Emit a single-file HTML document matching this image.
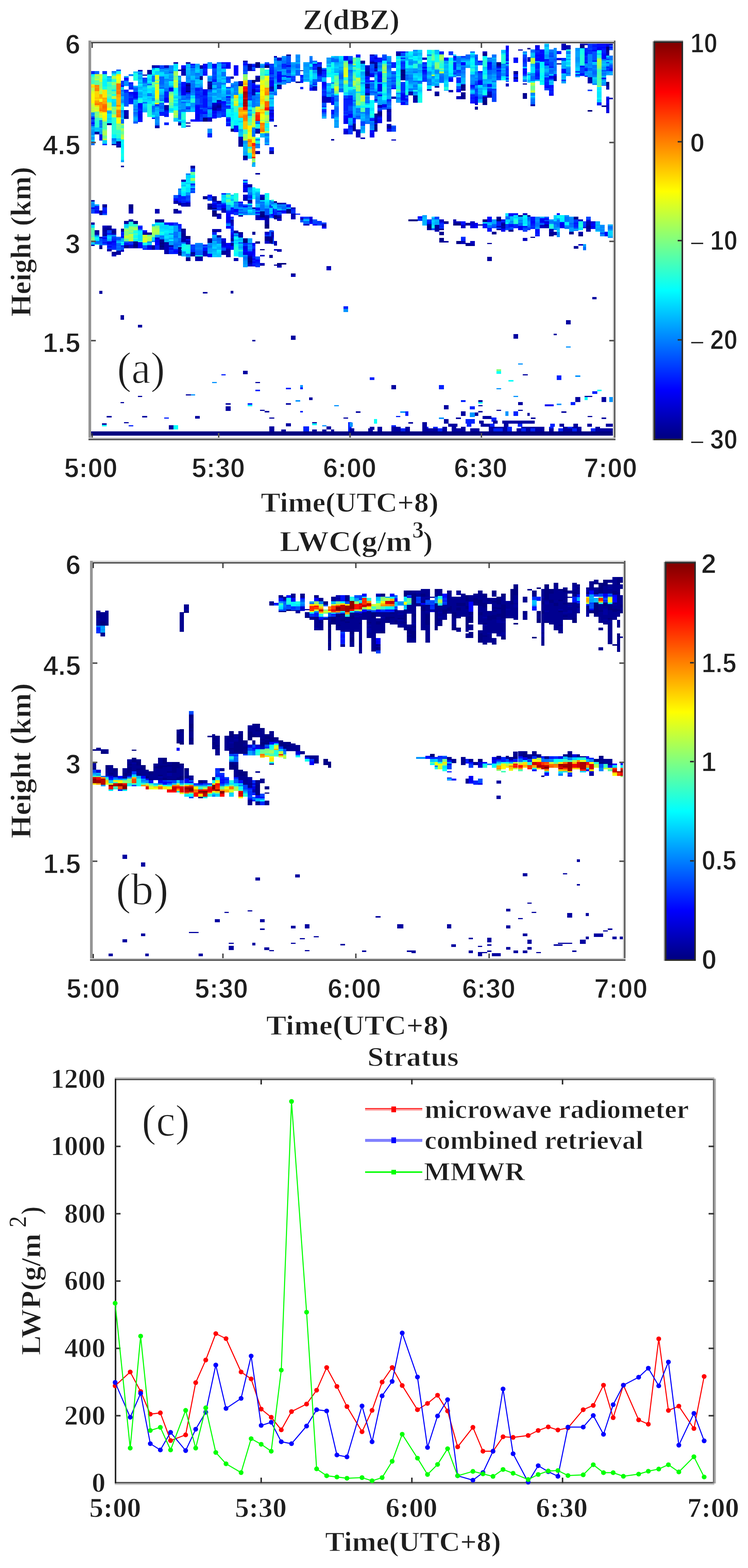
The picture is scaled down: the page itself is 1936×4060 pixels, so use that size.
<!DOCTYPE html><html><head><meta charset="utf-8"><style>html,body{margin:0;padding:0;background:#fff;}svg{display:block}</style></head><body>
<svg width="1936" height="4060" viewBox="0 0 1936 4060">
<rect x="0" y="0" width="1936" height="4060" fill="#ffffff"/>
<path fill="#0022ff" shape-rendering="crispEdges" d="M236 184h9v8h-9zM236 325h9v1h-9zM244.7 533h12.3v4h-12.3zM244.7 541h12.3v4h-12.3zM264.6 373h12.2v3h-12.2zM265.2 537h11.7v8h-11.7zM276.9 633h11.7v4h-11.7zM288.6 620h12.1v4h-12.1zM288.6 635h12.1v8h-12.1zM313.1 600h7.8v4h-7.8zM313.1 608h7.8v4h-7.8zM313.1 635h7.8v4h-7.8zM320.7 232h12v8h-12zM332.7 225h12.1v7h-12.1zM332.7 246h12.1v4h-12.1zM332.7 266h12.1v4h-12.1zM333 1101h12v3h-12zM356.8 283h11.9v4h-11.9zM368.8 643h11.7v4h-11.7zM400.9 270h11.7v4h-11.7zM401 635h11.7v12h-11.7zM412 177h12.7v1h-12.7zM412 294h12.7v4h-12.7zM424.7 237h12.3v16h-12.3zM424.7 290h12.3v4h-12.3zM424.7 317h12.3v7h-12.3zM425 1081h12v3h-12zM436.8 651h12.1v7h-12.1zM460.6 509h8.3v12h-8.3zM460.6 584h9.4v8h-9.4zM468.9 508h11.8v8h-11.8zM468.9 520h11.8v4h-11.8zM493 475h11.7v4h-11.7zM493 649h11.7v4h-11.7zM504.8 227h12.3v4h-12.3zM504.8 243h12.3v4h-12.3zM517.1 247h7.9v4h-7.9zM517.1 271h7.9v8h-7.9zM517.1 311h7.9v4h-7.9zM524.6 633h12.1v4h-12.1zM525 177h12.1v8h-12.1zM525 247h12.1v8h-12.1zM525 287h12.1v4h-12.1zM525 303h12.1v2h-12.1zM537.1 279h11.7v4h-11.7zM537.1 344.5h11.7v11.5h-11.7zM548.8 205h12.1v4h-12.1zM549.1 522h12.1v4h-12.1zM549.1 601h12.1v7h-12.1zM573 969h11v3h-11zM573.2 173h11.8v4h-11.8zM573.2 270h11.8v8h-11.8zM573.2 282h11.8v8h-11.8zM573.2 298h11.8v4h-11.8zM584.8 545h12.2v4h-12.2zM585 273h11.7v4h-11.7zM597 541h7.8v4h-7.8zM597 553h7.8v2h-7.8zM597 561h7.8v4h-7.8zM597 589h7.8v4h-7.8zM597 645h7.8v2h-7.8zM616.9 529h12.3v4h-12.3zM628.9 161h11.8v4h-11.8zM629.2 629h11.7v4h-11.7zM640.7 239h11.3v4h-11.3zM640.9 509h12.1v4h-12.1zM641 1044h12v4h-12zM653 641h8v4h-8zM653 665h8v4h-8zM653 673h8v4h-8zM653 681h8v4h-8zM661 537h11.7v4h-11.7zM661 680h11.7v4h-11.7zM661 1009h12v4h-12zM697 181h12.1v8h-12.1zM697 200h12.1v4h-12.1zM697 381h12.1v10h-12.1zM702 540h6.8v4h-6.8zM708.8 549h7.9v8h-7.9zM729.2 165h11.8v10h-11.8zM740 1004h13v4h-13zM752.8 541h12.1v4h-12.1zM764.9 553h12.3v3h-12.3zM777 1003h7v5h-7zM777 1064h7v4h-7zM777.1 198h7.8v4h-7.8zM777.1 206h7.8v4h-7.8zM777.1 225h7.8v6h-7.8zM785 1104h15v13h-15zM808.7 169h12.4v4h-12.4zM808.7 177h12.4v4h-12.4zM821.1 165h11.7v4h-11.7zM832.8 184h12.3v8h-12.3zM832.8 228h12.3v4h-12.3zM832.8 236h12.3v4h-12.3zM888.9 259h11.8v28h-11.8zM888.9 291h11.8v4h-11.8zM889 793h12v7h-12zM900.7 247h12.3v8h-12.3zM900.7 259h12.3v12h-12.3zM900.7 329h12.3v4h-12.3zM901 1093h9v24h-9zM913 317h7.8v3h-7.8zM945.1 205h11.7v4h-11.7zM945.1 229h11.7v8h-11.7zM956.8 145h11.9v4h-11.9zM957 977h12v7h-12zM976.9 284h12.1v4h-12.1zM977 1109h12v8h-12zM1001 257h12.1v4h-12.1zM1013 1101h12v12h-12zM1013.1 161h11.7v15h-11.7zM1025 1077h11v3h-11zM1036.9 161h12.3v4h-12.3zM1037 1109h12v8h-12zM1049 1065h8v12h-8zM1049.2 247h7.8v4h-7.8zM1049.2 259h7.8v4h-7.8zM1092.8 161h12.1v4h-12.1zM1092.8 189h12.1v4h-12.1zM1097 1105h12v4h-12zM1105.1 572h12v4h-12zM1121 1105h12v4h-12zM1133 1109h12v8h-12zM1136 997h13v11h-13zM1136.7 133h12.3v8h-12.3zM1137 576h12.1v4h-12.1zM1137 584h12.1v4h-12.1zM1172.9 149h8.2v4h-8.2zM1172.9 161h8.2v20h-8.2zM1181.1 200h11.7v15h-11.7zM1192.8 617h12.1v7h-12.1zM1193 1036h12v5h-12zM1205 1085h24v12h-24zM1208 1097h12v8h-12zM1216 1052h13v8h-13zM1216.8 224h12.3v4h-12.3zM1216.8 244h12.3v8h-12.3zM1216.8 256h12.3v4h-12.3zM1260.8 177h12.1v4h-12.1zM1260.8 217h12.1v4h-12.1zM1260.8 233h12.1v4h-12.1zM1268 1097h12v8h-12zM1272 1081h13v11h-13zM1277 1109h12v8h-12zM1285.2 573h12v12h-12zM1289 1109h12v8h-12zM1297.2 572h11v4h-11zM1308.7 134h8.4v8h-8.4zM1308.7 146h8.4v4h-8.4zM1308.7 162h8.4v4h-8.4zM1308.7 178h8.4v4h-8.4zM1308.7 202h8.4v4h-8.4zM1313 1105h12v12h-12zM1328.5 584h12.1v7h-12.1zM1328.8 196h12.1v4h-12.1zM1329 1065h12v12h-12zM1340 1097h12v8h-12zM1349 1109h12v8h-12zM1352.7 153h11.3v8h-11.3zM1373 581h11.9v4h-11.9zM1373 589h11.9v4h-11.9zM1373 1109h12v8h-12zM1384.9 605h12v4h-12zM1385 134h12.1v4h-12.1zM1385 166h12.1v12h-12.1zM1385 186h12.1v4h-12.1zM1385 198h12.1v8h-12.1zM1408.9 200h12.1v8h-12.1zM1408.9 212h12.1v8h-12.1zM1421 172h11.7v4h-11.7zM1421 228h11.7v4h-11.7zM1421 236h11.7v4h-11.7zM1421 1105h12v4h-12zM1424 1097h12v8h-12zM1440.7 132h12.1v4h-12.1zM1441 972h12v12h-12zM1445 1109h12v8h-12zM1452.8 150h12.3v4h-12.3zM1469 1105h12v4h-12zM1477 1041h12v8h-12zM1481 1109h12v8h-12zM1485.3 580h12v8h-12zM1488.9 192h11.8v4h-11.8zM1512.8 124h8.4v12h-8.4zM1512.8 148h8.4v8h-8.4zM1512.8 176h8.4v4h-8.4zM1521.2 129h11.8v4h-11.8zM1529 1109h12v8h-12zM1533 113h11.7v4h-11.7zM1533 121h11.7v8h-11.7zM1533 1013h13v7h-13zM1544.7 265h12.3v8h-12.3zM1557 129h12.1v8h-12.1zM1569.1 172h7.8v4h-7.8zM1569.1 250h7.8v4h-7.8zM1576.9 176h12.1v4h-12.1z"/>
<path fill="#00f5ff" shape-rendering="crispEdges" d="M236 192h9v4h-9zM264.6 204h12.2v20h-12.2zM288.8 348h12v10h-12zM312.5 279h8.2v4h-8.2zM312.5 361h8.2v8h-8.2zM312.5 373h8.2v12h-8.2zM344.9 620h12.1v4h-12.1zM356.8 217h11.9v4h-11.9zM356.8 253h11.9v4h-11.9zM357 600h11.8v8h-11.8zM380.8 197h12v4h-12zM380.8 209h12v4h-12zM380.8 237h12v4h-12zM392.8 180h8.1v4h-8.1zM401 576h11.7v4h-11.7zM412.7 576h12.3v4h-12.3zM425 598h11.8v4h-11.8zM436.8 620h12.1v4h-12.1zM437 210h12.1v4h-12.1zM437 288h12.1v4h-12.1zM449.1 177h11.8v4h-11.8zM460.9 310h8.2v4h-8.2zM468.9 495h11.8v4h-11.8zM468.9 631h11.8v4h-11.8zM468.9 647h11.8v4h-11.8zM480.7 469h12.3v4h-12.3zM480.7 482h12.3v4h-12.3zM493 457h11.7v4h-11.7zM561.2 647h11.9v4h-11.9zM573.2 227h11.8v4h-11.8zM584.8 512h12.2v4h-12.2zM585 294h11.7v8h-11.7zM596.7 271h8.4v8h-8.4zM596.7 291h8.4v4h-8.4zM596.7 299h8.4v12h-8.4zM597 508h7.8v4h-7.8zM604.8 656h12.1v4h-12.1zM605.1 311h11.7v14h-11.7zM616.8 247h12.1v4h-12.1zM616.8 255h12.1v4h-12.1zM616.8 263h12.1v4h-12.1zM640.7 276h11.3v4h-11.3zM640.7 380h11.3v4h-11.3zM640.7 400h11.3v4h-11.3zM640.9 527h12.1v4h-12.1zM640.9 543h12.1v4h-12.1zM653 485h8v8h-8zM661 536h11.7v1h-11.7zM684.8 319h12.2v4h-12.2zM684.8 327h12.2v4h-12.2zM684.8 500h12.2v4h-12.2zM684.8 516h12.2v4h-12.2zM800.9 165h7.8v4h-7.8zM800.9 201h7.8v4h-7.8zM845.1 189h11.7v4h-11.7zM856.8 181h8.2v4h-8.2zM856.8 189h8.2v4h-8.2zM856.8 197h8.2v8h-8.2zM865 243h11.7v4h-11.7zM900.7 229h12.3v4h-12.3zM920.8 193h12.2v8h-12.2zM933 225h12.1v8h-12.1zM933 275h12.1v4h-12.1zM956.8 263h11.9v4h-11.9zM956.8 303h11.9v2h-11.9zM989 157h12v8h-12zM989 217h12v4h-12zM1024.8 185h12.1v8h-12.1zM1049.2 161h7.8v4h-7.8zM1049.2 209h7.8v12h-7.8zM1057 133h11.8v8h-11.8zM1057 169h11.8v4h-11.8zM1068.8 149h12.3v4h-12.3zM1081.1 205h11.7v4h-11.7zM1081.1 241h11.7v4h-11.7zM1081.1 265h11.7v1h-11.7zM1104.9 129h11.8v12h-11.8zM1104.9 157h11.8v4h-11.8zM1161.1 149h11.8v8h-11.8zM1161.1 193h11.8v4h-11.8zM1216.8 137h12.3v4h-12.3zM1216.8 161h12.3v8h-12.3zM1249 145h11.8v4h-11.8zM1249 185h11.8v4h-11.8zM1249 233h11.8v4h-11.8zM1328.5 565h12.1v4h-12.1zM1352.9 561h12.1v4h-12.1zM1364.9 195h7.8v8h-7.8zM1397.1 160h11.8v16h-11.8zM1397.1 196h11.8v4h-11.8zM1448.9 557h12.5v4h-12.5zM1448.9 565h12.5v8h-12.5zM1461.4 575h12v8h-12zM1465.1 156h11.8v4h-11.8zM1544.7 130h12.3v4h-12.3zM1544.7 225h12.3v4h-12.3zM1544.7 233h12.3v4h-12.3z"/>
<path fill="#06fff9" shape-rendering="crispEdges" d="M236 196h9v2h-9zM244.7 616h12.3v4h-12.3zM264 1100h12v4h-12zM276.8 256h12v8h-12zM288.8 244h12v4h-12zM300.8 184h11.7v4h-11.7zM312.5 369h8.2v4h-8.2zM312.5 385h8.2v12h-8.2zM312.5 405h8.2v9h-8.2zM313.1 625h7.8v4h-7.8zM313.1 633h7.8v2h-7.8zM344.9 612h12.1v4h-12.1zM356.8 265h11.9v2h-11.9zM368.8 628h11.7v4h-11.7zM380.8 193h12v4h-12zM392.8 184h8.1v4h-8.1zM392.8 298h8.1v4h-8.1zM400.9 176h11.7v4h-11.7zM412.7 604h12.3v4h-12.3zM449 1101h12v11h-12zM449.1 227h11.8v16h-11.8zM449.1 275h11.8v11h-11.8zM468.9 487h11.8v4h-11.8zM468.9 635h11.8v4h-11.8zM469.1 290h11.7v4h-11.7zM469.1 322h11.7v4h-11.7zM480.7 478h12.3v4h-12.3zM480.7 645h12.3v4h-12.3zM480.7 653h12.3v4h-12.3zM493 453h11.7v4h-11.7zM493 469h11.7v4h-11.7zM584.8 524h12.2v4h-12.2zM585 290h11.7v4h-11.7zM596.7 311h8.4v4h-8.4zM604.8 612h12.1v8h-12.1zM604.8 632h12.1v4h-12.1zM604.8 652h12.1v4h-12.1zM604.8 660h12.1v4h-12.1zM605.1 291h11.7v20h-11.7zM616.8 259h12.1v4h-12.1zM616.8 275h12.1v3h-12.1zM616.8 305h12.1v8h-12.1zM616.8 321h12.1v4h-12.1zM640.7 280h11.3v4h-11.3zM640.7 304h11.3v1h-11.3zM640.7 396h11.3v4h-11.3zM641 1048h12v4h-12zM653 505h8v8h-8zM660.8 321h11.7v4h-11.7zM661 488h11.7v8h-11.7zM684.8 323h12.2v4h-12.2zM684.8 508h12.2v4h-12.2zM800.9 169h7.8v4h-7.8zM800.9 185h7.8v8h-7.8zM800.9 197h7.8v4h-7.8zM808 1096h12v5h-12zM845.1 173h11.7v4h-11.7zM845.1 197h11.7v3h-11.7zM856.8 161h8.2v4h-8.2zM856.8 173h8.2v4h-8.2zM856.8 193h8.2v4h-8.2zM856.8 209h8.2v4h-8.2zM865 189h11.7v4h-11.7zM920.8 169h12.2v4h-12.2zM920.8 189h12.2v4h-12.2zM945.1 271h11.7v8h-11.7zM956.8 259h11.9v4h-11.9zM956.8 267h11.9v12h-11.9zM956.8 287h11.9v8h-11.9zM956.8 299h11.9v4h-11.9zM968 1085h8v12h-8zM989 221h12v4h-12zM989 251h12v8h-12zM1024.8 169h12.1v8h-12.1zM1024.8 200h12.1v4h-12.1zM1049.2 157h7.8v4h-7.8zM1049.2 165h7.8v12h-7.8zM1049.2 233h7.8v4h-7.8zM1057 149h11.8v4h-11.8zM1068.8 145h12.3v4h-12.3zM1068.8 153h12.3v4h-12.3zM1081.1 221h11.7v4h-11.7zM1081.1 245h11.7v8h-11.7zM1117.1 584h8v4h-8zM1124.9 141h11.8v4h-11.8zM1161.1 169h11.8v20h-11.8zM1161.1 197h11.8v1h-11.8zM1216.8 153h12.3v8h-12.3zM1238 1041h11v4h-11zM1249 149h11.8v4h-11.8zM1249 237h11.8v4h-11.8zM1285 961h12v7h-12zM1297 201h11.7v7h-11.7zM1308.2 576h11.8v4h-11.8zM1316 984h13v4h-13zM1352.9 557h12.1v4h-12.1zM1352.9 581h12.1v4h-12.1zM1372.7 210h12.3v4h-12.3zM1397.1 188h11.8v8h-11.8zM1397.1 200h11.8v4h-11.8zM1397.1 212h11.8v8h-11.8zM1440.9 561h8v4h-8zM1448.9 561h12.5v4h-12.5zM1500.7 125h12.1v4h-12.1zM1513 1028h8v8h-8zM1544.7 253h12.3v4h-12.3zM1546 1009h11v4h-11z"/>
<path fill="#47ffb8" shape-rendering="crispEdges" d="M236 198h9v4h-9zM236 206h9v4h-9zM236 214h9v4h-9zM236 610h8.7v4h-8.7zM256.5 305h8.1v6h-8.1zM264.6 315h12.2v4h-12.2zM264.6 331h12.2v4h-12.2zM276.8 224h12v12h-12zM276.8 240h12v4h-12zM288.8 228h12v4h-12zM312.5 328h8.2v4h-8.2zM344.9 584h12.1v4h-12.1zM344.9 604h12.1v4h-12.1zM392.8 224h8.1v2h-8.1zM437 273h12.1v7h-12.1zM584.8 508h12.2v4h-12.2zM605.1 274h11.7v4h-11.7zM628.9 335h11.8v4h-11.8zM640.7 305h11.3v4h-11.3zM640.7 313h11.3v4h-11.3zM672.5 184h12.3v4h-12.3zM684.8 290h12.2v4h-12.2zM865 207h11.7v4h-11.7zM888.9 157h11.8v4h-11.8zM913 161h7.8v4h-7.8zM913 189h7.8v4h-7.8zM913 205h7.8v4h-7.8zM920.8 149h12.2v4h-12.2zM933 263h12.1v8h-12.1zM989 193h12v4h-12zM989 205h12v4h-12zM1136.7 157h12.3v4h-12.3zM1544.7 178h12.3v4h-12.3zM1544.7 186h12.3v8h-12.3zM1544.7 202h12.3v4h-12.3zM1544.7 210h12.3v4h-12.3z"/>
<path fill="#57ffa8" shape-rendering="crispEdges" d="M236 202h9v4h-9zM236 590h8.7v20h-8.7zM245 208h11.5v4h-11.5zM245 216h11.5v4h-11.5zM264.6 319h12.2v12h-12.2zM276.8 212h12v4h-12zM276.8 236h12v4h-12zM276.8 248h12v4h-12zM288.8 220h12v8h-12zM288.8 236h12v4h-12zM288.8 292h12v4h-12zM312.5 324h8.2v4h-8.2zM320.9 590h11.7v4h-11.7zM332.6 602h12.3v4h-12.3zM392.8 212h8.1v4h-8.1zM400.9 214h11.7v4h-11.7zM400.9 262h11.7v4h-11.7zM437 237h12.1v4h-12.1zM584.8 516h12.2v8h-12.2zM652 278h8.8v4h-8.8zM652 286h8.8v4h-8.8zM672.5 180h12.3v4h-12.3zM684.8 294h12.2v4h-12.2zM865 195h11.7v4h-11.7zM913 149h7.8v4h-7.8zM913 173h7.8v4h-7.8zM913 193h7.8v4h-7.8zM913 229h7.8v2h-7.8zM920.8 177h12.2v4h-12.2zM920.8 217h12.2v4h-12.2zM920.8 241h12.2v20h-12.2zM933 279h12.1v11h-12.1zM989 201h12v4h-12zM1116.7 141h8.2v4h-8.2zM1124.9 177h11.8v3h-11.8zM1544.7 194h12.3v8h-12.3zM1544.7 206h12.3v4h-12.3zM1544.7 214h12.3v8h-12.3z"/>
<path fill="#37ffc8" shape-rendering="crispEdges" d="M236 210h9v4h-9zM245 305h11.5v8h-11.5zM245 329h11.5v1h-11.5zM276.8 216h12v4h-12zM276.8 252h12v4h-12zM288.8 204h12v4h-12zM300.8 336h11.7v4h-11.7zM300.8 344h11.7v4h-11.7zM300.8 356h11.7v2h-11.7zM344.9 616h12.1v4h-12.1zM344.9 624h12.1v1h-12.1zM357 624h11.8v3h-11.8zM392.8 220h8.1v4h-8.1zM605.1 278h11.7v12h-11.7zM628.9 339h11.8v8h-11.8zM640.7 309h11.3v4h-11.3zM660.8 329h11.7v4h-11.7zM672.5 188h12.3v8h-12.3zM684.8 331h12.2v4h-12.2zM888.9 200h11.8v4h-11.8zM913 177h7.8v4h-7.8zM920.8 153h12.2v4h-12.2zM989 189h12v4h-12zM989 197h12v4h-12zM1024.8 212h12.1v8h-12.1zM1116.7 129h8.2v4h-8.2zM1116.7 137h8.2v4h-8.2zM1136.7 161h12.3v4h-12.3zM1544.7 182h12.3v4h-12.3z"/>
<path fill="#c8ff37" shape-rendering="crispEdges" d="M236 218h9v1h-9zM236 271h9v7h-9zM236 282h9v4h-9zM236 290h9v1h-9zM245 192h11.5v4h-11.5zM245 280h11.5v4h-11.5zM256.5 196h8.1v8h-8.1zM256.5 208h8.1v4h-8.1zM256.5 232h8.1v4h-8.1zM256.5 301h8.1v4h-8.1zM276.8 267h12v4h-12zM288.8 252h12v4h-12zM288.8 300h12v4h-12zM312.5 356h8.2v5h-8.2zM320.9 610h11.7v4h-11.7zM332.6 606h12.3v4h-12.3zM400.9 222h11.7v4h-11.7zM400.9 230h11.7v4h-11.7zM400.9 254h11.7v4h-11.7zM449.1 224h11.8v3h-11.8zM616.8 223h12.1v4h-12.1zM628.9 363h11.8v1h-11.8zM652 310h8.8v8h-8.8zM652 354h8.8v4h-8.8zM652 418h8.8v4h-8.8zM672.5 274h12.3v4h-12.3zM684.8 208h12.2v4h-12.2zM684.8 220h12.2v4h-12.2zM684.8 251h12.2v4h-12.2zM865 223h11.7v4h-11.7zM865 231h11.7v4h-11.7zM888.9 199h11.8v1h-11.8zM933 247h12.1v4h-12.1zM1136.7 189h12.3v1h-12.3zM1372.7 150h12.3v8h-12.3zM1372.7 214h12.3v4h-12.3zM1372.7 234h12.3v6h-12.3zM1544.7 154h12.3v4h-12.3z"/>
<path fill="#ffe500" shape-rendering="crispEdges" d="M236 219h9v4h-9zM264.6 232h12.2v20h-12.2zM300.8 192h11.7v4h-11.7zM605.1 246h11.7v4h-11.7zM605.1 270h11.7v4h-11.7zM640.7 337h11.3v4h-11.3zM660.8 284h11.7v4h-11.7zM672.5 232h12.3v4h-12.3zM672.5 248h12.3v8h-12.3zM672.5 264h12.3v6h-12.3zM672.5 286h12.3v4h-12.3z"/>
<path fill="#ffd500" shape-rendering="crispEdges" d="M236 223h9v4h-9zM245 236h11.5v16h-11.5zM245 256h11.5v4h-11.5zM245 272h11.5v4h-11.5zM264.6 252h12.2v1h-12.2zM300.8 276h11.7v8h-11.7zM605.1 250h11.7v4h-11.7zM628.9 208h11.8v4h-11.8zM628.9 290h11.8v4h-11.8zM672.5 256h12.3v8h-12.3z"/>
<path fill="#b8ff47" shape-rendering="crispEdges" d="M236 227h9v8h-9zM236 278h9v4h-9zM236 286h9v4h-9zM245 204h11.5v4h-11.5zM256.5 192h8.1v4h-8.1zM256.5 204h8.1v4h-8.1zM256.5 236h8.1v8h-8.1zM256.5 297h8.1v4h-8.1zM264.6 359h12.2v4h-12.2zM276.8 271h12v8h-12zM288.8 200h12v4h-12zM288.8 296h12v4h-12zM312.5 352h8.2v4h-8.2zM320.9 614h11.7v4h-11.7zM332.6 610h12.3v4h-12.3zM332.6 618h12.3v4h-12.3zM368.8 612h11.7v4h-11.7zM380.5 612h12.7v4h-12.7zM380.5 624h12.7v1h-12.7zM393.2 594h7.8v8h-7.8zM401 596h11.7v4h-11.7zM437 249h12.1v4h-12.1zM449.1 216h11.8v8h-11.8zM449.1 294h11.8v4h-11.8zM605.1 266h11.7v4h-11.7zM628.9 359h11.8v4h-11.8zM640.7 388h11.3v4h-11.3zM652 306h8.8v4h-8.8zM652 326h8.8v4h-8.8zM672.5 278h12.3v4h-12.3zM672.5 310h12.3v4h-12.3zM684.8 212h12.2v8h-12.2zM684.8 224h12.2v3h-12.2zM684.8 247h12.2v4h-12.2zM684.8 298h12.2v8h-12.2zM684.8 339h12.2v4h-12.2zM913 209h7.8v4h-7.8zM913 217h7.8v4h-7.8zM920.8 201h12.2v8h-12.2zM933 251h12.1v12h-12.1zM989 185h12v4h-12zM1116.7 193h8.2v4h-8.2zM1136.7 185h12.3v4h-12.3zM1372.7 158h12.3v4h-12.3zM1544.7 158h12.3v4h-12.3z"/>
<path fill="#d9ff26" shape-rendering="crispEdges" d="M236 235h9v4h-9zM236 267h9v4h-9zM245 276h11.5v4h-11.5zM245 288h11.5v1h-11.5zM256.5 292h8.1v4h-8.1zM264.6 307h12.2v4h-12.2zM300.8 212h11.7v4h-11.7zM332.6 622h12.3v3h-12.3zM368.8 608h11.7v4h-11.7zM368.8 616h11.7v12h-11.7zM400.9 194h11.7v12h-11.7zM400.9 210h11.7v4h-11.7zM400.9 218h11.7v4h-11.7zM400.9 226h11.7v4h-11.7zM449.1 208h11.8v4h-11.8zM605.1 262h11.7v4h-11.7zM616.8 227h12.1v12h-12.1zM628.9 220h11.8v3h-11.8zM640.7 357h11.3v3h-11.3zM652 318h8.8v8h-8.8zM660.8 280h11.7v4h-11.7zM660.8 288h11.7v2h-11.7zM672.5 216h12.3v4h-12.3zM672.5 270h12.3v4h-12.3zM865 227h11.7v4h-11.7zM888.9 175h11.8v20h-11.8z"/>
<path fill="#e9ff16" shape-rendering="crispEdges" d="M236 239h9v4h-9zM245 284h11.5v4h-11.5zM256.5 260h8.1v4h-8.1zM256.5 296h8.1v1h-8.1zM276.8 283h12v3h-12zM300.8 204h11.7v8h-11.7zM300.8 304h11.7v4h-11.7zM400.9 242h11.7v12h-11.7zM400.9 266h11.7v4h-11.7zM640.7 341h11.3v12h-11.3zM660.8 276h11.7v4h-11.7zM672.5 208h12.3v8h-12.3zM672.5 302h12.3v8h-12.3zM684.8 196h12.2v8h-12.2z"/>
<path fill="#f9ff06" shape-rendering="crispEdges" d="M236 243h9v16h-9zM256.5 256h8.1v4h-8.1zM264.6 291h12.2v8h-12.2zM276.8 279h12v4h-12zM300.8 196h11.7v8h-11.7zM300.8 308h11.7v12h-11.7zM640.7 353h11.3v4h-11.3zM652 358h8.8v12h-8.8zM652 422h8.8v3h-8.8zM672.5 298h12.3v4h-12.3zM672.5 342h12.3v3h-12.3zM684.8 204h12.2v4h-12.2zM888.9 195h11.8v4h-11.8z"/>
<path fill="#fff500" shape-rendering="crispEdges" d="M236 259h9v8h-9zM264.6 299h12.2v8h-12.2zM400.9 234h11.7v8h-11.7zM640.7 325h11.3v12h-11.3zM672.5 220h12.3v12h-12.3zM672.5 236h12.3v12h-12.3zM672.5 294h12.3v4h-12.3zM672.5 314h12.3v4h-12.3z"/>
<path fill="#0094ff" shape-rendering="crispEdges" d="M236 291h9v8h-9zM236 326h9v4h-9zM236 338h9v4h-9zM236 354h9v8h-9zM256.5 347h8.1v1h-8.1zM288.6 608h12.1v4h-12.1zM312.5 237h8.2v4h-8.2zM312.5 257h8.2v4h-8.2zM312.5 265h8.2v2h-8.2zM312.5 289h8.2v4h-8.2zM313.1 616h7.8v4h-7.8zM320.7 213h12v4h-12zM344.8 270h12v4h-12zM344.8 278h12v4h-12zM344.8 286h12v4h-12zM368.7 220h12.1v4h-12.1zM380.5 625h12.7v4h-12.7zM392.8 254h8.1v4h-8.1zM400.9 310h11.7v8h-11.7zM401 612h11.7v3h-11.7zM412 178h12.7v8h-12.7zM412 250h12.7v4h-12.7zM424.7 184h12.3v8h-12.3zM424.7 208h12.3v4h-12.3zM424.7 216h12.3v12h-12.3zM436.8 604h12.1v4h-12.1zM436.8 624h12.1v4h-12.1zM436.8 632h12.1v3h-12.1zM437 177h12.1v5h-12.1zM437 198h12.1v4h-12.1zM448.9 619h11.7v4h-11.7zM460.6 492h8.3v8h-8.3zM460.9 212h8.2v4h-8.2zM460.9 260h8.2v12h-8.2zM460.9 276h8.2v4h-8.2zM468.9 651h11.8v4h-11.8zM469.1 267h11.7v16h-11.7zM480.7 498h12.3v8h-12.3zM480.8 197h11.9v4h-11.9zM480.8 205h11.9v4h-11.9zM480.8 263h11.9v4h-11.9zM492.7 184h12.1v12h-12.1zM492.7 266h12.1v12h-12.1zM492.7 436h12.1v4h-12.1zM494 1021h11v3h-11zM504.8 197h12.3v4h-12.3zM517.1 178h7.9v19h-7.9zM536.7 629h12.4v4h-12.4zM536.7 641h12.4v4h-12.4zM537.1 161h11.7v4h-11.7zM537.1 208h11.7v3h-11.7zM537.1 239h11.7v4h-11.7zM537.1 247h11.7v4h-11.7zM537.1 295h11.7v4h-11.7zM537.1 333h11.7v11.5h-11.7zM548.8 240h12.1v8h-12.1zM549 989h12v3h-12zM560.9 233h12.3v8h-12.3zM573.2 251h11.8v8h-11.8zM596.7 215h8.4v4h-8.4zM604.8 526h12.1v4h-12.1zM604.8 534h12.1v7h-12.1zM605.1 235h11.7v4h-11.7zM628.9 364h11.8v8h-11.8zM629.2 537h11.7v8h-11.7zM629.2 660h11.7v4h-11.7zM629.2 676h11.7v8h-11.7zM640.7 284h11.3v4h-11.3zM640.7 296h11.3v4h-11.3zM640.9 489h12.1v4h-12.1zM640.9 539h12.1v4h-12.1zM640.9 633h12.1v4h-12.1zM640.9 641h12.1v4h-12.1zM660.8 263h11.7v4h-11.7zM660.8 275h11.7v1h-11.7zM661 508h11.7v4h-11.7zM684.8 357h12.2v4h-12.2zM697 237h12.1v4h-12.1zM697 526h9v4h-9zM708.8 525h7.9v4h-7.9zM709.1 173h7.8v4h-7.8zM709.1 205h7.8v12h-7.8zM716.7 537h12.3v4h-12.3zM716.9 161h12.3v4h-12.3zM716.9 181h12.3v4h-12.3zM729.2 145h11.8v4h-11.8zM729.2 183h11.8v4h-11.8zM729.2 191h11.8v4h-11.8zM729.2 215h11.8v4h-11.8zM741 205h12v4h-12zM753 165h12v4h-12zM753 173h12v4h-12zM765 141h12.1v4h-12.1zM765 149h12.1v8h-12.1zM765 1036h12v4h-12zM777 997h7v6h-7zM784.9 165h16v8h-16zM784.9 205h16v4h-16zM808.7 185h12.4v4h-12.4zM834 1101h11v3h-11zM845.1 149h11.7v4h-11.7zM845.1 157h11.7v8h-11.7zM856.8 241h8.2v4h-8.2zM865 149h11.7v4h-11.7zM865 311h11.7v4h-11.7zM865 327h11.7v4h-11.7zM865 1049h12v3h-12zM876.7 181h12.2v4h-12.2zM876.7 205h12.2v4h-12.2zM876.7 221h12.2v4h-12.2zM889 800h12v8h-12zM900.7 197h12.3v8h-12.3zM900.7 209h12.3v4h-12.3zM900.7 217h12.3v8h-12.3zM905 1094h8v11h-8zM913 299h7.8v4h-7.8zM920.8 292h12.2v4h-12.2zM933 213h12.1v4h-12.1zM933 330h12.1v4h-12.1zM945.1 247h11.7v4h-11.7zM945.1 307h11.7v4h-11.7zM956.8 212h11.9v4h-11.9zM956.8 232h11.9v4h-11.9zM956.8 333h11.9v4h-11.9zM976.9 165h12.1v4h-12.1zM976.9 269h12.1v3h-12.1zM989 267h12v3h-12zM1001 149h12.1v8h-12.1zM1001 165h12.1v4h-12.1zM1001 185h12.1v4h-12.1zM1001 197h12.1v4h-12.1zM1001 205h12.1v4h-12.1zM1001 225h12.1v4h-12.1zM1001 241h12.1v4h-12.1zM1024.8 256h12.1v4h-12.1zM1024.8 264h12.1v2h-12.1zM1036 1065h13v4h-13zM1049.2 185h7.8v4h-7.8zM1057 157h11.8v4h-11.8zM1057 165h11.8v4h-11.8zM1057 185h11.8v4h-11.8zM1057 213h11.8v4h-11.8zM1057 233h11.8v4h-11.8zM1068.8 141h12.3v4h-12.3zM1068.8 177h12.3v8h-12.3zM1068.8 217h12.3v4h-12.3zM1068.8 225h12.3v4h-12.3zM1068.8 241h12.3v4h-12.3zM1081.1 169h11.7v4h-11.7zM1081.1 181h11.7v4h-11.7zM1104.9 185h11.8v8h-11.8zM1124.9 180h11.8v4h-11.8zM1124.9 188h11.8v4h-11.8zM1124.9 220h11.8v3h-11.8zM1136 1081h13v4h-13zM1181.1 145h11.7v4h-11.7zM1181.1 165h11.7v8h-11.7zM1192.8 153h11.9v4h-11.9zM1192.8 193h11.9v8h-11.9zM1204.7 153h12.1v4h-12.1zM1216 1068h13v12h-13zM1216.8 200h12.3v8h-12.3zM1229.1 193h8v4h-8zM1229.1 205h8v4h-8zM1229.1 221h8v4h-8zM1260.8 153h12.1v4h-12.1zM1260.8 225h12.1v4h-12.1zM1272.9 153h12.3v4h-12.3zM1272.9 197h12.3v4h-12.3zM1273.1 568h12.1v4h-12.1zM1285 1005h12v3h-12zM1297 169h11.7v4h-11.7zM1297 181h11.7v4h-11.7zM1308 1065h8v12h-8zM1308.7 198h8.4v4h-8.4zM1316 576h12.5v4h-12.5zM1329 1025h12v3h-12zM1340.6 573h12.3v4h-12.3zM1341 941h12v3h-12zM1352.7 205h11.3v4h-11.3zM1365 573h8v8h-8zM1372.7 252h12.3v4h-12.3zM1384.9 569h12v4h-12zM1396.9 581h12.1v1h-12.1zM1408.9 141h12.1v8h-12.1zM1408.9 170h12.1v8h-12.1zM1408.9 186h12.1v4h-12.1zM1420.9 568h12.1v4h-12.1zM1432.7 128h8v12h-8zM1432.7 184h8v8h-8zM1433 589h7.9v4h-7.9zM1440.9 600h8v4h-8zM1440.9 608h8v4h-8zM1441 1045h12v4h-12zM1461.4 557h12v4h-12zM1461.4 583h12v4h-12zM1465 897h12v3h-12zM1465.1 192h11.8v5h-11.8zM1473.4 561h11.9v4h-11.9zM1488.9 124h11.8v8h-11.8zM1488.9 148h11.8v12h-11.8zM1489 972h13v4h-13zM1509.2 636h7.6v4h-7.6zM1512.8 168h8.4v4h-8.4zM1512.8 188h8.4v4h-8.4zM1521.2 160h11.8v4h-11.8zM1521.2 172h11.8v4h-11.8zM1521.2 188h11.8v12h-11.8zM1541.2 593h12v4h-12zM1553.2 582h11.9v4h-11.9zM1553.2 590h11.9v4h-11.9zM1553.2 598h11.9v4h-11.9zM1557 173h12.1v4h-12.1zM1557 205h12.1v4h-12.1zM1557 213h12.1v8h-12.1zM1569.1 184h7.8v8h-7.8zM1573.1 593h15.9v4h-15.9zM1573.1 613h15.9v3h-15.9zM1576.9 184h12.1v4h-12.1zM1577 1028h12v13h-12z"/>
<path fill="#00a4ff" shape-rendering="crispEdges" d="M236 299h9v2h-9zM236 334h9v4h-9zM236 522h8.7v4h-8.7zM256.5 339h8.1v8h-8.1zM264.6 371h12.2v2h-12.2zM276.8 197h12v4h-12zM276.8 290h12v4h-12zM276.9 608h11.7v4h-11.7zM276.9 620h11.7v4h-11.7zM288.8 366h12v7h-12zM312.5 293h8.2v12h-8.2zM312.5 418h8.2v2h-8.2zM320.7 197h12v4h-12zM320.7 221h12v2h-12zM344.8 222h12v4h-12zM344.8 302h12v4h-12zM344.8 310h12v4h-12zM356.8 185h11.9v4h-11.9zM356.8 201h11.9v4h-11.9zM356.8 241h11.9v4h-11.9zM356.8 249h11.9v4h-11.9zM368.7 216h12.1v4h-12.1zM368.7 284h12.1v7h-12.1zM380.5 633h12.7v2h-12.7zM392.8 176h8.1v4h-8.1zM392.8 258h8.1v4h-8.1zM392.8 290h8.1v4h-8.1zM400.9 282h11.7v4h-11.7zM401 608h11.7v4h-11.7zM424.7 180h12.3v4h-12.3zM424.7 212h12.3v4h-12.3zM436.8 628h12.1v4h-12.1zM437 194h12.1v4h-12.1zM437 202h12.1v4h-12.1zM437 222h12.1v4h-12.1zM448.9 584h11.7v16h-11.7zM460.6 600h9.4v12h-9.4zM460.6 636h9.4v4h-9.4zM460.9 272h8.2v4h-8.2zM460.9 280h8.2v4h-8.2zM468.9 655h11.8v4h-11.8zM480.8 193h11.9v4h-11.9zM480.8 209h11.9v4h-11.9zM504.8 165h12.3v8h-12.3zM504.8 217h12.3v4h-12.3zM504.8 225h12.3v2h-12.3zM517.1 219h7.9v4h-7.9zM536.7 645h12.4v8h-12.4zM537.1 165h11.7v8h-11.7zM537.1 283h11.7v4h-11.7zM537.1 291h11.7v4h-11.7zM537.1 299h11.7v4h-11.7zM549.1 612h12.1v4h-12.1zM549.1 628h12.1v4h-12.1zM549.1 644h12.1v4h-12.1zM560.9 229h12.3v4h-12.3zM560.9 241h12.3v12h-12.3zM573.2 202h11.8v4h-11.8zM573.2 214h11.8v1h-11.8zM573.2 259h11.8v3h-11.8zM584.8 530h12.2v12h-12.2zM584.8 581h12.2v4h-12.2zM585 229h11.7v4h-11.7zM596.7 243h8.4v4h-8.4zM604.8 604h12.1v4h-12.1zM616.8 335h12.1v4h-12.1zM616.9 537h12.3v4h-12.3zM616.9 639h12.3v4h-12.3zM628.9 392h11.8v11h-11.8zM629.2 684h11.7v8h-11.7zM640.9 493h12.1v4h-12.1zM640.9 535h12.1v4h-12.1zM640.9 551h12.1v6h-12.1zM640.9 617h12.1v8h-12.1zM652 429h8.8v3h-8.8zM653 420h8v8h-8zM653 541h8v4h-8zM653 549h8v4h-8zM661 500h11.7v8h-11.7zM672.5 165h12.3v4h-12.3zM684.8 532h12.2v8h-12.2zM709.1 157h7.8v8h-7.8zM709.1 233h7.8v4h-7.8zM729.2 179h11.8v4h-11.8zM729.2 187h11.8v4h-11.8zM741 201h12v4h-12zM753 161h12v4h-12zM753 177h12v4h-12zM753 193h12v4h-12zM765 177h12.1v4h-12.1zM784.9 161h16v4h-16zM784.9 173h16v16h-16zM784.9 193h16v8h-16zM808.7 181h12.4v4h-12.4zM845.1 153h11.7v4h-11.7zM845.1 169h11.7v4h-11.7zM845.1 215h11.7v8h-11.7zM845.1 235h11.7v4h-11.7zM845.1 243h11.7v8h-11.7zM865 161h11.7v4h-11.7zM865 185h11.7v4h-11.7zM865 263h11.7v12h-11.7zM865 315h11.7v12h-11.7zM876.7 173h12.2v4h-12.2zM876.7 209h12.2v8h-12.2zM876.7 225h12.2v4h-12.2zM900.7 169h12.3v4h-12.3zM900.7 213h12.3v4h-12.3zM900.7 241h12.3v4h-12.3zM900.7 305h12.3v4h-12.3zM900.7 313h12.3v8h-12.3zM913 251h7.8v8h-7.8zM913 263h7.8v4h-7.8zM913 295h7.8v4h-7.8zM913 303h7.8v2h-7.8zM933 185h12.1v8h-12.1zM933 310h12.1v4h-12.1zM933 326h12.1v4h-12.1zM933 334h12.1v4h-12.1zM968.7 193h8.2v4h-8.2zM968.7 201h8.2v8h-8.2zM968.7 233h8.2v4h-8.2zM976.9 177h12.1v4h-12.1zM976.9 249h12.1v4h-12.1zM976.9 257h12.1v12h-12.1zM989 263h12v4h-12zM1001 145h12.1v4h-12.1zM1001 189h12.1v8h-12.1zM1001 245h12.1v4h-12.1zM1001 253h12.1v4h-12.1zM1024.8 260h12.1v4h-12.1zM1049.2 149h7.8v4h-7.8zM1049.2 177h7.8v4h-7.8zM1049.2 189h7.8v4h-7.8zM1057 153h11.8v4h-11.8zM1057 177h11.8v8h-11.8zM1057 189h11.8v4h-11.8zM1068.8 137h12.3v4h-12.3zM1068.8 157h12.3v8h-12.3zM1068.8 213h12.3v4h-12.3zM1068.8 245h12.3v2h-12.3zM1081.1 165h11.7v4h-11.7zM1081.1 173h11.7v4h-11.7zM1081.1 185h11.7v4h-11.7zM1093.1 557h12v5h-12zM1104.9 201h11.8v4h-11.8zM1116.7 173h8.2v4h-8.2zM1116.7 201h8.2v4h-8.2zM1116.7 213h8.2v4h-8.2zM1124.9 208h11.8v4h-11.8zM1124.9 216h11.8v4h-11.8zM1125.1 576h11.9v4h-11.9zM1149 157h12.1v8h-12.1zM1149 185h12.1v4h-12.1zM1149 193h12.1v12h-12.1zM1172.9 193h8.2v4h-8.2zM1204.7 169h12.1v7h-12.1zM1216.8 145h12.3v4h-12.3zM1216.8 240h12.3v4h-12.3zM1229.1 197h8v4h-8zM1237.1 228h11.9v4h-11.9zM1237.1 236h11.9v4h-11.9zM1237.1 256h11.9v4h-11.9zM1249 205h11.8v4h-11.8zM1260.8 205h12.1v4h-12.1zM1272.9 157h12.3v4h-12.3zM1272.9 193h12.3v4h-12.3zM1272.9 201h12.3v8h-12.3zM1272.9 221h12.3v4h-12.3zM1272.9 229h12.3v1h-12.3zM1273.1 572h12.1v8h-12.1zM1297 185h11.7v4h-11.7zM1308.7 158h8.4v4h-8.4zM1308.7 206h8.4v4h-8.4zM1384.9 589h12v4h-12zM1385 158h12.1v4h-12.1zM1408.9 117h12.1v4h-12.1zM1408.9 149h12.1v4h-12.1zM1420.9 592h12.1v1h-12.1zM1440.9 565h8v4h-8zM1440.9 589h8v4h-8zM1452.8 170h12.3v4h-12.3zM1452.8 210h12.3v6h-12.3zM1465.1 152h11.8v4h-11.8zM1465.1 172h11.8v4h-11.8zM1473.4 589h11.9v11h-11.9zM1485.3 592h12v4h-12zM1488.9 132h11.8v16h-11.8zM1488.9 160h11.8v4h-11.8zM1488.9 196h11.8v4h-11.8zM1509.2 632h7.6v4h-7.6zM1512.8 192h8.4v4h-8.4zM1521.2 184h11.8v4h-11.8zM1541.2 573h12v4h-12zM1541.2 581h12v4h-12zM1541.2 589h12v4h-12zM1557 177h12.1v4h-12.1zM1569.1 168h7.8v4h-7.8zM1576.9 192h12.1v3h-12.1z"/>
<path fill="#0043ff" shape-rendering="crispEdges" d="M236 301h9v4h-9zM236 313h9v4h-9zM236 321h9v4h-9zM236 541h8.7v12h-8.7zM276.9 596h11.7v8h-11.7zM288.6 612h12.1v4h-12.1zM300.7 617h12.4v4h-12.4zM312.5 217h8.2v4h-8.2zM368.7 205h12.1v7h-12.1zM412 169h12.7v8h-12.7zM424.7 302h12.3v1h-12.3zM448.9 657h11.7v1h-11.7zM460.6 592h9.4v8h-9.4zM468.9 524h11.8v1h-11.8zM480.7 506h12.3v8h-12.3zM480.7 518h12.3v4h-12.3zM493 436h11.7v4h-11.7zM493 495h11.7v5h-11.7zM493 637h11.7v8h-11.7zM517.1 235h7.9v4h-7.9zM517.1 267h7.9v4h-7.9zM517.1 303h7.9v8h-7.9zM525 279h12.1v8h-12.1zM536.7 512h12.4v8h-12.4zM537.1 231h11.7v4h-11.7zM548.8 185h12.1v8h-12.1zM548.8 197h12.1v8h-12.1zM549.1 542h12.1v3h-12.1zM560.9 291h12.3v4h-12.3zM573.2 169h11.8v4h-11.8zM573.2 177h11.8v1h-11.8zM585 198h11.7v4h-11.7zM585 206h11.7v9h-11.7zM585 225h11.7v4h-11.7zM585 281h11.7v1h-11.7zM585 315h11.7v4h-11.7zM597 565h7.8v4h-7.8zM616.9 533h12.3v4h-12.3zM628.9 169h11.8v4h-11.8zM628.9 181h11.8v4h-11.8zM640.7 207h11.3v8h-11.3zM640.7 251h11.3v4h-11.3zM660.8 219h11.7v4h-11.7zM661 668h11.7v4h-11.7zM697 169h12.1v4h-12.1zM697 192h12.1v4h-12.1zM697 530h9v4h-9zM697 554h9v4h-9zM697 600h9v4h-9zM702 597h6.8v4h-6.8zM702 621h6.8v8h-6.8zM708.8 541h7.9v4h-7.9zM716.7 553h12.3v4h-12.3zM729.2 175h11.8v4h-11.8zM729.2 207h11.8v4h-11.8zM741 161h12v8h-12zM753 201h12v4h-12zM777.1 202h7.8v4h-7.8zM777.1 214h7.8v1h-7.8zM777.2 569h7.9v4h-7.9zM808.7 213h12.4v4h-12.4zM809.1 572h11.8v8h-11.8zM820.9 580h11.9v4h-11.9zM821.1 197h11.7v4h-11.7zM821.1 205h11.7v4h-11.7zM832.8 232h12.3v4h-12.3zM832.8 290h12.3v4h-12.3zM832.8 576h11.9v4h-11.9zM888.9 247h11.8v8h-11.8zM888.9 295h11.8v4h-11.8zM900.7 153h12.3v4h-12.3zM900.7 337h12.3v4h-12.3zM933 314h12.1v12h-12.1zM956.8 177h11.9v8h-11.9zM989 145h12v8h-12zM1001 261h12.1v4h-12.1zM1013.1 188h11.7v4h-11.7zM1013.1 208h11.7v4h-11.7zM1013.1 333h11.7v8h-11.7zM1036.9 141h12.3v4h-12.3zM1036.9 173h12.3v4h-12.3zM1036.9 212h12.3v4h-12.3zM1036.9 236h12.3v4h-12.3zM1036.9 260h12.3v4h-12.3zM1092.8 165h12.1v4h-12.1zM1092.8 177h12.1v4h-12.1zM1092.8 193h12.1v8h-12.1zM1125.1 561h11.9v7h-11.9zM1161.1 141h11.8v2h-11.8zM1181.1 185h11.7v4h-11.7zM1192.8 217h11.9v2h-11.9zM1229.1 149h8v4h-8zM1229.1 213h8v4h-8zM1229.1 230h8v8h-8zM1229.1 242h8v4h-8zM1237.1 188h11.9v4h-11.9zM1237.1 204h11.9v4h-11.9zM1272.9 242h12.3v22h-12.3zM1273.1 588h12.1v3h-12.1zM1285.2 185h11.8v12h-11.8zM1285.2 201h11.8v4h-11.8zM1285.2 589h12v4h-12zM1316 592h12.5v3h-12.5zM1352.7 141h11.3v8h-11.3zM1352.7 165h11.3v8h-11.3zM1352.7 193h11.3v4h-11.3zM1352.9 589h12.1v4h-12.1zM1365 589h8v4h-8zM1385 178h12.1v4h-12.1zM1408.9 228h12.1v6h-12.1zM1409 569h11.9v4h-11.9zM1421 144h11.7v4h-11.7zM1421 160h11.7v12h-11.7zM1440.9 556h8v1h-8zM1452.8 154h12.3v4h-12.3zM1485.3 588h12v4h-12zM1500.7 174h12.1v16h-12.1zM1509.2 573h7.6v12h-7.6zM1516.8 561h11.8v8h-11.8zM1521.2 125h11.8v4h-11.8zM1521.2 232h11.8v4h-11.8zM1553.2 602h11.9v4h-11.9zM1569.1 152h7.8v4h-7.8zM1569.1 176h7.8v4h-7.8zM1576.9 125h12.1v4h-12.1zM1576.9 172h12.1v4h-12.1z"/>
<path fill="#0000f1" shape-rendering="crispEdges" d="M236 305h9v4h-9zM236 537h8.7v4h-8.7zM244.7 545h12.3v4h-12.3zM256.5 348h8.1v16h-8.1zM276.9 625h11.7v8h-11.7zM288.6 624h12.1v4h-12.1zM332.6 633h12.3v2h-12.3zM332.7 238h12.1v4h-12.1zM344.8 238h12v8h-12zM344.8 250h12v4h-12zM356.8 295h11.9v12h-11.9zM357 639h11.8v4h-11.8zM380.5 643h12.7v4h-12.7zM401 623h11.7v4h-11.7zM412 298h12.7v2h-12.7zM424.7 253h12.3v12h-12.3zM437 227h12.1v8h-12.1zM469.1 173h11.7v5h-11.7zM469.1 228h11.7v19h-11.7zM504.8 295h12.3v16h-12.3zM525 165h12.1v4h-12.1zM525 173h12.1v4h-12.1zM525 231h12.1v16h-12.1zM536.7 661h12.4v5h-12.4zM548.8 165h12.1v8h-12.1zM548.8 290h12.1v4h-12.1zM549.1 526h12.1v4h-12.1zM560.9 263h12.3v4h-12.3zM573.1 533h11.7v4h-11.7zM573.1 637h11.7v4h-11.7zM584.8 561h12.2v16h-12.2zM584.8 633h12.2v4h-12.2zM585 169h11.7v8h-11.7zM597 605h7.8v4h-7.8zM605.1 169h11.7v4h-11.7zM605.1 193h11.7v3h-11.7zM629.2 645h11.7v4h-11.7zM640.9 655h12.1v4h-12.1zM652 169h8.8v4h-8.8zM652 227h8.8v4h-8.8zM653 629h8v4h-8zM653 649h8v8h-8zM660.8 223h11.7v4h-11.7zM660.8 235h11.7v4h-11.7zM697 208h12.1v8h-12.1zM697 220h12.1v4h-12.1zM697 300h12.1v4h-12.1zM702 544h6.8v4h-6.8zM716.7 545h12.3v4h-12.3zM716.9 205h12.3v4h-12.3zM729 545h11.7v4h-11.7zM741 169h12v4h-12zM800.7 573h8.4v4h-8.4zM808.7 165h12.4v4h-12.4zM821.1 161h11.7v4h-11.7zM832.8 180h12.3v4h-12.3zM832.8 216h12.3v4h-12.3zM832.8 248h12.3v2h-12.3zM856.8 263h8.2v4h-8.2zM888.9 149h11.8v4h-11.8zM888.9 307h11.8v14h-11.8zM956.8 197h11.9v3h-11.9zM956.8 345h11.9v11h-11.9zM968.7 177h8.2v4h-8.2zM976.9 217h12.1v20h-12.1zM976.9 312h12.1v4h-12.1zM989 270h12v8h-12zM1001 333h12.1v4h-12.1zM1036.9 133h12.3v4h-12.3zM1036.9 244h12.3v16h-12.3zM1049.2 271h7.8v1h-7.8zM1092.8 181h12.1v4h-12.1zM1161.1 210h11.8v2h-11.8zM1172.9 145h8.2v4h-8.2zM1181.1 235h11.7v4h-11.7zM1228.8 577h8v8h-8zM1229.1 250h8v4h-8zM1229.1 258h8v4h-8zM1237.1 208h11.9v12h-11.9zM1261.2 569h11.9v4h-11.9zM1285.2 173h11.8v4h-11.8zM1297.2 596h11v4h-11zM1308.7 122h8.4v4h-8.4zM1308.7 154h8.4v4h-8.4zM1328.8 149h12.1v4h-12.1zM1340.6 585h12.3v11h-12.3zM1385 121h12.1v4h-12.1zM1396.9 569h12.1v8h-12.1zM1409 577h11.9v4h-11.9zM1410 1047h23v5h-23zM1421 196h11.7v8h-11.7zM1421 244h11.7v4h-11.7zM1432.7 192h8v4h-8zM1448.9 579h12.5v12h-12.5zM1528.6 577h12.6v4h-12.6zM1544.7 113h12.3v4h-12.3zM1544.7 125h12.3v5h-12.3zM1557 113h12.1v4h-12.1zM1557 201h12.1v4h-12.1zM1557 221h12.1v1h-12.1zM1565.1 604h8v8h-8zM1569.1 286h7.8v4h-7.8z"/>
<path fill="#0053ff" shape-rendering="crispEdges" d="M236 309h9v4h-9zM257 617h8.2v8h-8.2zM265.2 553h11.7v4h-11.7zM265.2 631h11.7v4h-11.7zM300.8 180h11.7v4h-11.7zM313.1 639h7.8v8h-7.8zM320.7 240h12v36h-12zM320.9 625h11.7v4h-11.7zM344.8 230h12v4h-12zM344.8 318h12v2h-12zM357 592h11.8v4h-11.8zM368.8 635h11.7v8h-11.7zM448.9 505h11.7v8h-11.7zM480.7 514h12.3v4h-12.3zM480.8 243h11.9v4h-11.9zM480.8 251h11.9v4h-11.9zM480.8 275h11.9v4h-11.9zM492.7 169h12.1v4h-12.1zM504.8 255h12.3v16h-12.3zM517.1 279h7.9v4h-7.9zM524.6 637h12.1v4h-12.1zM525 295h12.1v8h-12.1zM537.1 275h11.7v4h-11.7zM548.8 177h12.1v8h-12.1zM548.8 193h12.1v4h-12.1zM560.9 295h12.3v10h-12.3zM573.1 525h11.7v4h-11.7zM573.1 641h11.7v8h-11.7zM573.2 165h11.8v4h-11.8zM585 257h11.7v4h-11.7zM585 303h11.7v4h-11.7zM597 625h7.8v4h-7.8zM616.9 526h12.3v3h-12.3zM616.9 549h12.3v4h-12.3zM628.9 173h11.8v8h-11.8zM628.9 189h11.8v3h-11.8zM629.2 529h11.7v4h-11.7zM640.9 513h12.1v4h-12.1zM640.9 629h12.1v4h-12.1zM652 173h8.8v8h-8.8zM661 664h11.7v4h-11.7zM684.8 161h12.2v4h-12.2zM684.8 540h12.2v17h-12.2zM697 196h12.1v4h-12.1zM697 276h12.1v8h-12.1zM697 596h9v4h-9zM697 604h9v8h-9zM702 629h6.8v3h-6.8zM716.7 549h12.3v4h-12.3zM741 145h12v16h-12zM741 173h12v4h-12zM753 209h12v3h-12zM777.2 573h7.9v3h-7.9zM785.1 565h15.6v3h-15.6zM800.9 219h7.8v8h-7.8zM809.1 568h11.8v4h-11.8zM821.1 201h11.7v4h-11.7zM821.1 209h11.7v3h-11.7zM832.8 266h12.3v8h-12.3zM856.8 296h8.2v11h-8.2zM900.7 145h12.3v8h-12.3zM900.7 275h12.3v12h-12.3zM920.8 300h12.2v4h-12.2zM945.1 213h11.7v4h-11.7zM956.8 165h11.9v12h-11.9zM956.8 185h11.9v4h-11.9zM956.8 236h11.9v4h-11.9zM968.7 141h8.2v4h-8.2zM968.7 237h8.2v4h-8.2zM976.9 280h12.1v4h-12.1zM989 141h12v4h-12zM989 278h12v6h-12zM1001 161h12.1v4h-12.1zM1013.1 200h11.7v4h-11.7zM1013.1 325h11.7v4h-11.7zM1036.9 137h12.3v4h-12.3zM1036.9 157h12.3v4h-12.3zM1049.2 251h7.8v4h-7.8zM1049.2 263h7.8v8h-7.8zM1092.8 169h12.1v4h-12.1zM1117.1 591h8v4h-8zM1161.1 198h11.8v4h-11.8zM1172.9 185h8.2v4h-8.2zM1181.1 223h11.7v8h-11.7zM1216.8 228h12.3v4h-12.3zM1229.1 145h8v4h-8zM1229.1 153h8v4h-8zM1229.1 209h8v4h-8zM1229.1 229h8v1h-8zM1229.1 238h8v4h-8zM1237.1 161h11.9v8h-11.9zM1237.1 192h11.9v12h-11.9zM1272.9 234h12.3v8h-12.3zM1273.1 584h12.1v4h-12.1zM1285.2 177h11.8v4h-11.8zM1285.2 205h11.8v3h-11.8zM1308.2 592h11.8v4h-11.8zM1308.7 170h8.4v4h-8.4zM1316 588h12.5v4h-12.5zM1352.7 209h11.3v3h-11.3zM1352.9 593h12.1v4h-12.1zM1396.9 577h12.1v4h-12.1zM1409 561h11.9v4h-11.9zM1421 136h11.7v8h-11.7zM1421 204h11.7v4h-11.7zM1432.7 152h8v4h-8zM1533 133h11.7v24h-11.7zM1557 181h12.1v4h-12.1zM1569.1 160h7.8v4h-7.8zM1576.9 117h12.1v4h-12.1zM1576.9 129h12.1v1h-12.1zM1576.9 168h12.1v4h-12.1z"/>
<path fill="#0002ff" shape-rendering="crispEdges" d="M236 317h9v4h-9zM244.7 549h12.3v4h-12.3zM265.2 615h11.7v4h-11.7zM276.9 637h11.7v4h-11.7zM312.5 221h8.2v4h-8.2zM313.1 612h7.8v4h-7.8zM320.7 201h12v4h-12zM344.8 246h12v4h-12zM356.8 267h11.9v12h-11.9zM356.8 287h11.9v8h-11.9zM356.8 307h11.9v4h-11.9zM356.8 315h11.9v1h-11.9zM357 588h11.8v4h-11.8zM357 627h11.8v12h-11.8zM392.8 305h8.1v3h-8.1zM401 619h11.7v4h-11.7zM401 627h11.7v8h-11.7zM425 580h11.8v2h-11.8zM436.8 576h12.1v8h-12.1zM436.8 643h12.1v4h-12.1zM437 235h12.1v2h-12.1zM448.9 517h11.7v3h-11.7zM448.9 649h11.7v4h-11.7zM460.6 521h8.3v4h-8.3zM469.1 169h11.7v4h-11.7zM469.1 224h11.7v4h-11.7zM480.7 522h12.3v3h-12.3zM492.7 165h12.1v4h-12.1zM492.7 313h12.1v2h-12.1zM504.8 275h12.3v20h-12.3zM504.8 311h12.3v4h-12.3zM525 169h12.1v4h-12.1zM525 193h12.1v3h-12.1zM525 291h12.1v4h-12.1zM536.7 504h12.4v4h-12.4zM536.7 657h12.4v4h-12.4zM548.8 173h12.1v4h-12.1zM548.8 286h12.1v4h-12.1zM548.8 298h12.1v4h-12.1zM573.1 529h11.7v4h-11.7zM573.1 537h11.7v2h-11.7zM573.2 262h11.8v4h-11.8zM584.8 553h12.2v8h-12.2zM584.8 585h12.2v7h-12.2zM584.8 629h12.2v4h-12.2zM584.8 637h12.2v4h-12.2zM585 161h11.7v8h-11.7zM585 177h11.7v1h-11.7zM585 307h11.7v8h-11.7zM597 637h7.8v4h-7.8zM604.8 541h12.1v8h-12.1zM605.1 173h11.7v20h-11.7zM605.1 341h11.7v1h-11.7zM616.9 522h12.3v4h-12.3zM628.9 165h11.8v4h-11.8zM629.2 473h11.7v4h-11.7zM629.2 487h11.7v4h-11.7zM629.2 533h11.7v4h-11.7zM629.2 649h11.7v4h-11.7zM640.9 651h12.1v4h-12.1zM652 181h8.8v3h-8.8zM652 219h8.8v8h-8.8zM653 633h8v4h-8zM653 657h8v4h-8zM653 669h8v4h-8zM653 677h8v4h-8zM661 672h11.7v4h-11.7zM672.7 567h12.1v3h-12.1zM684.8 165h12.2v4h-12.2zM697 216h12.1v4h-12.1zM702 548h6.8v17h-6.8zM702 613h6.8v4h-6.8zM716.9 193h12.3v12h-12.3zM716.9 209h12.3v4h-12.3zM729 549h11.7v4h-11.7zM741 197h12v4h-12zM777.1 194h7.8v4h-7.8zM777.2 561h7.9v4h-7.9zM800.7 577h8.4v3h-8.4zM800.9 227h7.8v4h-7.8zM809.1 580h11.8v4h-11.8zM821.1 193h11.7v4h-11.7zM832.8 212h12.3v4h-12.3zM832.8 220h12.3v4h-12.3zM856.8 267h8.2v4h-8.2zM856.8 284h8.2v4h-8.2zM888.9 145h11.8v4h-11.8zM888.9 153h11.8v4h-11.8zM888.9 299h11.8v8h-11.8zM888.9 333h11.8v4h-11.8zM900.7 295h12.3v10h-12.3zM945.1 201h11.7v4h-11.7zM956.8 208h11.9v4h-11.9zM956.8 337h11.9v4h-11.9zM968.7 145h8.2v4h-8.2zM976.9 193h12.1v8h-12.1zM976.9 205h12.1v8h-12.1zM976.9 245h12.1v4h-12.1zM976.9 308h12.1v4h-12.1zM1013.1 228h11.7v3h-11.7zM1036.9 264h12.3v8h-12.3zM1049.2 255h7.8v4h-7.8zM1081 560h12.1v4h-12.1zM1092.8 173h12.1v4h-12.1zM1161.1 206h11.8v4h-11.8zM1181.1 231h11.7v4h-11.7zM1192.8 161h11.9v8h-11.9zM1216.8 220h12.3v4h-12.3zM1216.8 264h12.3v4h-12.3zM1228.8 585h8v6h-8zM1229.1 254h8v4h-8zM1237.1 157h11.9v4h-11.9zM1260.8 161h12.1v4h-12.1zM1261.2 565h11.9v4h-11.9zM1261.2 573h11.9v2h-11.9zM1297.2 592h11v4h-11zM1308.7 118h8.4v4h-8.4zM1308.7 126h8.4v4h-8.4zM1328.8 153h12.1v4h-12.1zM1328.8 208h12.1v4h-12.1zM1352.7 177h11.3v4h-11.3zM1352.7 185h11.3v4h-11.3zM1373 573h11.9v4h-11.9zM1385 125h12.1v4h-12.1zM1385 142h12.1v4h-12.1zM1385 150h12.1v8h-12.1zM1396.9 565h12.1v4h-12.1zM1397.1 132h11.8v4h-11.8zM1397.1 140h11.8v16h-11.8zM1408.9 224h12.1v4h-12.1zM1409 565h11.9v4h-11.9zM1432.7 196h8v1h-8zM1440.7 136h12.1v4h-12.1zM1440.7 150h12.1v4h-12.1zM1440.9 552h8v4h-8zM1448.9 575h12.5v4h-12.5zM1452.8 182h12.3v8h-12.3zM1500.7 170h12.1v4h-12.1zM1500.7 190h12.1v4h-12.1zM1512.8 160h8.4v4h-8.4zM1528.6 581h12.6v4h-12.6zM1528.6 589h12.6v4h-12.6zM1533 129h11.7v4h-11.7zM1544.7 121h12.3v4h-12.3zM1557 121h12.1v4h-12.1zM1557 141h12.1v12h-12.1zM1565.1 600h8v4h-8zM1569.1 262h7.8v4h-7.8z"/>
<path fill="#00b4ff" shape-rendering="crispEdges" d="M236 330h9v4h-9zM244.7 529h12.3v4h-12.3zM256.5 335h8.1v4h-8.1zM276.8 286h12v4h-12zM288.8 188h12v4h-12zM312.5 249h8.2v8h-8.2zM312.5 414h8.2v4h-8.2zM344.8 258h12v12h-12zM344.8 306h12v4h-12zM356.8 197h11.9v4h-11.9zM356.8 213h11.9v4h-11.9zM356.8 225h11.9v4h-11.9zM356.8 237h11.9v4h-11.9zM356.8 245h11.9v4h-11.9zM368.7 280h12.1v4h-12.1zM392.8 246h8.1v4h-8.1zM392.8 294h8.1v4h-8.1zM393.2 584h7.8v2h-7.8zM400.9 278h11.7v4h-11.7zM400.9 286h11.7v4h-11.7zM400.9 294h11.7v8h-11.7zM412 242h12.7v4h-12.7zM425 618h11.8v8h-11.8zM436.8 616h12.1v4h-12.1zM437 190h12.1v4h-12.1zM460.6 612h9.4v4h-9.4zM460.9 200h8.2v8h-8.2zM460.9 248h8.2v8h-8.2zM468.9 507h11.8v1h-11.8zM468.9 659h11.8v5h-11.8zM480.8 165h11.9v4h-11.9zM480.8 173h11.9v4h-11.9zM480.8 181h11.9v12h-11.9zM480.8 259h11.9v4h-11.9zM492.7 204h12.1v4h-12.1zM492.7 278h12.1v4h-12.1zM492.7 286h12.1v4h-12.1zM504.8 173h12.3v4h-12.3zM504.8 221h12.3v4h-12.3zM517.1 215h7.9v4h-7.9zM536.7 653h12.4v4h-12.4zM537.1 173h11.7v4h-11.7zM537.1 196h11.7v4h-11.7zM537.1 287h11.7v4h-11.7zM548.8 252h12.1v8h-12.1zM549.1 608h12.1v4h-12.1zM549.1 624h12.1v4h-12.1zM549.1 632h12.1v4h-12.1zM549.1 648h12.1v4h-12.1zM560.9 165h12.3v8h-12.3zM560.9 177h12.3v8h-12.3zM560.9 193h12.3v8h-12.3zM560.9 205h12.3v8h-12.3zM560.9 257h12.3v2h-12.3zM561.2 639h11.9v8h-11.9zM573.2 243h11.8v8h-11.8zM585 245h11.7v4h-11.7zM585 269h11.7v4h-11.7zM596.7 239h8.4v4h-8.4zM596.7 247h8.4v8h-8.4zM597 516h7.8v4h-7.8zM616.8 339h12.1v4h-12.1zM616.9 619h12.3v4h-12.3zM616.9 635h12.3v4h-12.3zM628.9 372h11.8v20h-11.8zM640.7 272h11.3v4h-11.3zM640.7 292h11.3v4h-11.3zM640.9 625h12.1v4h-12.1zM652 425h8.8v4h-8.8zM653 545h8v4h-8zM653 553h8v4h-8zM661 532h11.7v4h-11.7zM672.5 345h12.3v11h-12.3zM672.7 546h12.1v1h-12.1zM684.8 353h12.2v4h-12.2zM684.8 369h12.2v4h-12.2zM702 537h6.8v3h-6.8zM709.1 165h7.8v4h-7.8zM709.1 229h7.8v4h-7.8zM716.9 217h12.3v2h-12.3zM729.2 199h11.8v8h-11.8zM740.7 537h12.1v4h-12.1zM753 181h12v4h-12zM765 161h12.1v4h-12.1zM784.9 189h16v4h-16zM784.9 201h16v4h-16zM800.9 209h7.8v8h-7.8zM832.8 200h12.3v4h-12.3zM832.8 208h12.3v4h-12.3zM865 145h11.7v4h-11.7zM865 165h11.7v4h-11.7zM865 177h11.7v8h-11.7zM865 303h11.7v4h-11.7zM876.7 161h12.2v4h-12.2zM876.7 177h12.2v4h-12.2zM900.7 173h12.3v8h-12.3zM900.7 237h12.3v4h-12.3zM900.7 245h12.3v2h-12.3zM900.7 309h12.3v4h-12.3zM913 231h7.8v20h-7.8zM913 275h7.8v20h-7.8zM933 169h12.1v4h-12.1zM933 193h12.1v4h-12.1zM933 201h12.1v4h-12.1zM933 294h12.1v8h-12.1zM933 306h12.1v4h-12.1zM933 338h12.1v4h-12.1zM968.7 229h8.2v4h-8.2zM976.9 181h12.1v4h-12.1zM976.9 213h12.1v4h-12.1zM976.9 253h12.1v4h-12.1zM989 259h12v4h-12zM1001 249h12.1v4h-12.1zM1036.9 145h12.3v4h-12.3zM1036.9 153h12.3v4h-12.3zM1049.2 153h7.8v4h-7.8zM1049.2 181h7.8v4h-7.8zM1049.2 245h7.8v2h-7.8zM1057 217h11.8v4h-11.8zM1068.8 133h12.3v4h-12.3zM1081.1 137h11.7v4h-11.7zM1081.1 177h11.7v4h-11.7zM1093.1 562h12v4h-12zM1093.1 570h12v14h-12zM1104.9 193h11.8v4h-11.8zM1116.7 169h8.2v4h-8.2zM1116.7 177h8.2v4h-8.2zM1116.7 217h8.2v4h-8.2zM1124.9 129h11.8v4h-11.8zM1124.9 204h11.8v4h-11.8zM1125.1 568h11.9v8h-11.9zM1149 169h12.1v8h-12.1zM1149 181h12.1v4h-12.1zM1149 189h12.1v4h-12.1zM1149 205h12.1v4h-12.1zM1149 233h12.1v2h-12.1zM1172.9 157h8.2v4h-8.2zM1181.1 173h11.7v8h-11.7zM1181.1 197h11.7v1h-11.7zM1192.8 201h11.9v12h-11.9zM1216.8 141h12.3v4h-12.3zM1216.8 232h12.3v4h-12.3zM1229.1 173h8v8h-8zM1237.1 232h11.9v4h-11.9zM1237.1 240h11.9v4h-11.9zM1237.1 260h11.9v6h-11.9zM1249 209h11.8v8h-11.8zM1260.8 209h12.1v4h-12.1zM1261.2 575h11.9v4h-11.9zM1272.9 149h12.3v4h-12.3zM1272.9 217h12.3v4h-12.3zM1297 133h11.7v4h-11.7zM1297 177h11.7v4h-11.7zM1316 568h12.5v4h-12.5zM1340.6 561h12.3v8h-12.3zM1352.7 137h11.3v4h-11.3zM1352.7 197h11.3v4h-11.3zM1364.9 207h7.8v4h-7.8zM1372.7 136h12.3v4h-12.3zM1372.7 144h12.3v6h-12.3zM1372.7 165h12.3v4h-12.3zM1385 206h12.1v4h-12.1zM1396.9 561h12.1v4h-12.1zM1408.9 133h12.1v8h-12.1zM1408.9 178h12.1v8h-12.1zM1408.9 198h12.1v2h-12.1zM1421 212h11.7v4h-11.7zM1440.9 593h8v4h-8zM1452.8 162h12.3v8h-12.3zM1452.8 174h12.3v4h-12.3zM1452.8 194h12.3v8h-12.3zM1465.1 144h11.8v4h-11.8zM1488.9 164h11.8v8h-11.8zM1533 208h11.7v8h-11.7zM1541.2 577h12v4h-12zM1541.2 585h12v4h-12zM1557 157h12.1v8h-12.1zM1557 169h12.1v4h-12.1zM1557 209h12.1v4h-12.1zM1569.1 164h7.8v4h-7.8zM1569.1 192h7.8v3h-7.8zM1573.1 581h15.9v4h-15.9zM1576.9 188h12.1v4h-12.1z"/>
<path fill="#0084ff" shape-rendering="crispEdges" d="M236 342h9v8h-9zM236 366h9v4h-9zM236 526h8.7v11h-8.7zM256.5 315h8.1v4h-8.1zM256.5 323h8.1v4h-8.1zM257 633h8.2v2h-8.2zM276.9 624h11.7v1h-11.7zM288.8 362h12v4h-12zM300.7 621h12.4v4h-12.4zM312.5 241h8.2v4h-8.2zM312.5 261h8.2v4h-8.2zM312.5 285h8.2v4h-8.2zM320.7 209h12v4h-12zM320.7 217h12v4h-12zM332.7 192h12.1v4h-12.1zM344.8 274h12v4h-12zM344.8 298h12v4h-12zM380.8 241h12v4h-12zM393.2 623h7.8v4h-7.8zM400.9 302h11.7v8h-11.7zM400.9 318h11.7v4h-11.7zM412 222h12.7v4h-12.7zM412 246h12.7v4h-12.7zM412 254h12.7v4h-12.7zM412 282h12.7v4h-12.7zM412.7 614h12.3v4h-12.3zM424.7 204h12.3v4h-12.3zM437 169h12.1v8h-12.1zM437 182h12.1v4h-12.1zM437 206h12.1v4h-12.1zM448.9 615h11.7v4h-11.7zM448.9 623h11.7v4h-11.7zM460.6 500h8.3v5h-8.3zM460.9 196h8.2v4h-8.2zM460.9 208h8.2v4h-8.2zM460.9 240h8.2v8h-8.2zM460.9 256h8.2v4h-8.2zM480.7 449h12.3v4h-12.3zM480.8 201h11.9v4h-11.9zM480.8 213h11.9v2h-11.9zM480.8 283h11.9v7h-11.9zM492.7 176h12.1v8h-12.1zM492.7 212h12.1v4h-12.1zM492.7 240h12.1v7h-12.1zM504.7 629h19.9v4h-19.9zM504.7 641h19.9v4h-19.9zM504.8 193h12.3v4h-12.3zM517.1 223h7.9v4h-7.9zM536.7 633h12.4v4h-12.4zM537.1 177h11.7v1h-11.7zM537.1 200h11.7v8h-11.7zM537.1 243h11.7v4h-11.7zM548.8 212h12.1v4h-12.1zM549.1 616h12.1v4h-12.1zM584.8 542h12.2v3h-12.2zM585 261h11.7v4h-11.7zM604.8 530h12.1v4h-12.1zM605.1 211h11.7v8h-11.7zM605.1 223h11.7v12h-11.7zM605.1 239h11.7v7h-11.7zM616.9 545h12.3v4h-12.3zM629.2 545h11.7v4h-11.7zM629.2 553h11.7v4h-11.7zM629.2 672h11.7v4h-11.7zM640.9 485h12.1v4h-12.1zM640.9 497h12.1v4h-12.1zM640.9 637h12.1v4h-12.1zM652 330h8.8v8h-8.8zM660.8 243h11.7v8h-11.7zM660.8 255h11.7v8h-11.7zM660.8 267h11.7v8h-11.7zM660.8 313h11.7v4h-11.7zM660.8 376h11.7v8h-11.7zM661 512h11.7v8h-11.7zM661 524h11.7v4h-11.7zM661 545h11.7v4h-11.7zM661 553h11.7v4h-11.7zM672.7 526h12.1v4h-12.1zM684.8 361h12.2v8h-12.2zM697 253h12.1v4h-12.1zM697 518h9v8h-9zM697 562h9v3h-9zM702 521h6.8v4h-6.8zM709.1 149h7.8v4h-7.8zM709.1 177h7.8v4h-7.8zM716.7 529h12.3v4h-12.3zM716.9 157h12.3v4h-12.3zM716.9 165h12.3v4h-12.3zM716.9 173h12.3v8h-12.3zM729 529h11.7v4h-11.7zM729 541h11.7v4h-11.7zM729.2 149h11.8v8h-11.8zM729.2 211h11.8v4h-11.8zM741 209h12v4h-12zM753 169h12v4h-12zM765 145h12.1v4h-12.1zM765 157h12.1v4h-12.1zM800.9 145h7.8v4h-7.8zM800.9 177h7.8v4h-7.8zM832.8 298h12.3v4h-12.3zM856.8 213h8.2v4h-8.2zM865 299h11.7v4h-11.7zM876.7 185h12.2v4h-12.2zM876.7 217h12.2v4h-12.2zM900.7 165h12.3v4h-12.3zM900.7 189h12.3v8h-12.3zM900.7 205h12.3v4h-12.3zM900.7 321h12.3v4h-12.3zM913 267h7.8v8h-7.8zM920.8 284h12.2v4h-12.2zM920.8 296h12.2v4h-12.2zM933 290h12.1v4h-12.1zM945.1 299h11.7v8h-11.7zM945.1 311h11.7v4h-11.7zM956.8 244h11.9v3h-11.9zM956.8 313h11.9v4h-11.9zM956.8 325h11.9v8h-11.9zM968.7 245h8.2v4h-8.2zM976.9 173h12.1v4h-12.1zM976.9 241h12.1v4h-12.1zM1001 157h12.1v4h-12.1zM1001 181h12.1v4h-12.1zM1001 213h12.1v8h-12.1zM1001 233h12.1v8h-12.1zM1001 273h12.1v4h-12.1zM1013.1 192h11.7v4h-11.7zM1024.8 240h12.1v4h-12.1zM1057 161h11.8v4h-11.8zM1057 193h11.8v8h-11.8zM1057 205h11.8v8h-11.8zM1068.8 129h12.3v4h-12.3zM1068.8 229h12.3v4h-12.3zM1068.8 237h12.3v4h-12.3zM1104.9 141h11.8v4h-11.8zM1104.9 213h11.8v4h-11.8zM1116.7 197h8.2v4h-8.2zM1117.1 565h8v3h-8zM1124.9 184h11.8v4h-11.8zM1136.7 190h12.3v4h-12.3zM1172.9 197h8.2v3h-8.2zM1192.8 169h11.9v4h-11.9zM1192.8 181h11.9v4h-11.9zM1192.8 189h11.9v4h-11.9zM1216.8 193h12.3v7h-12.3zM1216.8 208h12.3v8h-12.3zM1229.1 185h8v8h-8zM1229.1 201h8v4h-8zM1229.1 225h8v4h-8zM1237.1 244h11.9v4h-11.9zM1249 217h11.8v8h-11.8zM1260.8 193h12.1v12h-12.1zM1272.9 161h12.3v8h-12.3zM1272.9 189h12.3v4h-12.3zM1297 165h11.7v4h-11.7zM1297 173h11.7v4h-11.7zM1297 189h11.7v8h-11.7zM1316 572h12.5v4h-12.5zM1340.6 569h12.3v4h-12.3zM1352.7 133h11.3v4h-11.3zM1364.9 191h7.8v4h-7.8zM1365 581h8v4h-8zM1372.7 189h12.3v8h-12.3zM1372.7 240h12.3v8h-12.3zM1384.9 561h12v8h-12zM1384.9 573h12v4h-12zM1384.9 585h12v4h-12zM1420.9 576h12.1v4h-12.1zM1421 176h11.7v4h-11.7zM1432.7 124h8v4h-8zM1432.7 140h8v8h-8zM1432.7 160h8v12h-8zM1433 581h7.9v8h-7.9zM1433 593h7.9v3h-7.9zM1440.9 604h8v4h-8zM1440.9 612h8v2h-8zM1461.4 573h12v2h-12zM1461.4 591h12v2h-12zM1465.1 132h11.8v4h-11.8zM1465.1 176h11.8v12h-11.8zM1473.4 565h11.9v12h-11.9zM1512.8 164h8.4v4h-8.4zM1512.8 184h8.4v4h-8.4zM1521.2 140h11.8v20h-11.8zM1521.2 164h11.8v8h-11.8zM1533 176h11.7v4h-11.7zM1533 196h11.7v4h-11.7zM1533 216h11.7v4h-11.7zM1553.2 586h11.9v4h-11.9zM1553.2 594h11.9v4h-11.9zM1553.2 606h11.9v6h-11.9zM1557 185h12.1v4h-12.1zM1557 193h12.1v4h-12.1zM1569.1 148h7.8v4h-7.8zM1576.9 164h12.1v4h-12.1z"/>
<path fill="#00c4ff" shape-rendering="crispEdges" d="M236 350h9v4h-9zM236 625h8.7v8h-8.7zM245 330h11.5v8h-11.5zM256.5 331h8.1v4h-8.1zM276.8 205h12v4h-12zM276.9 616h11.7v4h-11.7zM300.7 625h12.4v4h-12.4zM312.5 305h8.2v4h-8.2zM313.1 620h7.8v4h-7.8zM344.8 185h12v4h-12zM356.8 193h11.9v4h-11.9zM356.8 205h11.9v4h-11.9zM356.8 229h11.9v4h-11.9zM368.7 224h12.1v4h-12.1zM368.7 232h12.1v4h-12.1zM368.7 244h12.1v4h-12.1zM368.7 276h12.1v4h-12.1zM380.8 253h12v4h-12zM392.8 242h8.1v4h-8.1zM392.8 250h8.1v4h-8.1zM392.8 302h8.1v3h-8.1zM393.2 580h7.8v4h-7.8zM400.9 290h11.7v4h-11.7zM412 238h12.7v4h-12.7zM424.7 196h12.3v8h-12.3zM449.1 309h11.8v6h-11.8zM468.9 479h11.8v4h-11.8zM469.1 259h11.7v4h-11.7zM480.8 169h11.9v4h-11.9zM480.8 177h11.9v4h-11.9zM492.7 196h12.1v8h-12.1zM492.7 282h12.1v4h-12.1zM493 483h11.7v4h-11.7zM504.8 177h12.3v4h-12.3zM504.8 185h12.3v4h-12.3zM504.8 205h12.3v8h-12.3zM517.1 207h7.9v8h-7.9zM548.8 220h12.1v8h-12.1zM548.8 232h12.1v4h-12.1zM548.8 248h12.1v4h-12.1zM548.8 260h12.1v6h-12.1zM549.1 636h12.1v4h-12.1zM549.1 652h12.1v8h-12.1zM549.1 664h12.1v2h-12.1zM560.9 173h12.3v4h-12.3zM560.9 185h12.3v8h-12.3zM560.9 201h12.3v4h-12.3zM560.9 253h12.3v4h-12.3zM561.2 635h11.9v4h-11.9zM561.2 659h11.9v7h-11.9zM573.2 178h11.8v4h-11.8zM573.2 198h11.8v4h-11.8zM573.2 210h11.8v4h-11.8zM573.2 235h11.8v8h-11.8zM584.8 500h12.2v4h-12.2zM596.7 227h8.4v4h-8.4zM596.7 235h8.4v4h-8.4zM597 504h7.8v4h-7.8zM604.8 620h12.1v4h-12.1zM616.8 343h12.1v11h-12.1zM616.9 553h12.3v4h-12.3zM616.9 615h12.3v4h-12.3zM616.9 631h12.3v4h-12.3zM616.9 643h12.3v4h-12.3zM616.9 651h12.3v12h-12.3zM629.2 469h11.7v4h-11.7zM640.7 268h11.3v4h-11.3zM653 428h8v2h-8zM661 496h11.7v4h-11.7zM661 528h11.7v4h-11.7zM684.8 528h12.2v4h-12.2zM697 245h12.1v8h-12.1zM697 261h12.1v8h-12.1zM697 538h9v4h-9zM697 546h9v4h-9zM702 529h6.8v4h-6.8zM708.8 529h7.9v4h-7.9zM709.1 169h7.8v4h-7.8zM709.1 221h7.8v8h-7.8zM716.7 541h12.3v4h-12.3zM753 185h12v4h-12zM784.9 209h16v3h-16zM785.1 568h15.6v4h-15.6zM800.9 217h7.8v2h-7.8zM808.7 189h12.4v4h-12.4zM808.7 221h12.4v2h-12.4zM832.8 204h12.3v4h-12.3zM832.8 302h12.3v4h-12.3zM845.1 227h11.7v8h-11.7zM865 169h11.7v4h-11.7zM865 307h11.7v4h-11.7zM876.7 157h12.2v4h-12.2zM876.7 165h12.2v8h-12.2zM900.7 233h12.3v4h-12.3zM933 165h12.1v4h-12.1zM933 173h12.1v8h-12.1zM933 197h12.1v4h-12.1zM933 205h12.1v4h-12.1zM933 302h12.1v4h-12.1zM945.1 267h11.7v4h-11.7zM968.7 197h8.2v4h-8.2zM968.7 209h8.2v4h-8.2zM976.9 237h12.1v4h-12.1zM1024.8 244h12.1v8h-12.1zM1049.2 145h7.8v4h-7.8zM1057 221h11.8v8h-11.8zM1068.8 189h12.3v4h-12.3zM1068.8 201h12.3v8h-12.3zM1081.1 141h11.7v4h-11.7zM1081.1 189h11.7v8h-11.7zM1081.1 233h11.7v4h-11.7zM1093.1 566h12v4h-12zM1104.9 197h11.8v4h-11.8zM1116.7 185h8.2v4h-8.2zM1116.7 205h8.2v8h-8.2zM1117.1 568h8v4h-8zM1117.1 576h8v4h-8zM1124.9 133h11.8v8h-11.8zM1124.9 212h11.8v4h-11.8zM1125.1 580h11.9v2h-11.9zM1149 165h12.1v4h-12.1zM1149 177h12.1v4h-12.1zM1181.1 215h11.7v8h-11.7zM1192.8 157h11.9v4h-11.9zM1192.8 213h11.9v4h-11.9zM1204.7 157h12.1v4h-12.1zM1204.7 165h12.1v4h-12.1zM1229.1 181h8v4h-8zM1249 173h11.8v4h-11.8zM1249 225h11.8v8h-11.8zM1260.8 213h12.1v4h-12.1zM1261.2 579h11.9v4h-11.9zM1272.9 213h12.3v4h-12.3zM1272.9 225h12.3v4h-12.3zM1297 129h11.7v4h-11.7zM1308.7 166h8.4v4h-8.4zM1316 560h12.5v8h-12.5zM1372.7 140h12.3v4h-12.3zM1372.7 169h12.3v4h-12.3zM1408.9 113h12.1v4h-12.1zM1408.9 129h12.1v4h-12.1zM1421 208h11.7v4h-11.7zM1421 216h11.7v4h-11.7zM1433 565h7.9v4h-7.9zM1452.8 158h12.3v4h-12.3zM1452.8 190h12.3v4h-12.3zM1452.8 202h12.3v4h-12.3zM1488.9 172h11.8v4h-11.8zM1533 160h11.7v8h-11.7zM1533 204h11.7v4h-11.7zM1541.2 597h12v3h-12zM1557 165h12.1v4h-12.1zM1557 197h12.1v4h-12.1zM1569.1 144h7.8v4h-7.8zM1573.1 609h15.9v4h-15.9zM1576.9 156h12.1v8h-12.1z"/>
<path fill="#00d4ff" shape-rendering="crispEdges" d="M236 362h9v4h-9zM245 338h11.5v3h-11.5zM264.6 363h12.2v8h-12.2zM276.8 201h12v4h-12zM276.8 209h12v3h-12zM276.8 306h12v4h-12zM276.9 612h11.7v4h-11.7zM288.8 264h12v12h-12zM300.8 358h11.7v8h-11.7zM312.5 225h8.2v8h-8.2zM312.5 267h8.2v4h-8.2zM320.9 580h11.7v10h-11.7zM356.8 209h11.9v4h-11.9zM356.8 221h11.9v4h-11.9zM368.7 228h12.1v4h-12.1zM368.7 236h12.1v8h-12.1zM368.7 248h12.1v4h-12.1zM368.7 256h12.1v4h-12.1zM368.7 268h12.1v8h-12.1zM380.5 629h12.7v4h-12.7zM380.8 205h12v4h-12zM380.8 213h12v4h-12zM380.8 249h12v4h-12zM380.8 257h12v4h-12zM392.8 192h8.1v4h-8.1zM392.8 234h8.1v8h-8.1zM392.8 270h8.1v4h-8.1zM393.2 614h7.8v9h-7.8zM400.9 184h11.7v8h-11.7zM412 186h12.7v4h-12.7zM412 194h12.7v4h-12.7zM412 234h12.7v4h-12.7zM412.7 584h12.3v8h-12.3zM412.7 608h12.3v2h-12.3zM424.7 192h12.3v4h-12.3zM425 582h11.8v12h-11.8zM425 606h11.8v4h-11.8zM425 626h11.8v1h-11.8zM436.8 584h12.1v4h-12.1zM436.8 592h12.1v4h-12.1zM436.8 612h12.1v4h-12.1zM437 284h12.1v4h-12.1zM449.1 181h11.8v3h-11.8zM449.1 251h11.8v4h-11.8zM449.1 267h11.8v8h-11.8zM449.1 305h11.8v4h-11.8zM469.1 314h11.7v4h-11.7zM469.1 330h11.7v1h-11.7zM480.7 453h12.3v8h-12.3zM480.7 473h12.3v4h-12.3zM480.8 267h11.9v8h-11.9zM492.7 251h12.1v4h-12.1zM504.8 181h12.3v4h-12.3zM504.8 213h12.3v4h-12.3zM548.8 236h12.1v4h-12.1zM549.1 640h12.1v4h-12.1zM549.1 660h12.1v4h-12.1zM561.2 631h11.9v4h-11.9zM561.2 655h11.9v4h-11.9zM573.1 504h11.7v8h-11.7zM573.1 520h11.7v5h-11.7zM573.2 182h11.8v4h-11.8zM573.2 206h11.8v4h-11.8zM573.2 219h11.8v4h-11.8zM573.2 231h11.8v4h-11.8zM596.7 231h8.4v4h-8.4zM596.7 279h8.4v4h-8.4zM597 532h7.8v4h-7.8zM604.8 628h12.1v4h-12.1zM616.8 267h12.1v4h-12.1zM616.8 313h12.1v4h-12.1zM616.9 623h12.3v4h-12.3zM616.9 663h12.3v3h-12.3zM640.7 260h11.3v8h-11.3zM640.7 288h11.3v4h-11.3zM640.7 404h11.3v7h-11.3zM640.9 547h12.1v4h-12.1zM653 501h8v4h-8zM660.8 239h11.7v4h-11.7zM672.7 518h12.1v4h-12.1zM684.8 192h12.2v4h-12.2zM684.8 524h12.2v4h-12.2zM697 257h12.1v4h-12.1zM697 269h12.1v7h-12.1zM697 542h9v4h-9zM697 550h9v4h-9zM702 533h6.8v4h-6.8zM708.8 533h7.9v8h-7.9zM709.1 217h7.8v4h-7.8zM753 189h12v4h-12zM808.7 161h12.4v4h-12.4zM808.7 193h12.4v12h-12.4zM832.8 278h12.3v4h-12.3zM845.1 165h11.7v4h-11.7zM845.1 223h11.7v4h-11.7zM856.8 145h8.2v4h-8.2zM865 173h11.7v4h-11.7zM865 193h11.7v2h-11.7zM876.7 153h12.2v4h-12.2zM888.9 239h11.8v4h-11.8zM913 169h7.8v4h-7.8zM913 181h7.8v4h-7.8zM920.8 277h12.2v3h-12.2zM933 217h12.1v4h-12.1zM933 237h12.1v4h-12.1zM933 245h12.1v2h-12.1zM933 342h12.1v3h-12.1zM968.7 213h8.2v16h-8.2zM989 213h12v4h-12zM989 245h12v2h-12zM1049.2 137h7.8v8h-7.8zM1057 145h11.8v4h-11.8zM1068.8 193h12.3v4h-12.3zM1081.1 129h11.7v8h-11.7zM1081.1 149h11.7v4h-11.7zM1081.1 197h11.7v4h-11.7zM1081.1 229h11.7v4h-11.7zM1104.9 173h11.8v4h-11.8zM1104.9 181h11.8v4h-11.8zM1116.7 161h8.2v8h-8.2zM1116.7 181h8.2v4h-8.2zM1116.7 189h8.2v4h-8.2zM1117.1 561h8v4h-8zM1117.1 572h8v4h-8zM1117.1 580h8v4h-8zM1124.9 192h11.8v8h-11.8zM1136.7 214h12.3v1h-12.3zM1149 209h12.1v4h-12.1zM1149 217h12.1v8h-12.1zM1172.9 141h8.2v4h-8.2zM1204.7 161h12.1v4h-12.1zM1216.8 236h12.3v4h-12.3zM1229.1 169h8v4h-8zM1237.1 224h11.9v4h-11.9zM1249 177h11.8v4h-11.8zM1249.3 575h11.9v4h-11.9zM1308.2 568h11.8v8h-11.8zM1328.5 561h12.1v4h-12.1zM1352.7 173h11.3v4h-11.3zM1352.7 201h11.3v4h-11.3zM1364.9 211h7.8v3h-7.8zM1372.7 248h12.3v4h-12.3zM1408.9 121h12.1v8h-12.1zM1421 192h11.7v4h-11.7zM1433 557h7.9v8h-7.9zM1433 569h7.9v4h-7.9zM1465.1 140h11.8v4h-11.8zM1465.1 160h11.8v8h-11.8zM1488.9 176h11.8v8h-11.8zM1488.9 188h11.8v4h-11.8zM1533 200h11.7v4h-11.7zM1544.7 138h12.3v4h-12.3zM1544.7 257h12.3v8h-12.3zM1569.1 156h7.8v4h-7.8zM1573.1 597h15.9v12h-15.9z"/>
<path fill="#0073ff" shape-rendering="crispEdges" d="M236 370h9v4h-9zM236 633h8.7v1h-8.7zM244.7 608h12.3v4h-12.3zM256.5 311h8.1v4h-8.1zM256.5 319h8.1v4h-8.1zM256.5 327h8.1v4h-8.1zM257 629h8.2v4h-8.2zM288.8 184h12v4h-12zM288.8 358h12v4h-12zM300.7 629h12.4v4h-12.4zM300.7 637h12.4v4h-12.4zM300.7 645h12.4v4h-12.4zM312.5 245h8.2v4h-8.2zM332.7 196h12.1v1h-12.1zM344.8 282h12v4h-12zM344.8 294h12v4h-12zM356.8 189h11.9v4h-11.9zM368.7 264h12.1v4h-12.1zM380.8 245h12v4h-12zM392.8 196h8.1v16h-8.1zM392.8 282h8.1v8h-8.1zM400.9 274h11.7v4h-11.7zM400.9 322h11.7v3h-11.7zM412 218h12.7v4h-12.7zM412 258h12.7v4h-12.7zM412 270h12.7v4h-12.7zM412 286h12.7v4h-12.7zM412.7 610h12.3v4h-12.3zM424.7 176h12.3v4h-12.3zM424.7 228h12.3v9h-12.3zM448.9 600h11.7v12h-11.7zM448.9 627h11.7v4h-11.7zM448.9 639h11.7v4h-11.7zM460.6 488h8.3v4h-8.3zM460.6 616h9.4v8h-9.4zM460.6 628h9.4v4h-9.4zM460.9 220h8.2v4h-8.2zM460.9 236h8.2v4h-8.2zM460.9 284h8.2v2h-8.2zM460.9 290h8.2v4h-8.2zM460.9 306h8.2v4h-8.2zM469.1 247h11.7v8h-11.7zM469.1 287h11.7v3h-11.7zM480.7 657h12.3v8h-12.3zM480.8 255h11.9v4h-11.9zM492.7 208h12.1v4h-12.1zM492.7 216h12.1v12h-12.1zM492.7 232h12.1v8h-12.1zM493 479h11.7v4h-11.7zM504.7 633h19.9v8h-19.9zM504.7 645h19.9v4h-19.9zM504.8 189h12.3v4h-12.3zM504.8 201h12.3v4h-12.3zM536.7 637h12.4v4h-12.4zM537.1 251h11.7v8h-11.7zM537.1 263h11.7v12h-11.7zM548.8 216h12.1v4h-12.1zM548.8 228h12.1v4h-12.1zM549.1 620h12.1v4h-12.1zM560.9 161h12.3v4h-12.3zM560.9 213h12.3v12h-12.3zM561.2 623h11.9v8h-11.9zM573.2 186h11.8v12h-11.8zM573.2 215h11.8v4h-11.8zM585 233h11.7v4h-11.7zM604.8 522h12.1v4h-12.1zM604.8 608h12.1v4h-12.1zM605.1 219h11.7v4h-11.7zM629.2 664h11.7v8h-11.7zM640.9 501h12.1v4h-12.1zM640.9 645h12.1v4h-12.1zM652 247h8.8v8h-8.8zM652 259h8.8v19h-8.8zM652 338h8.8v12h-8.8zM660.8 251h11.7v4h-11.7zM660.8 360h11.7v4h-11.7zM660.8 372h11.7v4h-11.7zM661 520h11.7v4h-11.7zM672.5 169h12.3v7h-12.3zM672.7 522h12.1v4h-12.1zM672.7 530h12.1v16h-12.1zM684.8 345h12.2v8h-12.2zM697 241h12.1v4h-12.1zM702 525h6.8v4h-6.8zM709.1 153h7.8v4h-7.8zM709.1 181h7.8v16h-7.8zM709.1 201h7.8v4h-7.8zM709.1 237h7.8v4h-7.8zM716.7 533h12.3v4h-12.3zM716.9 169h12.3v4h-12.3zM716.9 213h12.3v4h-12.3zM729 533h11.7v4h-11.7zM729.2 157h11.8v8h-11.8zM741 189h12v8h-12zM765 165h12.1v4h-12.1zM800.9 149h7.8v8h-7.8zM800.9 173h7.8v4h-7.8zM808.7 157h12.4v4h-12.4zM832.8 176h12.3v4h-12.3zM832.8 294h12.3v4h-12.3zM845.1 239h11.7v4h-11.7zM856.8 149h8.2v4h-8.2zM856.8 233h8.2v4h-8.2zM865 251h11.7v4h-11.7zM865 275h11.7v4h-11.7zM865 291h11.7v8h-11.7zM876.7 189h12.2v4h-12.2zM900.7 185h12.3v4h-12.3zM920.8 280h12.2v4h-12.2zM920.8 288h12.2v4h-12.2zM920.8 308h12.2v1h-12.2zM945.1 255h11.7v8h-11.7zM945.1 295h11.7v4h-11.7zM945.1 315h11.7v4h-11.7zM956.8 224h11.9v4h-11.9zM956.8 240h11.9v4h-11.9zM956.8 317h11.9v8h-11.9zM968.7 185h8.2v4h-8.2zM968.7 241h8.2v4h-8.2zM968.7 261h8.2v4h-8.2zM976.9 161h12.1v4h-12.1zM976.9 169h12.1v4h-12.1zM1001 177h12.1v4h-12.1zM1001 209h12.1v4h-12.1zM1001 221h12.1v4h-12.1zM1001 229h12.1v4h-12.1zM1013.1 196h11.7v4h-11.7zM1013.1 212h11.7v4h-11.7zM1024.8 252h12.1v4h-12.1zM1049.2 133h7.8v4h-7.8zM1049.2 197h7.8v4h-7.8zM1049.2 205h7.8v4h-7.8zM1057 201h11.8v4h-11.8zM1057 229h11.8v4h-11.8zM1068.8 185h12.3v4h-12.3zM1068.8 209h12.3v4h-12.3zM1068.8 221h12.3v4h-12.3zM1081.1 213h11.7v4h-11.7zM1104.9 205h11.8v8h-11.8zM1104.9 217h11.8v4h-11.8zM1136.7 194h12.3v4h-12.3zM1172.9 181h8.2v4h-8.2zM1181.1 149h11.7v16h-11.7zM1192.8 149h11.9v4h-11.9zM1192.8 185h11.9v4h-11.9zM1216.8 133h12.3v4h-12.3zM1216.8 216h12.3v4h-12.3zM1237.1 248h11.9v4h-11.9zM1260.8 149h12.1v4h-12.1zM1260.8 157h12.1v4h-12.1zM1261.2 583h11.9v7h-11.9zM1272.9 141h12.3v8h-12.3zM1272.9 169h12.3v8h-12.3zM1272.9 181h12.3v8h-12.3zM1272.9 209h12.3v4h-12.3zM1308.2 560h11.8v4h-11.8zM1365 569h8v4h-8zM1365 585h8v4h-8zM1372.7 128h12.3v4h-12.3zM1372.7 205h12.3v5h-12.3zM1372.7 256h12.3v8h-12.3zM1384.9 577h12v8h-12zM1408.9 190h12.1v4h-12.1zM1420.9 572h12.1v4h-12.1zM1421 128h11.7v8h-11.7zM1421 148h11.7v4h-11.7zM1421 188h11.7v4h-11.7zM1432.7 148h8v4h-8zM1432.7 172h8v12h-8zM1433 573h7.9v4h-7.9zM1440.9 569h8v8h-8zM1440.9 585h8v4h-8zM1461.4 561h12v12h-12zM1461.4 587h12v4h-12zM1465.1 136h11.8v4h-11.8zM1473.4 581h11.9v8h-11.9zM1485.3 596h12v2h-12zM1509.2 644h7.6v4h-7.6zM1512.8 172h8.4v4h-8.4zM1521.2 180h11.8v4h-11.8zM1533 168h11.7v8h-11.7zM1533 180h11.7v4h-11.7zM1533 192h11.7v4h-11.7zM1557 153h12.1v4h-12.1zM1557 189h12.1v4h-12.1zM1573.1 585h15.9v8h-15.9zM1576.9 144h12.1v12h-12.1z"/>
<path fill="#0063ff" shape-rendering="crispEdges" d="M236 374h9v2h-9zM244.7 624h12.3v8h-12.3zM245 184h11.5v8h-11.5zM257 625h8.2v4h-8.2zM300.7 613h12.4v4h-12.4zM300.7 633h12.4v4h-12.4zM300.7 641h12.4v4h-12.4zM312.5 233h8.2v4h-8.2zM312.5 309h8.2v11h-8.2zM344.8 226h12v4h-12zM344.8 234h12v4h-12zM344.8 290h12v4h-12zM344.8 314h12v4h-12zM368.7 212h12.1v4h-12.1zM380.8 217h12v4h-12zM392.8 274h8.1v8h-8.1zM412 198h12.7v20h-12.7zM412 226h12.7v4h-12.7zM412 266h12.7v4h-12.7zM412 274h12.7v8h-12.7zM412.7 618h12.3v2h-12.3zM437 186h12.1v4h-12.1zM437 226h12.1v1h-12.1zM448.9 612h11.7v3h-11.7zM448.9 631h11.7v8h-11.7zM448.9 643h11.7v2h-11.7zM460.6 624h9.4v4h-9.4zM460.6 632h9.4v4h-9.4zM460.9 216h8.2v4h-8.2zM460.9 224h8.2v12h-8.2zM460.9 286h8.2v4h-8.2zM460.9 294h8.2v12h-8.2zM460.9 314h8.2v4h-8.2zM468.9 627h11.8v4h-11.8zM469.1 255h11.7v4h-11.7zM469.1 263h11.7v4h-11.7zM469.1 283h11.7v4h-11.7zM480.8 247h11.9v4h-11.9zM492.7 228h12.1v4h-12.1zM493 491h11.7v4h-11.7zM504.7 649h19.9v12h-19.9zM537.1 235h11.7v4h-11.7zM537.1 259h11.7v4h-11.7zM560.9 225h12.3v4h-12.3zM561.2 615h11.9v8h-11.9zM584.8 577h12.2v4h-12.2zM585 237h11.7v8h-11.7zM585 253h11.7v4h-11.7zM585 265h11.7v4h-11.7zM596.7 219h8.4v8h-8.4zM616.9 541h12.3v4h-12.3zM616.9 627h12.3v4h-12.3zM628.9 185h11.8v4h-11.8zM629.2 549h11.7v4h-11.7zM640.9 517h12.1v1h-12.1zM640.9 531h12.1v4h-12.1zM640.9 649h12.1v2h-12.1zM652 255h8.8v4h-8.8zM652 350h8.8v4h-8.8zM660.8 317h11.7v4h-11.7zM684.8 373h12.2v3h-12.2zM709.1 197h7.8v4h-7.8zM709.1 241h7.8v6h-7.8zM729 537h11.7v4h-11.7zM741 177h12v4h-12zM765 169h12.1v8h-12.1zM765 181h12.1v15h-12.1zM785.1 572h15.6v8h-15.6zM800.9 157h7.8v8h-7.8zM808.7 205h12.4v8h-12.4zM832.8 306h12.3v1h-12.3zM856.8 153h8.2v8h-8.2zM856.8 229h8.2v4h-8.2zM856.8 237h8.2v4h-8.2zM856.8 245h8.2v6h-8.2zM865 153h11.7v8h-11.7zM865 247h11.7v4h-11.7zM865 255h11.7v8h-11.7zM865 279h11.7v12h-11.7zM876.7 193h12.2v12h-12.2zM876.7 229h12.2v10h-12.2zM900.7 181h12.3v4h-12.3zM913 259h7.8v4h-7.8zM920.8 304h12.2v4h-12.2zM945.1 251h11.7v4h-11.7zM945.1 263h11.7v4h-11.7zM945.1 279h11.7v16h-11.7zM945.1 319h11.7v2h-11.7zM956.8 216h11.9v8h-11.9zM956.8 228h11.9v4h-11.9zM968.7 189h8.2v4h-8.2zM968.7 249h8.2v8h-8.2zM968.7 265h8.2v1h-8.2zM1001 169h12.1v8h-12.1zM1001 201h12.1v4h-12.1zM1001 265h12.1v8h-12.1zM1001 277h12.1v5h-12.1zM1013.1 184h11.7v4h-11.7zM1013.1 204h11.7v4h-11.7zM1013.1 216h11.7v4h-11.7zM1049.2 193h7.8v4h-7.8zM1049.2 201h7.8v4h-7.8zM1081.1 209h11.7v4h-11.7zM1136.7 198h12.3v16h-12.3zM1181.1 189h11.7v8h-11.7zM1192.8 173h11.9v8h-11.9zM1204.7 141h12.1v12h-12.1zM1229.1 141h8v4h-8zM1229.1 157h8v12h-8zM1237.1 252h11.9v4h-11.9zM1260.8 181h12.1v12h-12.1zM1272.9 177h12.3v4h-12.3zM1273.1 580h12.1v4h-12.1zM1308.2 564h11.8v4h-11.8zM1340.6 577h12.3v8h-12.3zM1365 561h8v8h-8zM1372.7 132h12.3v4h-12.3zM1372.7 197h12.3v8h-12.3zM1372.7 264h12.3v6h-12.3zM1408.9 194h12.1v4h-12.1zM1421 152h11.7v8h-11.7zM1421 180h11.7v8h-11.7zM1432.7 156h8v4h-8zM1433 577h7.9v4h-7.9zM1440.9 577h8v8h-8zM1465.1 188h11.8v4h-11.8zM1473.4 577h11.9v4h-11.9zM1509.2 640h7.6v4h-7.6zM1521.2 176h11.8v4h-11.8zM1533 184h11.7v8h-11.7z"/>
<path fill="#98ff67" shape-rendering="crispEdges" d="M245 196h11.5v8h-11.5zM288.8 216h12v4h-12zM312.5 336h8.2v4h-8.2zM332.6 590h12.3v4h-12.3zM344.9 588h12.1v4h-12.1zM393.2 586h7.8v4h-7.8zM393.2 606h7.8v4h-7.8zM401 604h11.7v4h-11.7zM437 245h12.1v4h-12.1zM437 257h12.1v8h-12.1zM449.1 184h11.8v4h-11.8zM449.1 290h11.8v4h-11.8zM449.1 302h11.8v3h-11.8zM605.1 258h11.7v4h-11.7zM628.9 204h11.8v4h-11.8zM628.9 347h11.8v12h-11.8zM652 294h8.8v4h-8.8zM684.8 286h12.2v4h-12.2zM684.8 310h12.2v4h-12.2zM684.8 343h12.2v2h-12.2zM888.9 165h11.8v10h-11.8zM920.8 221h12.2v4h-12.2zM920.8 229h12.2v8h-12.2zM989 177h12v4h-12zM1136.7 141h12.3v4h-12.3zM1544.7 170h12.3v4h-12.3z"/>
<path fill="#67ff98" shape-rendering="crispEdges" d="M245 212h11.5v4h-11.5zM245 289h11.5v4h-11.5zM264.6 351h12.2v4h-12.2zM288.8 240h12v4h-12zM288.8 288h12v4h-12zM312.5 340h8.2v8h-8.2zM320.9 618h11.7v7h-11.7zM380.5 608h12.7v4h-12.7zM392.8 216h8.1v4h-8.1zM400.9 206h11.7v4h-11.7zM400.9 258h11.7v4h-11.7zM437 265h12.1v4h-12.1zM449.1 196h11.8v4h-11.8zM493 445h11.7v8h-11.7zM584.8 504h12.2v4h-12.2zM640.7 321h11.3v4h-11.3zM652 282h8.8v4h-8.8zM672.5 176h12.3v4h-12.3zM865 203h11.7v4h-11.7zM865 211h11.7v4h-11.7zM865 219h11.7v4h-11.7zM888.9 216h11.8v3h-11.8zM913 157h7.8v4h-7.8zM913 201h7.8v4h-7.8zM913 221h7.8v4h-7.8zM989 165h12v4h-12zM989 209h12v4h-12zM1024.8 232h12.1v4h-12.1zM1116.7 145h8.2v12h-8.2zM1372.7 222h12.3v8h-12.3z"/>
<path fill="#ff8400" shape-rendering="crispEdges" d="M245 220h11.5v4h-11.5zM245 228h11.5v8h-11.5zM256.5 264h8.1v8h-8.1zM256.5 280h8.1v4h-8.1zM300.8 232h11.7v4h-11.7zM300.8 272h11.7v4h-11.7zM300.8 284h11.7v4h-11.7zM300.8 292h11.7v4h-11.7zM616.8 302h12.1v3h-12.1zM628.9 310h11.8v4h-11.8zM672.5 322h12.3v4h-12.3zM672.5 330h12.3v4h-12.3zM684.8 239h12.2v8h-12.2z"/>
<path fill="#ff9400" shape-rendering="crispEdges" d="M245 224h11.5v4h-11.5zM245 264h11.5v4h-11.5zM256.5 272h8.1v8h-8.1zM616.8 282h12.1v4h-12.1zM640.7 360h11.3v4h-11.3zM640.7 376h11.3v4h-11.3zM672.5 326h12.3v4h-12.3zM684.8 227h12.2v4h-12.2zM684.8 235h12.2v4h-12.2z"/>
<path fill="#ffc400" shape-rendering="crispEdges" d="M245 252h11.5v4h-11.5zM256.5 288h8.1v4h-8.1zM616.8 290h12.1v4h-12.1zM628.9 212h11.8v4h-11.8zM628.9 314h11.8v21h-11.8zM672.5 282h12.3v4h-12.3zM672.5 290h12.3v4h-12.3z"/>
<path fill="#ffa400" shape-rendering="crispEdges" d="M245 260h11.5v4h-11.5zM256.5 244h8.1v8h-8.1zM264.6 253h12.2v4h-12.2zM264.6 261h12.2v8h-12.2zM264.6 289h12.2v2h-12.2zM300.8 244h11.7v8h-11.7zM616.8 286h12.1v4h-12.1zM616.8 298h12.1v4h-12.1zM628.9 216h11.8v4h-11.8zM628.9 286h11.8v4h-11.8zM628.9 294h11.8v4h-11.8zM640.7 368h11.3v8h-11.3zM652 398h8.8v4h-8.8zM684.8 231h12.2v4h-12.2z"/>
<path fill="#ff7300" shape-rendering="crispEdges" d="M245 268h11.5v4h-11.5zM256.5 284h8.1v4h-8.1zM264.6 269h12.2v4h-12.2zM264.6 281h12.2v8h-12.2zM300.8 216h11.7v16h-11.7zM300.8 236h11.7v8h-11.7zM300.8 288h11.7v4h-11.7zM300.8 296h11.7v8h-11.7zM628.9 298h11.8v12h-11.8zM640.7 364h11.3v4h-11.3zM652 386h8.8v12h-8.8zM672.5 318h12.3v4h-12.3zM672.5 334h12.3v8h-12.3z"/>
<path fill="#77ff88" shape-rendering="crispEdges" d="M236 614h8.7v4h-8.7zM236 622h8.7v3h-8.7zM245 293h11.5v4h-11.5zM245 301h11.5v4h-11.5zM256.5 212h8.1v4h-8.1zM264.6 355h12.2v4h-12.2zM276.8 244h12v4h-12zM276.8 264h12v3h-12zM288.8 280h12v4h-12zM300.8 320h11.7v4h-11.7zM300.8 328h11.7v8h-11.7zM332.6 594h12.3v4h-12.3zM393.2 610h7.8v4h-7.8zM401 584h11.7v4h-11.7zM437 241h12.1v4h-12.1zM437 269h12.1v4h-12.1zM640.7 317h11.3v4h-11.3zM672.5 200h12.3v4h-12.3zM684.8 315h12.2v4h-12.2zM865 199h11.7v4h-11.7zM865 239h11.7v4h-11.7zM913 153h7.8v4h-7.8zM913 197h7.8v4h-7.8zM920.8 213h12.2v4h-12.2zM920.8 261h12.2v4h-12.2zM989 181h12v4h-12zM1124.9 161h11.8v4h-11.8zM1136.7 177h12.3v4h-12.3zM1372.7 230h12.3v4h-12.3z"/>
<path fill="#88ff77" shape-rendering="crispEdges" d="M236 618h8.7v4h-8.7zM245 297h11.5v4h-11.5zM256.5 216h8.1v12h-8.1zM264.6 335h12.2v4h-12.2zM288.8 212h12v4h-12zM288.8 276h12v4h-12zM288.8 284h12v4h-12zM300.8 324h11.7v4h-11.7zM320.9 598h11.7v12h-11.7zM332.6 586h12.3v4h-12.3zM332.6 598h12.3v4h-12.3zM401 588h11.7v4h-11.7zM449.1 200h11.8v8h-11.8zM449.1 298h11.8v4h-11.8zM493 465h11.7v4h-11.7zM628.9 192h11.8v8h-11.8zM640.7 384h11.3v4h-11.3zM652 298h8.8v4h-8.8zM652 410h8.8v8h-8.8zM672.5 196h12.3v4h-12.3zM865 215h11.7v4h-11.7zM865 235h11.7v4h-11.7zM888.9 161h11.8v4h-11.8zM920.8 209h12.2v4h-12.2zM920.8 225h12.2v4h-12.2zM920.8 265h12.2v8h-12.2zM989 169h12v4h-12zM1124.9 165h11.8v12h-11.8zM1136.7 153h12.3v4h-12.3zM1285 956h12v5h-12zM1544.7 150h12.3v4h-12.3zM1544.7 174h12.3v4h-12.3z"/>
<path fill="#26ffd9" shape-rendering="crispEdges" d="M245 313h11.5v16h-11.5zM264.6 192h12.2v8h-12.2zM276.8 220h12v4h-12zM288.8 304h12v44h-12zM300.8 340h11.7v4h-11.7zM300.8 348h11.7v8h-11.7zM312.5 275h8.2v4h-8.2zM332.6 574h12.3v12h-12.3zM344.8 197h12v4h-12zM344.8 205h12v4h-12zM344.9 580h12.1v4h-12.1zM344.9 596h12.1v4h-12.1zM356.8 257h11.9v8h-11.9zM380.8 221h12v8h-12zM380.8 269h12v34h-12zM400.9 180h11.7v4h-11.7zM412 262h12.7v4h-12.7zM449.1 243h11.8v4h-11.8zM449.1 255h11.8v4h-11.8zM469.1 294h11.7v16h-11.7zM480.7 477h12.3v1h-12.3zM480.7 633h12.3v4h-12.3zM480.7 665h12.3v1h-12.3zM492.7 255h12.1v11h-12.1zM493 473h11.7v2h-11.7zM584.8 528h12.2v2h-12.2zM585 302h11.7v1h-11.7zM596.7 255h8.4v8h-8.4zM596.7 323h8.4v4h-8.4zM596.7 331h8.4v2h-8.4zM604.8 500h12.1v4h-12.1zM604.8 512h12.1v10h-12.1zM604.8 640h12.1v8h-12.1zM605.1 290h11.7v1h-11.7zM616.9 647h12.3v4h-12.3zM652 290h8.8v4h-8.8zM660.8 368h11.7v4h-11.7zM684.8 512h12.2v4h-12.2zM702 517h6.8v4h-6.8zM800.9 181h7.8v4h-7.8zM845.1 181h11.7v4h-11.7zM856.8 217h8.2v8h-8.2zM888.9 204h11.8v4h-11.8zM888.9 219h11.8v20h-11.8zM913 185h7.8v4h-7.8zM920.8 157h12.2v4h-12.2zM933 271h12.1v4h-12.1zM956.8 295h11.9v4h-11.9zM989 225h12v12h-12zM1024.8 153h12.1v4h-12.1zM1024.8 208h12.1v4h-12.1zM1024.8 220h12.1v4h-12.1zM1024.8 228h12.1v4h-12.1zM1049.2 241h7.8v4h-7.8zM1068.8 165h12.3v12h-12.3zM1081.1 157h11.7v8h-11.7zM1104.9 145h11.8v4h-11.8zM1104.9 153h11.8v4h-11.8zM1104.9 169h11.8v4h-11.8zM1136.7 165h12.3v8h-12.3zM1136.7 181h12.3v4h-12.3zM1149 225h12.1v8h-12.1zM1161.1 157h11.8v8h-11.8zM1216.8 177h12.3v8h-12.3zM1249 153h11.8v20h-11.8zM1249 197h11.8v4h-11.8zM1297 141h11.7v24h-11.7zM1328.5 569h12.1v11h-12.1zM1420.9 584h12.1v8h-12.1zM1465.1 128h11.8v4h-11.8zM1497.3 581h11.9v8h-11.9zM1500.7 141h12.1v28h-12.1zM1544.7 142h12.3v8h-12.3z"/>
<path fill="#0000a0" shape-rendering="crispEdges" d="M236 518h8.7v4h-8.7zM236 576h8.7v6h-8.7zM236 634h8.7v3h-8.7zM244.7 600h12.3v8h-12.3zM245 341h11.5v7h-11.5zM257 753h8v8h-8zM264 1096h12v4h-12zM265.2 529h11.7v4h-11.7zM265.2 588h11.7v12h-11.7zM276 1077h13v4h-13zM276.9 584h11.7v8h-11.7zM276.9 645h11.7v4h-11.7zM288.6 656h12.1v4h-12.1zM288.8 373h12v3h-12zM300.7 649h12.4v11h-12.4zM312 816h9v12h-9zM312 1041h9v3h-9zM312.5 428.5h8.2v4.5h-8.2zM313.1 596h7.8v4h-7.8zM320.7 305h12v3h-12zM320.9 572h11.7v8h-11.7zM321 1093h12v3h-12zM332.6 568h12.3v6h-12.3zM344.9 641h12.1v2h-12.1zM357 841h11v7h-11zM357 1025h11v3h-11zM368 1077h13v4h-13zM368.7 193h12.1v3h-12.1zM380.8 181h12v8h-12zM392.8 169h8.1v4h-8.1zM393.2 643h7.8v4h-7.8zM400.9 329h11.7v3h-11.7zM401 572h11.7v4h-11.7zM412.7 568h12.3v4h-12.3zM424.7 272h12.3v12h-12.3zM425 627h11.8v4h-11.8zM425 655h11.8v3h-11.8zM436.8 635h12.1v4h-12.1zM437 1101h12v11h-12zM448.9 520h11.7v4h-11.7zM448.9 545h11.7v8h-11.7zM449.1 161h11.8v4h-11.8zM460.6 644h9.4v4h-9.4zM460.9 180h8.2v4h-8.2zM460.9 322h8.2v3h-8.2zM468.9 596h11.8v8h-11.8zM468.9 612h11.8v3h-11.8zM468.9 619h11.8v4h-11.8zM469.1 178h11.7v4h-11.7zM480.7 533h12.3v2h-12.3zM480.7 623h12.3v2h-12.3zM480.7 666h12.3v4h-12.3zM480.8 161h11.9v4h-11.9zM480.8 317h11.9v3h-11.9zM480.8 325h11.9v3h-11.9zM481 1021h13v3h-13zM492.7 428.5h12.1v7.5h-12.1zM493 429h11.7v7h-11.7zM493 661h11.7v3h-11.7zM504.7 664h19.9v4h-19.9zM505 1077h12v7h-12zM517.1 169h7.9v8h-7.9zM525 756h12v4h-12zM536.7 527h12.4v8h-12.4zM537.1 211h11.7v4h-11.7zM537.1 219h11.7v8h-11.7zM548.8 278h12.1v8h-12.1zM549.1 508h12.1v4h-12.1zM560.9 271h12.3v4h-12.3zM561.2 609h11.9v6h-11.9zM573.1 649h11.7v4h-11.7zM573.1 657h11.7v3h-11.7zM584 1044h13v4h-13zM584 1052h13v12h-13zM584.8 649h12.2v4h-12.2zM584.8 657h12.2v8h-12.2zM596.7 198h8.4v6h-8.4zM597 569h7.8v4h-7.8zM597 617h7.8v8h-7.8zM597 633h7.8v4h-7.8zM597 753h7v7h-7zM604.8 597h12.1v7h-12.1zM616.8 362h12.1v16h-12.1zM616.9 613h12.3v2h-12.3zM629 960h12v9h-12zM640.7 173h11.3v8h-11.3zM640.9 679h12.1v4h-12.1zM653 537h8v4h-8zM653 604h8v4h-8zM653 880h8v4h-8zM660.8 173h11.7v3h-11.7zM661 448h11.7v4h-11.7zM661 989h12v3h-12zM672.7 512h12.1v6h-12.1zM672.7 685h12.1v3h-12.1zM673 1061h12v3h-12zM684.8 561h12.2v4h-12.2zM684.8 569h12.2v12h-12.2zM685 1064h12v4h-12zM697 224h12.1v4h-12.1zM697 391h12.1v8h-12.1zM697 612h9v4h-9zM697 628h9v3h-9zM697 664h9v4h-9zM697 1081h13v3h-13zM697 1104h13v13h-13zM708.8 685h7.9v3h-7.9zM709.1 324h7.8v4h-7.8zM716.7 525h12.3v4h-12.3zM728 1112h12v5h-12zM740 1044h13v4h-13zM740 1096h13v8h-13zM741 141h12v4h-12zM753 708h12v9h-12zM753 869h12v11h-12zM800 1029h9v7h-9zM808 1093h12v3h-12zM808 1112h12v5h-12zM821.1 181h11.7v4h-11.7zM834 1112h11v5h-11zM845 1104h12v8h-12zM856.8 360h8.2v4h-8.2zM857 1112h8v5h-8zM889 1081h12v3h-12zM905 1109h12v8h-12zM913 320h7.8v4h-7.8zM921 1065h12v4h-12zM933 157h12.1v4h-12.1zM945.1 193h11.7v4h-11.7zM945.1 225h11.7v4h-11.7zM945.1 241h11.7v6h-11.7zM953 1109h12v8h-12zM957 1105h12v8h-12zM968.7 161h8.2v4h-8.2zM968.7 169h8.2v4h-8.2zM968.7 298h8.2v4h-8.2zM968.7 314h8.2v4h-8.2zM976.9 272h12.1v4h-12.1zM977 1105h12v12h-12zM1001 286h12.1v4h-12.1zM1001 329h12.1v4h-12.1zM1013 997h12v11h-12zM1013 1105h12v12h-12zM1024.8 137h12.1v8h-12.1zM1025 1105h12v12h-12zM1049 1105h12v12h-12zM1057 245h11.8v2h-11.8zM1057 1093h12v4h-12zM1068.8 251h12.3v8h-12.3zM1093 1093h12v24h-12zM1097 1109h12v8h-12zM1105.1 580h12v4h-12zM1105.1 592h12v4h-12zM1109 1109h12v8h-12zM1121 1109h12v8h-12zM1125.1 582h11.9v16h-11.9zM1145 1105h12v12h-12zM1149 1049h12v11h-12zM1149 1085h12v12h-12zM1149.1 624h11.7v4h-11.7zM1160 1097h12v8h-12zM1161.1 237h11.8v2h-11.8zM1169 1105h12v12h-12zM1172 1097h12v8h-12zM1173.4 576h8v4h-8zM1180 1081h13v4h-13zM1181 1109h12v8h-12zM1192.8 624h12.1v4h-12.1zM1193 1065h12v12h-12zM1193 1105h12v12h-12zM1216.8 632h12v4h-12zM1217 1109h12v8h-12zM1229 1068h9v9h-9zM1229 1109h12v8h-12zM1229.1 276h8v4h-8zM1238 1036h11v5h-11zM1238 1049h11v3h-11zM1238 1064h11v4h-11zM1240 1089h12v8h-12zM1244 1097h12v8h-12zM1249 255h11.8v4h-11.8zM1249 1077h23v8h-23zM1256 1097h12v8h-12zM1260.8 245h12.1v4h-12.1zM1261 665h12v11h-12zM1261.2 629h11.9v3h-11.9zM1265 1105h12v12h-12zM1276 1089h12v8h-12zM1277 1105h12v4h-12zM1285 1061h12v3h-12zM1285.2 561h12v4h-12zM1289 1105h12v4h-12zM1300 1089h12v8h-12zM1301 1105h12v12h-12zM1304 1097h12v8h-12zM1312 1089h12v8h-12zM1324 1089h12v8h-12zM1328.8 184h12.1v4h-12.1zM1329 865h12v12h-12zM1336 1089h12v8h-12zM1337 1109h12v8h-12zM1341 1041h12v8h-12zM1341 1061h12v3h-12zM1348 1089h12v8h-12zM1349 1105h12v4h-12zM1352.7 216h11.3v3h-11.3zM1353 969h13v3h-13zM1360 1089h12v8h-12zM1361 1105h12v12h-12zM1365 1069h6v8h-6zM1372 1089h12v8h-12zM1373 1105h12v4h-12zM1374 1081h12v4h-12zM1385 1105h12v12h-12zM1397 1105h12v12h-12zM1409 581h11.9v4h-11.9zM1420.9 593h12.1v4h-12.1zM1421 1109h12v8h-12zM1432.7 197h8v13h-8zM1433 600h7.9v8h-7.9zM1433 864h8v4h-8zM1440.7 154h12.1v2h-12.1zM1448 1097h12v8h-12zM1453 1065h13v4h-13zM1457 1105h12v12h-12zM1465 829h12v11h-12zM1469 1109h12v8h-12zM1481 1105h12v4h-12zM1484 1097h12v8h-12zM1485.3 637h12v4h-12zM1489 1028h13v13h-13zM1493 1105h12v12h-12zM1497.3 604h11.9v4h-11.9zM1513 1025h20v3h-20zM1516.8 581h11.8v4h-11.8zM1516.8 593h11.8v7h-11.8zM1520 1097h12v8h-12zM1521 1077h12v3h-12zM1521.2 200h11.8v4h-11.8zM1533 769h11v6h-11zM1541 1105h12v12h-12zM1553 1109h12v8h-12zM1557 1028h12v13h-12zM1557 1081h12v4h-12zM1565 1109h12v8h-12zM1568 1097h12v8h-12zM1569.1 133h7.8v4h-7.8zM1577 1109h12v8h-12zM1580 1097h9v8h-9z"/>
<path fill="#a8ff57" shape-rendering="crispEdges" d="M256.5 228h8.1v4h-8.1zM264.6 311h12.2v4h-12.2zM264.6 339h12.2v12h-12.2zM288.8 196h12v4h-12zM288.8 248h12v4h-12zM312.5 320h8.2v4h-8.2zM312.5 332h8.2v4h-8.2zM312.5 348h8.2v4h-8.2zM320.9 594h11.7v4h-11.7zM332.6 614h12.3v4h-12.3zM344.9 592h12.1v4h-12.1zM380.5 616h12.7v8h-12.7zM393.2 590h7.8v4h-7.8zM393.2 602h7.8v4h-7.8zM401 592h11.7v4h-11.7zM401 600h11.7v4h-11.7zM437 253h12.1v4h-12.1zM449.1 188h11.8v8h-11.8zM449.1 212h11.8v4h-11.8zM449.1 286h11.8v4h-11.8zM493 461h11.7v4h-11.7zM605.1 254h11.7v4h-11.7zM616.8 239h12.1v4h-12.1zM628.9 200h11.8v4h-11.8zM640.7 392h11.3v4h-11.3zM652 302h8.8v4h-8.8zM672.5 204h12.3v4h-12.3zM684.8 255h12.2v7h-12.2zM684.8 306h12.2v4h-12.2zM888.9 208h11.8v8h-11.8zM913 165h7.8v4h-7.8zM913 213h7.8v4h-7.8zM989 173h12v4h-12zM1136.7 145h12.3v8h-12.3zM1372.7 162h12.3v3h-12.3zM1372.7 218h12.3v4h-12.3zM1544.7 162h12.3v8h-12.3zM1544.7 222h12.3v3h-12.3z"/>
<path fill="#ffb400" shape-rendering="crispEdges" d="M256.5 252h8.1v4h-8.1zM264.6 257h12.2v4h-12.2zM300.8 252h11.7v20h-11.7zM616.8 278h12.1v4h-12.1zM616.8 294h12.1v4h-12.1zM652 402h8.8v4h-8.8z"/>
<path fill="#0033ff" shape-rendering="crispEdges" d="M264.6 184h12.2v8h-12.2zM265.2 611h11.7v4h-11.7zM265.2 619h11.7v8h-11.7zM276.9 641h11.7v4h-11.7zM288.6 616h12.1v4h-12.1zM288.6 643h12.1v4h-12.1zM312.5 209h8.2v8h-8.2zM313.1 624h7.8v1h-7.8zM332.6 625h12.3v8h-12.3zM332.7 217h12.1v8h-12.1zM332.7 250h12.1v4h-12.1zM344.8 254h12v4h-12zM357 584h11.8v4h-11.8zM368.7 201h12.1v4h-12.1zM436.8 647h12.1v4h-12.1zM448.9 576h11.7v8h-11.7zM468.9 516h11.8v4h-11.8zM480.8 279h11.9v4h-11.9zM492.7 173h12.1v3h-12.1zM493 440h11.7v5h-11.7zM493 487h11.7v4h-11.7zM493 633h11.7v4h-11.7zM493 645h11.7v4h-11.7zM504.8 235h12.3v8h-12.3zM504.8 247h12.3v8h-12.3zM517.1 227h7.9v8h-7.9zM517.1 239h7.9v8h-7.9zM517.1 251h7.9v16h-7.9zM517.1 295h7.9v8h-7.9zM537.1 303h11.7v2h-11.7zM560.9 287h12.3v4h-12.3zM561.2 528h11.9v4h-11.9zM561.2 536h11.9v9h-11.9zM573.1 500h11.7v4h-11.7zM573.2 278h11.8v4h-11.8zM573.2 290h11.8v8h-11.8zM585 202h11.7v4h-11.7zM585 277h11.7v4h-11.7zM597 585h7.8v4h-7.8zM597 597h7.8v4h-7.8zM604.8 549h12.1v8h-12.1zM629.2 465h11.7v4h-11.7zM629.2 633h11.7v4h-11.7zM640.7 215h11.3v24h-11.3zM640.7 243h11.3v8h-11.3zM640.7 255h11.3v5h-11.3zM640.9 505h12.1v4h-12.1zM652 165h8.8v4h-8.8zM653 637h8v4h-8zM660.8 227h11.7v4h-11.7zM661 684h11.7v8h-11.7zM684.8 608h12.2v4h-12.2zM697 165h12.1v4h-12.1zM697 173h12.1v8h-12.1zM697 204h12.1v4h-12.1zM697 312h12.1v3h-12.1zM697 534h9v4h-9zM697 558h9v4h-9zM702 617h6.8v4h-6.8zM708.8 545h7.9v4h-7.9zM741 181h12v8h-12zM741 213h12v2h-12zM752.8 545h12.1v8h-12.1zM753 197h12v4h-12zM753 205h12v4h-12zM785.1 561h15.6v4h-15.6zM808.7 173h12.4v4h-12.4zM808.7 217h12.4v4h-12.4zM820.9 572h11.9v8h-11.9zM821.1 169h11.7v4h-11.7zM832.8 192h12.3v8h-12.3zM832.8 240h12.3v8h-12.3zM832.8 274h12.3v4h-12.3zM832.8 282h12.3v4h-12.3zM856.8 271h8.2v1h-8.2zM888.9 287h11.8v4h-11.8zM900.7 271h12.3v4h-12.3zM900.7 287h12.3v8h-12.3zM900.7 333h12.3v4h-12.3zM900.7 341h12.3v7h-12.3zM956.8 305h11.9v4h-11.9zM976.9 185h12.1v4h-12.1zM989 153h12v4h-12zM1013.1 220h11.7v8h-11.7zM1013.1 329h11.7v4h-11.7zM1036.9 149h12.3v4h-12.3zM1036.9 165h12.3v8h-12.3zM1036.9 177h12.3v3h-12.3zM1036.9 216h12.3v20h-12.3zM1081 564h12.1v8h-12.1zM1092.8 201h12.1v11h-12.1zM1105.1 568h12v4h-12zM1117.1 595h8v1h-8zM1137 580h12.1v4h-12.1zM1137 588h12.1v4h-12.1zM1161.1 133h11.8v8h-11.8zM1172.9 153h8.2v4h-8.2zM1172.9 189h8.2v4h-8.2zM1181.1 181h11.7v4h-11.7zM1192.8 145h11.9v4h-11.9zM1192.8 613h12.1v4h-12.1zM1229.1 217h8v4h-8zM1229.1 246h8v4h-8zM1260.8 229h12.1v4h-12.1zM1272.9 230h12.3v4h-12.3zM1285.2 197h11.8v4h-11.8zM1308.2 580h11.8v12h-11.8zM1308.7 174h8.4v4h-8.4zM1308.7 182h8.4v12h-8.4zM1308.7 210h8.4v2h-8.4zM1328.5 580h12.1v4h-12.1zM1352.7 149h11.3v4h-11.3zM1352.7 161h11.3v4h-11.3zM1352.9 597h12.1v3h-12.1zM1365 593h8v3h-8zM1373 585h11.9v4h-11.9zM1385 130h12.1v4h-12.1zM1385 162h12.1v4h-12.1zM1385 182h12.1v4h-12.1zM1408.9 157h12.1v8h-12.1zM1408.9 169h12.1v1h-12.1zM1408.9 208h12.1v4h-12.1zM1452.8 206h12.3v4h-12.3zM1485.3 568h12v8h-12zM1488.9 184h11.8v4h-11.8zM1500.7 194h12.1v3h-12.1zM1509.2 585h7.6v4h-7.6zM1512.8 144h8.4v4h-8.4zM1512.8 156h8.4v4h-8.4zM1521.2 113h11.8v12h-11.8zM1521.2 133h11.8v7h-11.8zM1569.1 180h7.8v4h-7.8z"/>
<path fill="#16ffe9" shape-rendering="crispEdges" d="M244.7 632h12.3v2h-12.3zM264.6 200h12.2v4h-12.2zM264.6 224h12.2v8h-12.2zM276.8 318h12v1h-12zM288.8 192h12v4h-12zM288.8 208h12v4h-12zM300.8 188h11.7v4h-11.7zM312.5 271h8.2v4h-8.2zM312.5 283h8.2v2h-8.2zM312.5 397h8.2v8h-8.2zM344.8 189h12v8h-12zM344.8 201h12v4h-12zM344.9 600h12.1v4h-12.1zM344.9 608h12.1v4h-12.1zM368.8 632h11.7v3h-11.7zM392.8 188h8.1v4h-8.1zM392.8 262h8.1v8h-8.1zM412.7 600h12.3v4h-12.3zM449.1 263h11.8v4h-11.8zM468.9 483h11.8v4h-11.8zM468.9 491h11.8v4h-11.8zM468.9 639h11.8v8h-11.8zM469.1 318h11.7v4h-11.7zM480.7 637h12.3v8h-12.3zM480.7 649h12.3v4h-12.3zM504.7 661h19.9v3h-19.9zM585 282h11.7v8h-11.7zM596.7 315h8.4v8h-8.4zM596.7 327h8.4v4h-8.4zM597 520h7.8v12h-7.8zM604.8 504h12.1v8h-12.1zM604.8 636h12.1v4h-12.1zM604.8 648h12.1v4h-12.1zM616.8 243h12.1v4h-12.1zM616.8 317h12.1v4h-12.1zM616.8 325h12.1v8h-12.1zM640.7 300h11.3v4h-11.3zM653 513h8v3h-8zM660.8 325h11.7v4h-11.7zM660.8 356h11.7v4h-11.7zM660.8 364h11.7v4h-11.7zM684.8 180h12.2v12h-12.2zM684.8 335h12.2v4h-12.2zM684.8 504h12.2v4h-12.2zM800.9 193h7.8v4h-7.8zM845.1 177h11.7v4h-11.7zM845.1 185h11.7v4h-11.7zM845.1 193h11.7v4h-11.7zM856.8 165h8.2v8h-8.2zM856.8 205h8.2v4h-8.2zM856.8 225h8.2v4h-8.2zM900.7 225h12.3v4h-12.3zM913 225h7.8v4h-7.8zM920.8 161h12.2v8h-12.2zM920.8 173h12.2v4h-12.2zM920.8 181h12.2v8h-12.2zM933 181h12.1v4h-12.1zM989 237h12v4h-12zM989 247h12v4h-12zM1024.8 193h12.1v4h-12.1zM1024.8 204h12.1v4h-12.1zM1024.8 224h12.1v4h-12.1zM1024.8 236h12.1v4h-12.1zM1049.2 237h7.8v4h-7.8zM1068.8 233h12.3v4h-12.3zM1081.1 217h11.7v4h-11.7zM1081.1 253h11.7v12h-11.7zM1104.9 149h11.8v4h-11.8zM1104.9 161h11.8v8h-11.8zM1116.7 133h8.2v4h-8.2zM1117.1 588h8v3h-8zM1124.9 145h11.8v16h-11.8zM1136.7 173h12.3v4h-12.3zM1161.1 165h11.8v4h-11.8zM1216.8 169h12.3v4h-12.3zM1249 193h11.8v4h-11.8zM1249 201h11.8v4h-11.8zM1249 241h11.8v6h-11.8zM1364.9 187h7.8v4h-7.8zM1397.1 176h11.8v12h-11.8zM1397.1 204h11.8v4h-11.8zM1420.9 580h12.1v4h-12.1zM1440.9 557h8v4h-8zM1465.1 168h11.8v4h-11.8zM1497.3 573h11.9v8h-11.9zM1500.7 129h12.1v12h-12.1zM1500.7 169h12.1v1h-12.1zM1544.7 134h12.3v4h-12.3z"/>
<path fill="#ff6300" shape-rendering="crispEdges" d="M264.6 273h12.2v8h-12.2zM652 378h8.8v8h-8.8zM684.8 262h12.2v16h-12.2z"/>
<path fill="#00e5ff" shape-rendering="crispEdges" d="M236 582h8.7v8h-8.7zM244.7 612h12.3v4h-12.3zM244.7 620h12.3v4h-12.3zM276.8 294h12v12h-12zM276.8 310h12v8h-12zM288.8 232h12v4h-12zM288.8 256h12v8h-12zM313.1 629h7.8v4h-7.8zM356.8 233h11.9v4h-11.9zM357 596h11.8v4h-11.8zM357 608h11.8v16h-11.8zM368.7 252h12.1v4h-12.1zM368.7 260h12.1v4h-12.1zM380.8 201h12v4h-12zM380.8 229h12v8h-12zM380.8 261h12v8h-12zM392.8 226h8.1v8h-8.1zM400.9 192h11.7v2h-11.7zM401 580h11.7v4h-11.7zM412 190h12.7v4h-12.7zM412 230h12.7v4h-12.7zM412.7 580h12.3v4h-12.3zM412.7 592h12.3v8h-12.3zM425 594h11.8v4h-11.8zM425 602h11.8v4h-11.8zM425 610h11.8v8h-11.8zM436.8 588h12.1v4h-12.1zM436.8 596h12.1v8h-12.1zM436.8 608h12.1v4h-12.1zM437 214h12.1v8h-12.1zM437 280h12.1v4h-12.1zM449.1 165h11.8v12h-11.8zM449.1 247h11.8v4h-11.8zM449.1 259h11.8v4h-11.8zM468.9 471h11.8v8h-11.8zM468.9 499h11.8v8h-11.8zM469.1 310h11.7v4h-11.7zM469.1 326h11.7v4h-11.7zM480.7 461h12.3v8h-12.3zM480.7 486h12.3v12h-12.3zM492.7 247h12.1v4h-12.1zM561.2 651h11.9v4h-11.9zM573.1 512h11.7v8h-11.7zM573.2 223h11.8v4h-11.8zM596.7 263h8.4v8h-8.4zM596.7 283h8.4v8h-8.4zM596.7 295h8.4v4h-8.4zM597 512h7.8v4h-7.8zM597 536h7.8v1h-7.8zM604.8 624h12.1v4h-12.1zM616.8 251h12.1v4h-12.1zM616.8 271h12.1v4h-12.1zM616.8 333h12.1v2h-12.1zM653 493h8v8h-8zM684.8 314h12.2v1h-12.2zM684.8 520h12.2v4h-12.2zM800.9 205h7.8v4h-7.8zM856.8 177h8.2v4h-8.2zM856.8 185h8.2v4h-8.2zM876.7 145h12.2v8h-12.2zM888.9 243h11.8v4h-11.8zM920.8 237h12.2v4h-12.2zM920.8 273h12.2v4h-12.2zM933 209h12.1v4h-12.1zM933 221h12.1v4h-12.1zM933 233h12.1v4h-12.1zM933 241h12.1v4h-12.1zM956.8 279h11.9v8h-11.9zM989 241h12v4h-12zM1024.8 145h12.1v8h-12.1zM1024.8 157h12.1v12h-12.1zM1024.8 177h12.1v8h-12.1zM1024.8 197h12.1v3h-12.1zM1049.2 221h7.8v12h-7.8zM1057 141h11.8v4h-11.8zM1057 173h11.8v4h-11.8zM1068.8 197h12.3v4h-12.3zM1081.1 145h11.7v4h-11.7zM1081.1 153h11.7v4h-11.7zM1081.1 201h11.7v4h-11.7zM1081.1 225h11.7v4h-11.7zM1081.1 237h11.7v4h-11.7zM1104.9 177h11.8v4h-11.8zM1104.9 221h11.8v10h-11.8zM1116.7 157h8.2v4h-8.2zM1116.7 221h8.2v2h-8.2zM1124.9 200h11.8v4h-11.8zM1149 213h12.1v4h-12.1zM1161.1 189h11.8v4h-11.8zM1216.8 149h12.3v4h-12.3zM1216.8 173h12.3v4h-12.3zM1216.8 185h12.3v8h-12.3zM1237.1 220h11.9v4h-11.9zM1249 181h11.8v4h-11.8zM1249 189h11.8v4h-11.8zM1297 137h11.7v4h-11.7zM1297 197h11.7v4h-11.7zM1308.2 552h11.8v8h-11.8zM1328.5 557h12.1v4h-12.1zM1352.9 565h12.1v16h-12.1zM1364.9 203h7.8v4h-7.8zM1372.7 173h12.3v16h-12.3zM1397.1 208h11.8v4h-11.8zM1440.9 597h8v3h-8zM1448.9 573h12.5v2h-12.5zM1465.1 148h11.8v4h-11.8zM1497.3 589h11.9v7h-11.9zM1544.7 229h12.3v4h-12.3zM1544.7 237h12.3v16h-12.3z"/>
<path fill="#000090" shape-rendering="crispEdges" d="M244.7 596h12.3v4h-12.3zM257 639h8.2v4h-8.2zM265.2 533h11.7v4h-11.7zM265.2 608h11.7v3h-11.7zM276.8 319h12v5h-12zM276.9 592h11.7v4h-11.7zM288.6 596h12.1v8h-12.1zM288.6 652h12.1v4h-12.1zM300.8 366h11.7v4h-11.7zM300.8 378h11.7v4h-11.7zM313.1 592h7.8v4h-7.8zM320.7 301h12v4h-12zM320.9 635h11.7v8h-11.7zM332.6 529h12.3v4h-12.3zM332.6 537h12.3v4h-12.3zM344.9 572h12.1v4h-12.1zM344.9 625h12.1v8h-12.1zM368.8 604h11.7v4h-11.7zM380.5 602h12.7v6h-12.7zM393.2 635h7.8v8h-7.8zM412.7 572h12.3v4h-12.3zM412.7 620h12.3v8h-12.3zM412.7 632h12.3v4h-12.3zM412.7 640h12.3v7h-12.3zM448.9 541h11.7v4h-11.7zM460.6 525h8.3v4h-8.3zM460.6 656h9.4v6h-9.4zM460.9 318h8.2v4h-8.2zM468.9 604h11.8v8h-11.8zM480.7 615h12.3v4h-12.3zM480.7 670h12.3v6h-12.3zM493 653h11.7v4h-11.7zM517.1 177h7.9v1h-7.9zM517.1 197h7.9v4h-7.9zM524.6 508h12.1v8h-12.1zM536.7 617h12.4v12h-12.4zM549.1 512h12.1v6h-12.1zM549.1 538h12.1v4h-12.1zM549.1 597h12.1v4h-12.1zM560.9 275h12.3v4h-12.3zM561.2 553h11.9v4h-11.9zM573.1 653h11.7v4h-11.7zM597 629h7.8v4h-7.8zM616.8 218h12.1v5h-12.1zM616.8 378h12.1v2h-12.1zM616.9 601h12.3v4h-12.3zM628.9 403h11.8v8h-11.8zM629.2 617h11.7v4h-11.7zM640.7 169h11.3v4h-11.3zM640.9 667h12.1v8h-12.1zM653 600h8v4h-8zM660.8 200h11.7v12h-11.7zM660.8 341h11.7v4h-11.7zM660.8 395h11.7v4h-11.7zM661 569h11.7v1h-11.7zM661 629h11.7v2h-11.7zM672.7 547h12.1v8h-12.1zM684.8 612h12.2v12h-12.2zM697 616h9v4h-9zM697 660h9v4h-9zM708.8 565h7.9v3h-7.9zM716.7 561h12.3v4h-12.3zM716.7 685h12.3v4h-12.3zM740.7 541h12.1v4h-12.1zM752.8 708h12.1v4h-12.1zM765 211h12.1v4h-12.1zM777.1 182h7.8v2h-7.8zM821.1 173h11.7v8h-11.7zM913 324h7.8v16h-7.8zM933 161h12.1v4h-12.1zM945.1 185h11.7v8h-11.7zM956.8 161h11.9v4h-11.9zM968.7 294h8.2v4h-8.2zM968.7 326h8.2v4h-8.2zM976.9 288h12.1v4h-12.1zM976.9 296h12.1v4h-12.1zM1001 310h12.1v4h-12.1zM1001 325h12.1v4h-12.1zM1036.9 188h12.3v4h-12.3zM1036.9 196h12.3v12h-12.3zM1057.1 572h23.9v1h-23.9zM1068.8 247h12.3v4h-12.3zM1124.9 223h11.8v4h-11.8zM1124.9 241h11.8v8h-11.8zM1137 592h12.1v4h-12.1zM1137 600h12.1v8h-12.1zM1137 620h12.1v8h-12.1zM1181.4 628h11.4v4h-11.4zM1192.8 227h11.9v4h-11.9zM1192.8 239h11.9v18h-11.9zM1204.9 577h11.9v7h-11.9zM1204.9 629h11.9v4h-11.9zM1216.8 636h12v1h-12zM1229.1 280h8v4h-8zM1249 137h11.8v8h-11.8zM1249 251h11.8v4h-11.8zM1249 259h11.8v4h-11.8zM1249.3 572h11.9v3h-11.9zM1273.1 600h12.1v7h-12.1zM1285.2 161h11.8v4h-11.8zM1285.2 593h12v3h-12zM1297.2 580h11v4h-11zM1316 595h12.5v5h-12.5zM1328.8 188h12.1v4h-12.1zM1340.6 557h12.3v4h-12.3zM1352.7 241h11.3v15h-11.3zM1364.9 124h7.8v4h-7.8zM1365 557h8v4h-8zM1372.7 274h12.3v1h-12.3zM1373 613h11.9v3h-11.9zM1420.9 601h12.1v11h-12.1zM1440.7 164h12.1v3h-12.1zM1473.4 600h11.9v7h-11.9zM1485.3 561h12v4h-12zM1485.3 641h12v3h-12zM1500.7 121h12.1v4h-12.1zM1516.8 585h11.8v8h-11.8zM1557 273h12.1v4h-12.1zM1569.1 129h7.8v4h-7.8zM1569.1 220h7.8v4h-7.8z"/>
<path fill="#0000c0" shape-rendering="crispEdges" d="M257 613h8.2v4h-8.2zM265.2 584h11.7v4h-11.7zM276.9 649h11.7v2h-11.7zM288.6 592h12.1v4h-12.1zM288.6 604h12.1v4h-12.1zM288.6 660h12.1v4h-12.1zM300.8 370h11.7v8h-11.7zM313.1 647h7.8v4h-7.8zM332.6 635h12.3v8h-12.3zM356.8 181h11.9v4h-11.9zM368.8 600h11.7v4h-11.7zM400.9 169h11.7v7h-11.7zM424.7 169h12.3v7h-12.3zM424.7 284h12.3v2h-12.3zM460.6 545h9.4v8h-9.4zM468.9 469h11.8v2h-11.8zM468.9 525h11.8v10h-11.8zM469.1 182h11.7v4h-11.7zM480.7 625h12.3v4h-12.3zM480.8 215h11.9v4h-11.9zM524.6 650h12.1v14h-12.1zM537.1 215h11.7v4h-11.7zM537.1 305h11.7v8h-11.7zM548.8 270h12.1v4h-12.1zM560.9 267h12.3v4h-12.3zM560.9 279h12.3v4h-12.3zM561.2 557h11.9v10h-11.9zM573.1 625h11.7v4h-11.7zM597 577h7.8v4h-7.8zM616.8 210h12.1v8h-12.1zM616.8 354h12.1v8h-12.1zM616.9 609h12.3v4h-12.3zM628.9 411h11.8v4h-11.8zM629.2 504h11.7v8h-11.7zM640.9 522h12.1v4h-12.1zM640.9 683h12.1v7h-12.1zM652 239h8.8v4h-8.8zM660.8 196h11.7v4h-11.7zM660.8 337h11.7v4h-11.7zM661 557h11.7v4h-11.7zM661 565h11.7v4h-11.7zM672.7 660h12.1v4h-12.1zM672.7 681h12.1v4h-12.1zM684.8 600h12.2v4h-12.2zM684.8 628h12.2v3h-12.2zM697 308h12.1v4h-12.1zM702 605h6.8v4h-6.8zM708.8 645h7.9v4h-7.9zM709.1 145h7.8v4h-7.8zM716.7 689h12.3v4h-12.3zM716.9 149h12.3v8h-12.3zM716.9 227h12.3v4h-12.3zM729 525h11.7v4h-11.7zM752.8 557h12.1v4h-12.1zM752.8 565h12.1v3h-12.1zM752.8 712h12.1v4h-12.1zM785.1 580h15.6v4h-15.6zM808.7 223h12.4v12h-12.4zM821.1 189h11.7v4h-11.7zM832.8 250h12.3v16h-12.3zM832.8 584h11.9v4h-11.9zM844.7 693h12.1v7h-12.1zM845.1 251h11.7v15h-11.7zM920.8 335h12.2v21h-12.2zM933 356h12.1v4h-12.1zM945.1 173h11.7v8h-11.7zM945.1 221h11.7v4h-11.7zM956.8 141h11.9v4h-11.9zM968.7 181h8.2v4h-8.2zM968.7 306h8.2v4h-8.2zM1001 290h12.1v8h-12.1zM1001 321h12.1v4h-12.1zM1013.1 361h11.7v3h-11.7zM1024.8 133h12.1v4h-12.1zM1092.8 149h12.1v4h-12.1zM1125.1 598h11.9v2h-11.9zM1137 568h12.1v4h-12.1zM1181.1 253h11.7v4h-11.7zM1181.4 573h11.4v4h-11.4zM1192.8 582h12.1v9h-12.1zM1192.8 628h12.1v4h-12.1zM1216.8 573h12v4h-12zM1216.8 624h12v8h-12zM1249 133h11.8v4h-11.8zM1260.8 237h12.1v8h-12.1zM1285.2 585h12v4h-12zM1308.7 216h8.4v8h-8.4zM1352.9 552h12.1v5h-12.1zM1352.9 616h12.1v8h-12.1zM1364.9 148h7.8v4h-7.8zM1364.9 156h7.8v4h-7.8zM1385 129h12.1v1h-12.1zM1396.9 582h12.1v8h-12.1zM1452.8 121h12.3v9h-12.3zM1497.3 568h11.9v5h-11.9zM1497.3 632h11.9v4h-11.9zM1509.2 589h7.6v2h-7.6zM1569.1 141h7.8v3h-7.8zM1569.1 278h7.8v4h-7.8z"/>
<path fill="#0012ff" shape-rendering="crispEdges" d="M244.7 537h12.3v4h-12.3zM265.2 545h11.7v8h-11.7zM265.2 627h11.7v4h-11.7zM276.9 604h11.7v4h-11.7zM288.6 628h12.1v7h-12.1zM313.1 604h7.8v4h-7.8zM320.7 205h12v4h-12zM320.9 629h11.7v6h-11.7zM332.7 213h12.1v4h-12.1zM332.7 242h12.1v4h-12.1zM332.7 254h12.1v12h-12.1zM356.8 279h11.9v4h-11.9zM356.8 311h11.9v4h-11.9zM368.8 596h11.7v4h-11.7zM412 290h12.7v4h-12.7zM424.7 265h12.3v1h-12.3zM424.7 286h12.3v4h-12.3zM424.7 294h12.3v8h-12.3zM425 576h11.8v4h-11.8zM436.8 639h12.1v4h-12.1zM448.9 513h11.7v4h-11.7zM448.9 645h11.7v4h-11.7zM448.9 653h11.7v4h-11.7zM460.6 505h8.3v4h-8.3zM460.6 580h9.4v4h-9.4zM469.1 212h11.7v12h-11.7zM480.7 619h12.3v4h-12.3zM480.8 239h11.9v4h-11.9zM492.7 309h12.1v4h-12.1zM504.8 231h12.3v4h-12.3zM504.8 271h12.3v4h-12.3zM517.1 283h7.9v12h-7.9zM524.6 641h12.1v9h-12.1zM525 185h12.1v8h-12.1zM525 255h12.1v24h-12.1zM536.7 508h12.4v4h-12.4zM548.8 209h12.1v3h-12.1zM548.8 294h12.1v4h-12.1zM548.8 302h12.1v5h-12.1zM561.2 532h11.9v4h-11.9zM573.2 161h11.8v4h-11.8zM573.2 266h11.8v4h-11.8zM573.2 302h11.8v1h-11.8zM584.8 549h12.2v4h-12.2zM585 249h11.7v4h-11.7zM585 319h11.7v8h-11.7zM597 537h7.8v4h-7.8zM597 545h7.8v8h-7.8zM597 593h7.8v4h-7.8zM597 601h7.8v4h-7.8zM597 641h7.8v4h-7.8zM605.1 325h11.7v16h-11.7zM629.2 477h11.7v2h-11.7zM652 215h8.8v4h-8.8zM653 661h8v4h-8zM653 685h8v4h-8zM660.8 231h11.7v4h-11.7zM661 541h11.7v4h-11.7zM661 549h11.7v4h-11.7zM661 676h11.7v4h-11.7zM697 189h12.1v3h-12.1zM697 288h12.1v4h-12.1zM697 304h12.1v4h-12.1zM716.9 185h12.3v8h-12.3zM729.2 195h11.8v4h-11.8zM740.7 529h12.1v8h-12.1zM777.1 210h7.8v4h-7.8zM800.9 231h7.8v4h-7.8zM832.8 224h12.3v4h-12.3zM832.8 286h12.3v4h-12.3zM832.8 588h11.9v4h-11.9zM856.8 251h8.2v12h-8.2zM856.8 288h8.2v8h-8.2zM888.9 255h11.8v4h-11.8zM900.7 255h12.3v4h-12.3zM900.7 325h12.3v4h-12.3zM913 305h7.8v12h-7.8zM920.8 141h12.2v8h-12.2zM945.1 197h11.7v4h-11.7zM945.1 209h11.7v4h-11.7zM945.1 237h11.7v4h-11.7zM956.8 149h11.9v8h-11.9zM956.8 189h11.9v4h-11.9zM956.8 309h11.9v4h-11.9zM956.8 341h11.9v4h-11.9zM968.7 153h8.2v8h-8.2zM976.9 149h12.1v12h-12.1zM976.9 189h12.1v4h-12.1zM976.9 201h12.1v4h-12.1zM976.9 304h12.1v4h-12.1zM1036.9 240h12.3v4h-12.3zM1092.8 185h12.1v4h-12.1zM1105.1 576h12v4h-12zM1149 149h12.1v8h-12.1zM1161.1 202h11.8v4h-11.8zM1192.8 573h12.1v9h-12.1zM1216.8 252h12.3v4h-12.3zM1216.8 260h12.3v4h-12.3zM1237.1 184h11.9v4h-11.9zM1249 247h11.8v4h-11.8zM1249.3 579h11.9v12h-11.9zM1260.8 165h12.1v12h-12.1zM1260.8 221h12.1v4h-12.1zM1261.2 561h11.9v4h-11.9zM1261.2 590h11.9v10h-11.9zM1285.2 181h11.8v4h-11.8zM1308.7 130h8.4v4h-8.4zM1308.7 142h8.4v4h-8.4zM1308.7 150h8.4v4h-8.4zM1308.7 194h8.4v4h-8.4zM1316 552h12.5v8h-12.5zM1316 580h12.5v8h-12.5zM1328.5 552h12.1v5h-12.1zM1328.8 157h12.1v6h-12.1zM1328.8 192h12.1v4h-12.1zM1328.8 204h12.1v4h-12.1zM1352.7 181h11.3v4h-11.3zM1352.7 189h11.3v4h-11.3zM1352.9 585h12.1v4h-12.1zM1373 561h11.9v12h-11.9zM1373 577h11.9v4h-11.9zM1384.9 593h12v12h-12zM1384.9 609h12v3h-12zM1385 138h12.1v4h-12.1zM1385 146h12.1v4h-12.1zM1385 190h12.1v8h-12.1zM1397.1 128h11.8v4h-11.8zM1397.1 136h11.8v4h-11.8zM1397.1 156h11.8v4h-11.8zM1408.9 153h12.1v4h-12.1zM1408.9 165h12.1v4h-12.1zM1408.9 220h12.1v4h-12.1zM1421 220h11.7v8h-11.7zM1421 232h11.7v4h-11.7zM1421 240h11.7v4h-11.7zM1452.8 178h12.3v4h-12.3zM1485.3 576h12v4h-12zM1512.8 136h8.4v8h-8.4zM1512.8 180h8.4v4h-8.4zM1512.8 196h8.4v3h-8.4zM1533 117h11.7v4h-11.7zM1533 157h11.7v3h-11.7zM1544.7 117h12.3v4h-12.3zM1557 117h12.1v4h-12.1zM1557 125h12.1v4h-12.1zM1557 137h12.1v4h-12.1zM1576.9 121h12.1v4h-12.1zM1576.9 180h12.1v4h-12.1z"/>
<path fill="#0000b0" shape-rendering="crispEdges" d="M257 549h8.2v8h-8.2zM257 635h8.2v4h-8.2zM265.2 600h11.7v8h-11.7zM320.7 285h12v16h-12zM332.6 541h12.3v12h-12.3zM380.8 189h12v4h-12zM392.8 173h8.1v3h-8.1zM400.9 325h11.7v4h-11.7zM401 541h11.7v12h-11.7zM425 631h11.8v24h-11.8zM448.9 524h11.7v4h-11.7zM460.6 648h9.4v4h-9.4zM468.9 465h11.8v4h-11.8zM468.9 615h11.8v4h-11.8zM468.9 623h11.8v4h-11.8zM469.1 186h11.7v10h-11.7zM480.7 525h12.3v8h-12.3zM480.7 629h12.3v4h-12.3zM480.8 223h11.9v12h-11.9zM493 657h11.7v4h-11.7zM504.7 668h19.9v8h-19.9zM537.1 313h11.7v2h-11.7zM548.8 274h12.1v4h-12.1zM549.1 518h12.1v4h-12.1zM549.1 593h12.1v4h-12.1zM560.9 259h12.3v4h-12.3zM561.2 520h11.9v4h-11.9zM561.2 593h11.9v8h-11.9zM573.1 539h11.7v12h-11.7zM584.8 645h12.2v4h-12.2zM584.8 653h12.2v4h-12.2zM584.8 665h12.2v1h-12.2zM597 573h7.8v4h-7.8zM604.8 668h12.1v8h-12.1zM616.9 557h12.3v4h-12.3zM616.9 605h12.3v4h-12.3zM628.9 157h11.8v4h-11.8zM629.2 512h11.7v8h-11.7zM640.7 165h11.3v4h-11.3zM640.7 181h11.3v3h-11.3zM640.9 477h12.1v8h-12.1zM640.9 526h12.1v1h-12.1zM640.9 663h12.1v4h-12.1zM652 231h8.8v8h-8.8zM652 243h8.8v4h-8.8zM660.8 333h11.7v4h-11.7zM660.8 391h11.7v4h-11.7zM661 561h11.7v4h-11.7zM672.7 508h12.1v4h-12.1zM684.8 557h12.2v4h-12.2zM684.8 565h12.2v4h-12.2zM697 228h12.1v4h-12.1zM702 601h6.8v4h-6.8zM702 609h6.8v4h-6.8zM708.8 624h7.9v12h-7.9zM716.7 557h12.3v4h-12.3zM716.7 569h12.3v3h-12.3zM716.7 645h12.3v7h-12.3zM716.9 223h12.3v4h-12.3zM752.8 537h12.1v4h-12.1zM752.8 553h12.1v4h-12.1zM752.8 561h12.1v4h-12.1zM777.2 565h7.9v4h-7.9zM821.1 185h11.7v4h-11.7zM832.8 580h11.9v4h-11.9zM844.7 689h12.1v4h-12.1zM945.1 181h11.7v4h-11.7zM945.1 217h11.7v4h-11.7zM968.7 165h8.2v4h-8.2zM968.7 302h8.2v4h-8.2zM968.7 310h8.2v4h-8.2zM968.7 338h8.2v3h-8.2zM1001 282h12.1v4h-12.1zM1001 298h12.1v12h-12.1zM1001 314h12.1v1h-12.1zM1013.1 250h11.7v6h-11.7zM1057 237h11.8v8h-11.8zM1068.8 259h12.3v7h-12.3zM1092.8 153h12.1v2h-12.1zM1104.9 231h11.8v4h-11.8zM1124.9 237h11.8v4h-11.8zM1149.1 577h11.7v3h-11.7zM1161.1 233h11.8v4h-11.8zM1173.4 568h8v8h-8zM1181.1 249h11.7v4h-11.7zM1249 271h11.8v1h-11.8zM1260.8 249h12.1v4h-12.1zM1285.2 169h11.8v4h-11.8zM1297.2 576h11v4h-11zM1297.2 584h11v8h-11zM1340.9 128h11.8v3h-11.8zM1364.9 152h7.8v4h-7.8zM1372.7 270h12.3v4h-12.3zM1396.9 590h12.1v1h-12.1zM1409 585h11.9v6h-11.9zM1420.9 597h12.1v4h-12.1zM1433 608h7.9v1h-7.9zM1452.8 113h12.3v8h-12.3zM1465.1 117h11.8v11h-11.8zM1497.3 600h11.9v4h-11.9zM1500.7 113h12.1v4h-12.1zM1512.8 113h8.4v4h-8.4zM1516.8 573h11.8v8h-11.8zM1521.2 204h11.8v12h-11.8zM1569.1 137h7.8v4h-7.8zM1569.1 224h7.8v8h-7.8zM1576.9 113h12.1v4h-12.1zM1576.9 253h12.1v4h-12.1z"/>
<path fill="#000080" shape-rendering="crispEdges" d="M236 1117h1353v11h-1353zM257 545h8.2v4h-8.2zM257 643h8.2v2h-8.2zM332.6 533h12.3v4h-12.3zM344.9 576h12.1v4h-12.1zM344.9 633h12.1v8h-12.1zM401 568h11.7v4h-11.7zM412.7 628h12.3v4h-12.3zM412.7 636h12.3v4h-12.3zM460.6 529h8.3v3h-8.3zM460.6 640h9.4v4h-9.4zM460.6 652h9.4v4h-9.4zM468.9 592h11.8v4h-11.8zM480.7 611h12.3v4h-12.3zM480.8 219h11.9v4h-11.9zM480.8 235h11.9v4h-11.9zM517.1 201h7.9v6h-7.9zM525 305h12.1v10h-12.1zM536.7 535h12.4v8h-12.4zM537.1 227h11.7v4h-11.7zM549.1 545h12.1v16h-12.1zM596.7 333h8.4v8h-8.4zM629.2 621h11.7v8h-11.7zM640.9 518h12.1v4h-12.1zM640.9 675h12.1v4h-12.1zM652 207h8.8v8h-8.8zM660.8 161h11.7v12h-11.7zM660.8 345h11.7v1h-11.7zM661 625h11.7v4h-11.7zM672.7 555h12.1v8h-12.1zM672.7 645h12.1v3h-12.1zM684.8 169h12.2v7h-12.2zM684.8 581h12.2v11h-12.2zM697 620h9v8h-9zM708.8 521h7.9v4h-7.9zM708.8 557h7.9v8h-7.9zM716.7 681h12.3v4h-12.3zM716.9 219h12.3v4h-12.3zM729 681h11.7v4h-11.7zM740.7 545h12.1v8h-12.1zM968.7 173h8.2v4h-8.2zM968.7 322h8.2v4h-8.2zM968.7 330h8.2v8h-8.2zM976.9 292h12.1v4h-12.1zM1036.9 180h12.3v8h-12.3zM1036.9 192h12.3v4h-12.3zM1057.1 568h23.9v4h-23.9zM1105.1 584h12v8h-12zM1137 608h12.1v1h-12.1zM1137 616h12.1v4h-12.1zM1149.1 573h11.7v4h-11.7zM1173.4 580h8v4h-8zM1181.4 577h11.4v7h-11.4zM1181.4 624h11.4v4h-11.4zM1192.8 219h11.9v8h-11.9zM1192.8 231h11.9v4h-11.9zM1204.9 633h11.9v4h-11.9zM1236.8 581h12.5v3h-12.5zM1249 263h11.8v8h-11.8zM1249.3 568h11.9v4h-11.9zM1285.2 165h11.8v4h-11.8zM1285.2 565h12v8h-12zM1328.8 200h12.1v4h-12.1zM1485.3 565h12v3h-12zM1497.3 608h11.9v4h-11.9zM1500.7 117h12.1v4h-12.1zM1521.2 285h11.8v4h-11.8zM1569.1 121h7.8v8h-7.8zM1569.1 212h7.8v8h-7.8z"/>
<path fill="#0000d0" shape-rendering="crispEdges" d="M401 615h11.7v4h-11.7zM548.8 266h12.1v4h-12.1zM549.1 530h12.1v4h-12.1zM560.9 283h12.3v4h-12.3zM561.2 524h11.9v4h-11.9zM573.1 617h11.7v4h-11.7zM573.1 629h11.7v8h-11.7zM597 581h7.8v4h-7.8zM597 609h7.8v4h-7.8zM629.2 479h11.7v4h-11.7zM629.2 495h11.7v3h-11.7zM653 689h8v1h-8zM672.7 504h12.1v4h-12.1zM672.7 563h12.1v4h-12.1zM684.8 624h12.2v4h-12.2zM697 284h12.1v4h-12.1zM697 292h12.1v4h-12.1zM716.7 565h12.3v4h-12.3zM800.7 569h8.4v4h-8.4zM888.9 341h11.8v7h-11.8zM945.1 169h11.7v4h-11.7zM956.8 157h11.9v4h-11.9zM976.9 300h12.1v4h-12.1zM1137 572h12.1v4h-12.1zM1216.8 577h12v4h-12zM1229.1 270h8v2h-8zM1528.6 573h12.6v4h-12.6zM1569.1 254h7.8v4h-7.8zM1569.1 270h7.8v8h-7.8zM1569.1 290h7.8v3h-7.8z"/>
<path fill="#ff2200" shape-rendering="crispEdges" d="M628.9 223h11.8v4h-11.8zM652 370h8.8v8h-8.8zM652 406h8.8v4h-8.8zM660.8 298h11.7v12h-11.7z"/>
<path fill="#ff0200" shape-rendering="crispEdges" d="M628.9 227h11.8v4h-11.8zM628.9 235h11.8v2h-11.8zM628.9 280h11.8v4h-11.8zM660.8 310h11.7v3h-11.7zM684.8 282h12.2v4h-12.2z"/>
<path fill="#ff1200" shape-rendering="crispEdges" d="M628.9 231h11.8v4h-11.8zM628.9 276h11.8v4h-11.8zM684.8 278h12.2v4h-12.2z"/>
<path fill="#a00000" shape-rendering="crispEdges" d="M628.9 237h11.8v8h-11.8zM628.9 257h11.8v4h-11.8zM628.9 265h11.8v4h-11.8zM628.9 273h11.8v3h-11.8z"/>
<path fill="#b00000" shape-rendering="crispEdges" d="M628.9 245h11.8v8h-11.8zM628.9 261h11.8v4h-11.8zM628.9 269h11.8v4h-11.8z"/>
<path fill="#e10000" shape-rendering="crispEdges" d="M628.9 253h11.8v4h-11.8z"/>
<path fill="#ff5300" shape-rendering="crispEdges" d="M628.9 284h11.8v2h-11.8zM660.8 290h11.7v4h-11.7z"/>
<path fill="#ff4300" shape-rendering="crispEdges" d="M660.8 294h11.7v4h-11.7z"/>
<path fill="#0000e1" shape-rendering="crispEdges" d="M313.1 651h7.8v1h-7.8zM380.5 635h12.7v8h-12.7zM549.1 534h12.1v4h-12.1zM573.1 621h11.7v4h-11.7zM584.8 641h12.2v4h-12.2zM597 613h7.8v4h-7.8zM629.2 483h11.7v4h-11.7zM629.2 491h11.7v4h-11.7zM629.2 637h11.7v8h-11.7zM629.2 653h11.7v7h-11.7zM640.9 659h12.1v4h-12.1zM653 645h8v4h-8zM684.8 604h12.2v4h-12.2zM697 232h12.1v5h-12.1zM697 296h12.1v4h-12.1zM800.7 561h8.4v8h-8.4zM888.9 337h11.8v4h-11.8zM900.7 157h12.3v8h-12.3zM956.8 193h11.9v4h-11.9zM968.7 149h8.2v4h-8.2zM968.7 257h8.2v4h-8.2zM968.7 318h8.2v4h-8.2zM976.9 276h12.1v4h-12.1zM976.9 316h12.1v3h-12.1zM1001 337h12.1v4h-12.1zM1216.8 581h12v10h-12zM1229.1 262h8v8h-8zM1297.2 568h11v4h-11zM1385 117h12.1v4h-12.1zM1409 573h11.9v4h-11.9zM1516.8 569h11.8v4h-11.8zM1528.6 585h12.6v4h-12.6zM1569.1 113h7.8v8h-7.8zM1569.1 258h7.8v4h-7.8zM1569.1 266h7.8v4h-7.8zM1569.1 282h7.8v4h-7.8z"/>
<rect x="229" y="105" width="1364" height="4" fill="#cdcdcd"/>
<rect x="229" y="109" width="1364" height="3" fill="#3a3a3a"/>
<rect x="229" y="105" width="7" height="1035" fill="#959595"/>
<rect x="1589" y="105" width="4" height="1035" fill="#5e5e5e"/>
<rect x="1586" y="112" width="3" height="1021" fill="#d0d0d0"/>
<rect x="229" y="1133" width="1364" height="3" fill="#c8c8c8"/>
<rect x="229" y="1136" width="1364" height="4" fill="#5a5a5a"/>
<rect x="564" y="112" width="4" height="12" fill="#555"/>
<rect x="564" y="1121" width="4" height="12" fill="#555"/>
<rect x="904" y="112" width="4" height="12" fill="#555"/>
<rect x="904" y="1121" width="4" height="12" fill="#555"/>
<rect x="1244" y="112" width="4" height="12" fill="#555"/>
<rect x="1244" y="1121" width="4" height="12" fill="#555"/>
<rect x="237" y="112" width="3" height="12" fill="#333"/>
<rect x="237" y="1122" width="3" height="11" fill="#333"/>
<rect x="236" y="367" width="12" height="4" fill="#555"/>
<rect x="1577" y="367" width="12" height="4" fill="#555"/>
<rect x="236" y="623" width="12" height="4" fill="#555"/>
<rect x="1577" y="623" width="12" height="4" fill="#555"/>
<rect x="236" y="880" width="12" height="4" fill="#555"/>
<rect x="1577" y="880" width="12" height="4" fill="#555"/>
<text x="909" y="76" font-family="'Liberation Serif', 'Times New Roman', serif" font-size="73" font-weight="bold" fill="#1e1e1e" text-anchor="middle" textLength="250" lengthAdjust="spacingAndGlyphs" stroke="#fff" stroke-width="1.2" >Z(dBZ)</text>
<text x="208" y="139" font-family="'Liberation Sans', Arial, sans-serif" font-size="70" font-weight="bold" fill="#1e1e1e" text-anchor="end" stroke="#fff" stroke-width="1.6" >6</text>
<text x="208" y="400" font-family="'Liberation Sans', Arial, sans-serif" font-size="70" font-weight="bold" fill="#1e1e1e" text-anchor="end" stroke="#fff" stroke-width="1.6" >4.5</text>
<text x="208" y="656" font-family="'Liberation Sans', Arial, sans-serif" font-size="70" font-weight="bold" fill="#1e1e1e" text-anchor="end" stroke="#fff" stroke-width="1.6" >3</text>
<text x="208" y="912" font-family="'Liberation Sans', Arial, sans-serif" font-size="70" font-weight="bold" fill="#1e1e1e" text-anchor="end" stroke="#fff" stroke-width="1.6" >1.5</text>
<text x="235" y="1236" font-family="'Liberation Sans', Arial, sans-serif" font-size="70" font-weight="bold" fill="#1e1e1e" text-anchor="middle" textLength="138" lengthAdjust="spacingAndGlyphs" stroke="#fff" stroke-width="1.6" >5:00</text>
<text x="565" y="1236" font-family="'Liberation Sans', Arial, sans-serif" font-size="70" font-weight="bold" fill="#1e1e1e" text-anchor="middle" textLength="138" lengthAdjust="spacingAndGlyphs" stroke="#fff" stroke-width="1.6" >5:30</text>
<text x="905" y="1236" font-family="'Liberation Sans', Arial, sans-serif" font-size="70" font-weight="bold" fill="#1e1e1e" text-anchor="middle" textLength="138" lengthAdjust="spacingAndGlyphs" stroke="#fff" stroke-width="1.6" >6:00</text>
<text x="1244" y="1236" font-family="'Liberation Sans', Arial, sans-serif" font-size="70" font-weight="bold" fill="#1e1e1e" text-anchor="middle" textLength="138" lengthAdjust="spacingAndGlyphs" stroke="#fff" stroke-width="1.6" >6:30</text>
<text x="1580" y="1236" font-family="'Liberation Sans', Arial, sans-serif" font-size="70" font-weight="bold" fill="#1e1e1e" text-anchor="middle" textLength="138" lengthAdjust="spacingAndGlyphs" stroke="#fff" stroke-width="1.6" >7:00</text>
<text x="905" y="1325" font-family="'Liberation Serif', 'Times New Roman', serif" font-size="72" font-weight="bold" fill="#1e1e1e" text-anchor="middle" textLength="460" lengthAdjust="spacingAndGlyphs" stroke="#fff" stroke-width="1.2" >Time(UTC+8)</text>
<g transform="translate(79,626) rotate(-90)">
<text x="0" y="0" font-family="'Liberation Serif', 'Times New Roman', serif" font-size="74" font-weight="bold" fill="#1e1e1e" text-anchor="middle" textLength="388" lengthAdjust="spacingAndGlyphs" stroke="#fff" stroke-width="1.2" >Height (km)</text>
</g>
<text x="303" y="992" font-family="'Liberation Serif', 'Times New Roman', serif" font-size="116" font-weight="normal" fill="#1e1e1e" text-anchor="start" textLength="124" lengthAdjust="spacingAndGlyphs" stroke="#fff" stroke-width="1.8" >(a)</text>
<defs><linearGradient id="cba" x1="0" y1="0" x2="0" y2="1"><stop offset="0.0000" stop-color="#800000"/><stop offset="0.0312" stop-color="#9f0000"/><stop offset="0.0625" stop-color="#bf0000"/><stop offset="0.0938" stop-color="#df0000"/><stop offset="0.1250" stop-color="#ff0000"/><stop offset="0.1562" stop-color="#ff2000"/><stop offset="0.1875" stop-color="#ff4000"/><stop offset="0.2188" stop-color="#ff6000"/><stop offset="0.2500" stop-color="#ff8000"/><stop offset="0.2812" stop-color="#ff9f00"/><stop offset="0.3125" stop-color="#ffbf00"/><stop offset="0.3438" stop-color="#ffdf00"/><stop offset="0.3750" stop-color="#ffff00"/><stop offset="0.4062" stop-color="#dfff20"/><stop offset="0.4375" stop-color="#bfff40"/><stop offset="0.4688" stop-color="#9fff60"/><stop offset="0.5000" stop-color="#80ff80"/><stop offset="0.5312" stop-color="#60ff9f"/><stop offset="0.5625" stop-color="#40ffbf"/><stop offset="0.5938" stop-color="#20ffdf"/><stop offset="0.6250" stop-color="#00ffff"/><stop offset="0.6562" stop-color="#00dfff"/><stop offset="0.6875" stop-color="#00bfff"/><stop offset="0.7188" stop-color="#009fff"/><stop offset="0.7500" stop-color="#0080ff"/><stop offset="0.7812" stop-color="#0060ff"/><stop offset="0.8125" stop-color="#0040ff"/><stop offset="0.8438" stop-color="#0020ff"/><stop offset="0.8750" stop-color="#0000ff"/><stop offset="0.9062" stop-color="#0000df"/><stop offset="0.9375" stop-color="#0000bf"/><stop offset="0.9688" stop-color="#00009f"/><stop offset="1.0000" stop-color="#000080"/></linearGradient></defs>
<rect x="1694" y="110" width="72" height="1027" fill="url(#cba)"/>
<rect x="1694" y="109" width="72" height="1029" fill="none" stroke="#2a2a2a" stroke-width="4"/>
<rect x="1689" y="107" width="3" height="1033" fill="#9a9a9a"/>
<rect x="1692" y="104" width="76" height="3" fill="#b0b0b0"/>
<rect x="1754" y="365" width="10" height="4" fill="#333"/>
<rect x="1754" y="621" width="10" height="4" fill="#333"/>
<rect x="1754" y="878" width="10" height="4" fill="#333"/>
<text x="1787" y="136" font-family="'Liberation Sans', Arial, sans-serif" font-size="70" font-weight="bold" fill="#1e1e1e" text-anchor="start" textLength="70" lengthAdjust="spacingAndGlyphs" stroke="#fff" stroke-width="1.6" >10</text>
<text x="1786" y="393" font-family="'Liberation Sans', Arial, sans-serif" font-size="68" font-weight="bold" fill="#1e1e1e" text-anchor="start" stroke="#fff" stroke-width="1.6" >0</text>
<rect x="1789" y="628.5" width="31" height="3.5" fill="#222"/>
<text x="1838" y="647" font-family="'Liberation Sans', Arial, sans-serif" font-size="70" font-weight="bold" fill="#1e1e1e" text-anchor="start" textLength="71" lengthAdjust="spacingAndGlyphs" stroke="#fff" stroke-width="1.6" >10</text>
<rect x="1789" y="885.5" width="31" height="3.5" fill="#222"/>
<text x="1838" y="904" font-family="'Liberation Sans', Arial, sans-serif" font-size="70" font-weight="bold" fill="#1e1e1e" text-anchor="start" textLength="71" lengthAdjust="spacingAndGlyphs" stroke="#fff" stroke-width="1.6" >20</text>
<rect x="1789" y="1143.5" width="31" height="3.5" fill="#222"/>
<text x="1838" y="1162" font-family="'Liberation Sans', Arial, sans-serif" font-size="70" font-weight="bold" fill="#1e1e1e" text-anchor="start" textLength="71" lengthAdjust="spacingAndGlyphs" stroke="#fff" stroke-width="1.6" >30</text>
<path fill="#0000a0" shape-rendering="crispEdges" d="M237 1977h11.7v4h-11.7zM248.9 1581h11.3v4h-11.3zM248.9 1601h11.3v4h-11.3zM272.4 1581h8.6v4h-8.6zM273.1 2001h7.8v8h-7.8zM281 2469h11v7h-11zM317 2213h12v11h-12zM317 2432h12v8h-12zM317.1 2009h11.7v4h-11.7zM328.8 1966h12.3v4h-12.3zM341.1 1974h11.8v4h-11.8zM365 2233h11v11h-11zM365 2417h11v7h-11zM376 2469h9v7h-9zM408.9 2010h12v4h-12zM432.4 2001h12.3v8h-12.3zM476.4 1577h12.1v4h-12.1zM489 2413h25v3h-25zM489.2 2012h11.7v4h-11.7zM514 2469h11v7h-11zM525.1 2020h12v8h-12zM549.2 2016h7.8v4h-7.8zM556 2380h13v8h-13zM581 2361h11v3h-11zM592 2441h13v3h-13zM592 2449h13v11h-13zM593.1 1921h11.7v4h-11.7zM604.8 1905h12.2v4h-12.2zM604.8 1913h12.2v4h-12.2zM604.8 1949h12.2v3h-12.2zM641 1878h11.7v4h-11.7zM641 2012h11.7v16h-11.7zM641 2032h11.7v4h-11.7zM641 2357h12v3h-12zM653 2441h8v7h-8zM661 2272h12v8h-12zM673 2380h12v8h-12zM673 2404h12v4h-12zM684 2453h13v7h-13zM697 2460h12v3h-12zM753 2397h12v7h-12zM753 2441h12v3h-12zM764 2264h12v8h-12zM764.9 1580h12.1v8h-12.1zM776 2429h13v3h-13zM788.7 1577h12v3h-12zM788.7 1960h12.2v1h-12.2zM789 2393h12v11h-12zM789 2460h12v3h-12zM812 2424h13v3h-13zM813 1625h12.1v4h-12.1zM848.7 1605h8.4v4h-8.4zM868.8 1549h12v4h-12zM880.8 1633h12v3h-12zM881 2444h12v4h-12zM917.1 1586h11.7v4h-11.7zM917.1 1594h11.7v4h-11.7zM928.9 1592h8.2v4h-8.2zM928.9 1684h8.2v4h-8.2zM937 2461h11v4h-11zM948.8 1618h12.3v4h-12.3zM948.8 1626h12.3v12h-12.3zM972 2372h13v4h-13zM972.9 1541h12.3v4h-12.3zM972.9 1672h12.3v4h-12.3zM985.2 1597h12.1v4h-12.1zM1028 2393h16v11h-16zM1028.6 1580h16v4h-16zM1028.6 1588h16v4h-16zM1028.6 1604h16v4h-16zM1028.6 1616h16v4h-16zM1053 1586h11.7v3h-11.7zM1053 2461h12v4h-12zM1064.7 1613h12.3v4h-12.3zM1065 2461h11v7h-11zM1077 1533h11.7v4h-11.7zM1088.7 1545h12.1v8h-12.1zM1100.8 1545h12.2v4h-12.2zM1100.8 1582h12.2v4h-12.2zM1113 1578h11.7v4h-11.7zM1133.1 1584h11.7v4h-11.7zM1133.1 1596h11.7v4h-11.7zM1157 2393h11v11h-11zM1157.1 1537h7.9v4h-7.9zM1160 1545h8.8v4h-8.8zM1168 2445h12v7h-12zM1181.1 1533h11.7v8h-11.7zM1213 2428h11v4h-11zM1213 2461h11v7h-11zM1237 2449h11v3h-11zM1237 2465h11v11h-11zM1248 2465h13v3h-13zM1248.9 1597h12.1v4h-12.1zM1248.9 1617h12.1v4h-12.1zM1261 1638h12v4h-12zM1261 2428h11v12h-11zM1261 2445h11v4h-11zM1261 2461h11v4h-11zM1273 2468h23v8h-23zM1285 2060h11v9h-11zM1285.1 1605h11.7v8h-11.7zM1285.1 1641h11.7v7h-11.7zM1285.1 2021h11.9v8h-11.9zM1296.8 1609h12.1v4h-12.1zM1296.8 1637h12.1v8h-12.1zM1308.9 1556h12.3v4h-12.3zM1308.9 1576h12.3v4h-12.3zM1309 1961h8v4h-8zM1310 2353h11v7h-11zM1310 2396h11v8h-11zM1310 2452h11v7h-11zM1329 1553h11.7v8h-11.7zM1329 1565h11.7v8h-11.7zM1329 2461h12v7h-12zM1341 2377h12v3h-12zM1353 2261h12v8h-12zM1353 2417h12v7h-12zM1353 2461h12v7h-12zM1365 2337h11v3h-11zM1365 2433h11v11h-11zM1365 2452h11v7h-11zM1376 2361h12v3h-12zM1377 1957h11.8v1h-11.8zM1388 2465h12v3h-12zM1400.9 1545h7.8v4h-7.8zM1400.9 1621h7.8v16h-7.8zM1400.9 1641h7.8v8h-7.8zM1408.7 1557h12.1v8h-12.1zM1408.7 1581h12.1v4h-12.1zM1433 2445h23v4h-23zM1444 2441h37v3h-37zM1444.8 1577h12.3v4h-12.3zM1457 2261h11v3h-11zM1457.1 1585h12v4h-12zM1468 2364h13v12h-13zM1469.1 1568h11.9v4h-11.9zM1469.1 1580h11.9v8h-11.9zM1481 1521h11.7v4h-11.7zM1481 2461h11v4h-11zM1492.7 1574h7.8v12h-7.8zM1493 2225h8v7h-8zM1493 2289h8v4h-8zM1501 2433h15v11h-15zM1516 2364h8v8h-8zM1516 2425h8v7h-8zM1517.1 1525h7.8v8h-7.8zM1517.1 1584h7.8v13h-7.8zM1524.9 1525h12.1v4h-12.1zM1525.1 2001h11.9v8h-11.9zM1537 2417h24v9h-24zM1549.5 1961h12v4h-12zM1549.5 1977h12v1h-12zM1561 2409h12v3h-12zM1561.1 1576h11.7v16h-11.7zM1561.1 1604h11.7v4h-11.7zM1572.8 1521h12.2v4h-12.2zM1572.8 1608h12.2v4h-12.2zM1573 2404h12v4h-12zM1585 1564h12.2v4h-12.2zM1585 2425h11v7h-11zM1604 2425h11v7h-11zM1605 1498h10v4h-10z"/>
<path fill="#000080" shape-rendering="crispEdges" d="M237 1940h11.7v4h-11.7zM237 1973h11.7v4h-11.7zM237 1989h11.7v4h-11.7zM248.9 1585h11.3v8h-11.3zM260.2 1609h12.2v11h-12.2zM261 1944h12.1v8h-12.1zM272.4 1613h8.6v7h-8.6zM273.1 1981h7.8v12h-7.8zM280.9 2001h11.8v4h-11.8zM292.7 1989h12.1v8h-12.1zM317.1 2001h11.7v8h-11.7zM328.8 1978h12.3v4h-12.3zM328.8 1986h12.3v16h-12.3zM341.1 1941h11.8v3h-11.8zM341.1 1962h11.8v12h-11.8zM352.9 1970h12.1v12h-12.1zM352.9 1990h12.1v4h-12.1zM352.9 2002h12.1v4h-12.1zM365 1981h11.7v12h-11.7zM376.7 2009h8.2v7h-8.2zM384.9 1997h11.7v8h-11.7zM384.9 2017h11.7v3h-11.7zM396.6 1985h12.3v4h-12.3zM408.9 1982h12v8h-12zM408.9 2006h12v4h-12zM420.9 1962h11.5v16h-11.5zM420.9 1982h11.5v4h-11.5zM420.9 2014h11.5v6h-11.5zM432.4 1981h12.3v4h-12.3zM432.4 1997h12.3v4h-12.3zM432.4 2017h12.3v3h-12.3zM444.7 1973h12.1v28h-12.1zM444.7 2017h12.1v3h-12.1zM456.8 1901h7.8v24h-7.8zM456.8 1973h7.8v16h-7.8zM456.8 2013h7.8v7h-7.8zM464.6 1888h11.4v8h-11.4zM464.6 1920h11.4v8h-11.4zM464.6 1977h11.4v4h-11.4zM464.6 2009h11.4v8h-11.4zM476.4 1581h12.1v6h-12.1zM476.9 1989h12.3v8h-12.3zM476.9 2009h12.3v4h-12.3zM489.2 1854h11.7v4h-11.7zM489.2 1874h11.7v12h-11.7zM489.2 1890h11.7v4h-11.7zM489.2 1910h11.7v8h-11.7zM489.2 1922h11.7v4h-11.7zM513 2020h12.1v8h-12.1zM513 2063h12.1v4h-12.1zM549.2 1909h7.8v8h-7.8zM549.2 1921h7.8v8h-7.8zM549.2 1933h7.8v4h-7.8zM549.2 2012h7.8v4h-7.8zM557 1905h11.7v4h-11.7zM557 1929h11.7v4h-11.7zM557 1937h11.7v4h-11.7zM593.1 1893h11.7v16h-11.7zM593.1 1937h11.7v4h-11.7zM593.1 1973h11.7v20h-11.7zM604.8 1921h12.2v28h-12.2zM604.8 1981h12.2v12h-12.2zM617 1901h11.7v51h-11.7zM617 1993h11.7v16h-11.7zM628.7 1917h12.3v8h-12.3zM628.7 1933h12.3v8h-12.3zM628.7 1949h12.3v3h-12.3zM628.7 1997h12.3v12h-12.3zM641 1894h11.7v23h-11.7zM652.7 1902h8.4v7h-8.4zM661.1 1874h11.8v4h-11.8zM661.1 1890h11.8v4h-11.8zM661.1 1906h11.8v3h-11.8zM661.1 2020h11.8v4h-11.8zM661.1 2032h11.8v27h-11.8zM661.1 2075h11.8v4h-11.8zM672.9 1885h12.1v4h-12.1zM672.9 1913h12.1v4h-12.1zM672.9 1921h12.1v7h-12.1zM685 1905h12v8h-12zM685 1917h12v11h-12zM685 2040h12v4h-12zM685 2052h12v3h-12zM696.8 1561h11.8v4h-11.8zM697 1909h11.8v12h-11.8zM697 1977h11.8v3h-11.8zM708.8 1909h12v4h-12zM720.8 1917h12.2v12h-12.2zM733 1582h8.2v3h-8.2zM733 1925h7.8v14h-7.8zM740.8 1921h12v4h-12zM740.8 1929h12v4h-12zM741.2 1578h11.8v4h-11.8zM777 1545h11.7v3h-11.7zM788.7 1597h12v3h-12zM812.9 1968h12v4h-12zM813 1541h12.1v7h-12.1zM825.1 1609h11.9v4h-11.9zM837 1557h11.7v9h-11.7zM837 1601h11.7v4h-11.7zM837.1 1965h11.8v8h-11.8zM837.1 1977h11.8v4h-11.8zM848.7 1613h8.4v12h-8.4zM848.7 1629h8.4v24h-8.4zM848.7 1657h8.4v4h-8.4zM848.7 1665h8.4v8h-8.4zM848.9 1976h8v12h-8zM857.1 1597h11.7v20h-11.7zM868.8 1593h12v4h-12zM868.8 1617h12v4h-12zM880.8 1589h12v4h-12zM880.8 1601h12v8h-12zM892.8 1597h12.2v8h-12.2zM892.8 1609h12.2v4h-12.2zM905 1594h12.1v8h-12.1zM905 1634h12.1v8h-12.1zM905 1650h12.1v12h-12.1zM905 1674h12.1v1h-12.1zM928.9 1612h8.2v4h-8.2zM928.9 1664h8.2v12h-8.2zM948.8 1610h12.3v4h-12.3zM948.8 1650h12.3v2h-12.3zM961.1 1585h11.8v16h-11.8zM961.1 1681h11.8v6h-11.8zM972.9 1609h12.3v8h-12.3zM972.9 1668h12.3v4h-12.3zM972.9 1676h12.3v4h-12.3zM985.2 1537h12.1v4h-12.1zM985.2 1633h12.1v7h-12.1zM997.3 1597h11.7v8h-11.7zM997.3 1609h11.7v4h-11.7zM1009 1585h11.7v4h-11.7zM1009 1597h11.7v4h-11.7zM1020.7 1606h7.9v8h-7.9zM1028.6 1600h16v4h-16zM1044.6 1533h8.4v8h-8.4zM1044.6 1590h8.4v16h-8.4zM1044.6 1610h8.4v4h-8.4zM1044.6 1630h8.4v2h-8.4zM1053 1529h11.7v4h-11.7zM1053 1629h11.7v12h-11.7zM1053 1645h11.7v4h-11.7zM1064.7 1537h12.3v28h-12.3zM1064.7 1589h12.3v8h-12.3zM1064.7 1621h12.3v4h-12.3zM1064.7 1633h12.3v20h-12.3zM1088.7 1537h12.1v8h-12.1zM1088.7 1557h12.1v4h-12.1zM1088.7 1570h12.1v12h-12.1zM1100.8 1566h12.2v4h-12.2zM1100.8 1590h12.2v28h-12.2zM1112.9 1952h12.1v8h-12.1zM1124.7 1525h8.4v8h-8.4zM1124.7 1582h8.4v36h-8.4zM1124.7 1622h8.4v10h-8.4zM1133.1 1568h11.7v4h-11.7zM1133.1 1604h11.7v4h-11.7zM1133.1 1616h11.7v5h-11.7zM1144.8 1578h12.3v12h-12.3zM1157.1 1529h7.9v8h-7.9zM1157.1 1573h7.9v8h-7.9zM1160 1569h8.8v16h-8.8zM1168.8 1585h12.3v12h-12.3zM1168.8 1617h12.3v4h-12.3zM1168.8 1625h12.3v7h-12.3zM1181.1 1561h11.7v8h-11.7zM1181.1 1573h11.7v8h-11.7zM1181.1 1625h11.7v4h-11.7zM1192.8 1561h12.2v8h-12.2zM1205 1541h7.8v16h-7.8zM1205 1569h7.8v8h-7.8zM1205 1597h7.8v28h-7.8zM1212.8 1584h12.1v8h-12.1zM1212.8 1596h12.1v17h-12.1zM1212.8 1640h12.1v8h-12.1zM1224.9 1549h12.3v19h-12.3zM1236.7 1965h12.1v8h-12.1zM1237.2 1553h11.7v16h-11.7zM1237.2 1585h11.7v8h-11.7zM1237.2 1640h11.7v24h-11.7zM1248.9 1541h12.1v4h-12.1zM1248.9 1561h12.1v12h-12.1zM1248.9 1613h12.1v4h-12.1zM1248.9 1645h12.1v4h-12.1zM1261 1552h12v4h-12zM1261 1594h12v12h-12zM1273 1533h12.1v4h-12.1zM1273 1556h12.1v4h-12.1zM1273 1572h12.1v4h-12.1zM1273 1580h12.1v4h-12.1zM1273 1592h12.1v12h-12.1zM1285.1 1545h11.7v20h-11.7zM1285.1 1573h11.7v4h-11.7zM1285.1 1589h11.7v8h-11.7zM1296.8 1537h12.1v8h-12.1zM1296.8 1565h12.1v36h-12.1zM1296.8 1649h12.1v7h-12.1zM1308.9 1600h12.3v1h-12.3zM1309 1957h8v4h-8zM1321.2 1525h7.8v40h-7.8zM1328 1958h12v7h-12zM1329 1517h11.7v24h-11.7zM1329 1613h11.7v4h-11.7zM1352.7 1949h12.5v12h-12.5zM1353.1 1586h11.7v4h-11.7zM1376.9 1533h12.1v4h-12.1zM1376.9 1649h12.1v4h-12.1zM1389 1521h11v4h-11zM1389 1582h11v8h-11zM1389 1602h11v11h-11zM1400.9 1557h7.8v8h-7.8zM1400.9 1581h7.8v8h-7.8zM1408.7 1513h12.1v40h-12.1zM1408.7 1609h12.1v4h-12.1zM1409.4 1962h11.8v3h-11.8zM1420.8 1525h12.3v12h-12.3zM1420.8 1553h12.3v8h-12.3zM1433.1 1561h11.7v8h-11.7zM1444.8 1525h12.3v4h-12.3zM1444.8 1553h12.3v4h-12.3zM1444.8 1581h12.3v4h-12.3zM1444.8 1617h12.3v4h-12.3zM1457.1 1525h12v8h-12zM1457.1 1561h12v4h-12zM1457.1 1593h12v4h-12zM1457.1 1601h12v4h-12zM1469.1 1560h11.9v4h-11.9zM1469.1 1604h11.9v1h-11.9zM1469.2 1953h11.7v8h-11.7zM1481 1533h11.7v4h-11.7zM1481 1600h11.7v13h-11.7zM1492.7 1513h7.8v4h-7.8zM1492.7 1521h7.8v4h-7.8zM1492.7 1570h7.8v4h-7.8zM1492.7 1586h7.8v2h-7.8zM1517.1 1533h7.8v4h-7.8zM1517.1 1572h7.8v4h-7.8zM1524.9 1580h12.1v8h-12.1zM1537 1509h12v4h-12zM1537 1533h12v6h-12zM1537 1560h12v32h-12zM1537 1965h12.5v8h-12.5zM1549 1509h12.1v28h-12.1zM1549 1580h12.1v4h-12.1zM1549.5 1957h12v4h-12zM1549.5 1965h12v4h-12zM1549.5 1973h12v4h-12zM1561.1 1501h11.7v16h-11.7zM1561.1 1564h11.7v4h-11.7zM1572.8 1564h12.2v16h-12.2zM1572.8 1600h12.2v4h-12.2zM1573.3 1977h12.1v4h-12.1zM1585 1530h12.2v10h-12.2zM1585 1576h12.2v8h-12.2zM1585 1604h12.2v1h-12.2zM1585 1668h12.2v4h-12.2zM1597.2 1494h7.8v20h-7.8zM1597.2 1534h7.8v4h-7.8zM1597.2 1578h7.8v4h-7.8zM1597.2 1617h7.8v4h-7.8zM1597.2 1640h7.8v16h-7.8zM1605 1502h10v7h-10zM1605 1565h10v8h-10zM1605 1581h10v7h-10z"/>
<path fill="#000090" shape-rendering="crispEdges" d="M237 1981h11.7v8h-11.7zM248.7 1936h12.3v8h-12.3zM248.9 1593h11.3v8h-11.3zM248.9 1605h11.3v15h-11.3zM260.2 1585h12.2v24h-12.2zM260.2 1638h12.2v10h-12.2zM261 1940h12.1v4h-12.1zM272.4 1585h8.6v28h-8.6zM273.1 1940h7.8v12h-7.8zM273.1 1993h7.8v8h-7.8zM280.9 1981h11.8v20h-11.8zM280.9 2005h11.8v4h-11.8zM292.7 1997h12.1v15h-12.1zM317.1 1989h11.7v12h-11.7zM317.1 2013h11.7v3h-11.7zM328.8 1970h12.3v8h-12.3zM328.8 1982h12.3v4h-12.3zM328.8 2002h12.3v7h-12.3zM341.1 1978h11.8v19h-11.8zM352.9 1966h12.1v4h-12.1zM352.9 1982h12.1v8h-12.1zM352.9 1994h12.1v8h-12.1zM352.9 2006h12.1v3h-12.1zM365 1993h11.7v16h-11.7zM376.7 1993h8.2v16h-8.2zM384.9 2005h11.7v12h-11.7zM396.6 1977h12.3v8h-12.3zM396.6 1989h12.3v31h-12.3zM408.9 1962h12v20h-12zM408.9 1990h12v16h-12zM408.9 2014h12v6h-12zM420.9 1978h11.5v4h-11.5zM420.9 1986h11.5v28h-11.5zM432.4 1973h12.3v8h-12.3zM432.4 1985h12.3v12h-12.3zM432.4 2009h12.3v8h-12.3zM444.7 2001h12.1v16h-12.1zM456.8 1889h7.8v12h-7.8zM456.8 1989h7.8v24h-7.8zM464.6 1896h11.4v24h-11.4zM464.6 1981h11.4v28h-11.4zM464.6 2017h11.4v3h-11.4zM464.7 1585h11.7v51h-11.7zM476.4 1565h12.1v12h-12.1zM476.9 1997h12.3v12h-12.3zM476.9 2013h12.3v3h-12.3zM489.2 1850h11.7v4h-11.7zM489.2 1858h11.7v16h-11.7zM489.2 1886h11.7v4h-11.7zM489.2 1894h11.7v16h-11.7zM489.2 1918h11.7v4h-11.7zM489.2 1926h11.7v2h-11.7zM489.2 2008h11.7v4h-11.7zM489.2 2016h11.7v4h-11.7zM537.1 1905h12.1v4h-12.1zM549.2 1901h7.8v8h-7.8zM549.2 1917h7.8v4h-7.8zM549.2 1929h7.8v4h-7.8zM549.2 1937h7.8v3h-7.8zM557 1909h11.7v20h-11.7zM557 1933h11.7v4h-11.7zM557 1941h11.7v15h-11.7zM568.7 1989h12.3v8h-12.3zM581 1905h12.1v39h-12.1zM593.1 1909h11.7v12h-11.7zM593.1 1925h11.7v12h-11.7zM593.1 1941h11.7v11h-11.7zM604.8 1901h12.2v4h-12.2zM604.8 1909h12.2v4h-12.2zM604.8 1917h12.2v4h-12.2zM604.8 1973h12.2v8h-12.2zM604.8 1993h12.2v19h-12.2zM617 1893h11.7v8h-11.7zM617 2009h11.7v11h-11.7zM628.7 1925h12.3v8h-12.3zM628.7 1941h12.3v8h-12.3zM628.7 2009h12.3v23h-12.3zM641 1882h11.7v12h-11.7zM641 2028h11.7v4h-11.7zM641 2036h11.7v4h-11.7zM641 2071h11.7v14h-11.7zM652.7 1874h8.4v28h-8.4zM652.7 1917h8.4v11h-8.4zM661.1 1878h11.8v12h-11.8zM661.1 1894h11.8v12h-11.8zM661.1 1997h11.8v4h-11.8zM661.1 2024h11.8v8h-11.8zM661.1 2079h11.8v6h-11.8zM672.9 1889h12.1v24h-12.1zM672.9 1917h12.1v4h-12.1zM672.9 1928h12.1v4h-12.1zM672.9 2016h12.1v12h-12.1zM685 1901h12v4h-12zM685 1913h12v4h-12zM685 2036h12v4h-12zM685 2073h12v12h-12zM696.8 1557h11.8v4h-11.8zM696.8 1565h11.8v3h-11.8zM697 1893h11.8v16h-11.8zM708.8 1913h12v8h-12zM720.8 1929h12.2v4h-12.2zM720.9 1541h12.1v7h-12.1zM720.9 1582h12.1v3h-12.1zM733 1545h8.2v8h-8.2zM733 1921h7.8v4h-7.8zM740.8 1925h12v4h-12zM740.8 1933h12v12h-12zM752.8 1925h12v20h-12zM753 1537h11.9v11h-11.9zM753 1580h11.9v2h-11.9zM764.8 1929h11.7v16h-11.7zM776.5 1945h12.2v8h-12.2zM777 1537h11.7v8h-11.7zM788.7 1585h12v12h-12zM788.7 1956h12.2v4h-12.2zM800.7 1597h12.3v8h-12.3zM800.9 1956h12v9h-12zM812.9 1956h12v12h-12zM812.9 1972h12v5h-12zM813 1597h12.1v28h-12.1zM813 1629h12.1v3h-12.1zM825.1 1548h11.9v9h-11.9zM825.1 1605h11.9v4h-11.9zM825.1 1613h11.9v19h-11.9zM837.1 1973h11.8v4h-11.8zM848.7 1597h8.4v8h-8.4zM848.7 1609h8.4v4h-8.4zM848.7 1625h8.4v4h-8.4zM848.7 1653h8.4v4h-8.4zM848.7 1661h8.4v4h-8.4zM848.7 1673h8.4v11h-8.4zM848.9 1972h8v4h-8zM857.1 1545h11.7v12h-11.7zM868.8 1589h12v4h-12zM868.8 1597h12v20h-12zM868.8 1621h12v11h-12zM880.8 1593h12v8h-12zM880.8 1609h12v24h-12zM880.8 1668h12v7h-12zM892.8 1541h12.2v16h-12.2zM892.8 1605h12.2v4h-12.2zM892.8 1613h12.2v23h-12.2zM905 1586h12.1v8h-12.1zM905 1602h12.1v32h-12.1zM905 1642h12.1v8h-12.1zM905 1662h12.1v12h-12.1zM917.1 1590h11.7v4h-11.7zM917.1 1598h11.7v38h-11.7zM928.9 1588h8.2v4h-8.2zM928.9 1596h8.2v16h-8.2zM928.9 1616h8.2v48h-8.2zM928.9 1676h8.2v8h-8.2zM928.9 1688h8.2v4h-8.2zM937.1 1585h11.7v20h-11.7zM948.8 1582h12.3v28h-12.3zM948.8 1614h12.3v4h-12.3zM948.8 1622h12.3v4h-12.3zM948.8 1638h12.3v12h-12.3zM961.1 1601h11.8v80h-11.8zM972.9 1585h12.3v12h-12.3zM972.9 1601h12.3v8h-12.3zM972.9 1617h12.3v23h-12.3zM972.9 1680h12.3v4h-12.3zM985.2 1541h12.1v4h-12.1zM985.2 1585h12.1v12h-12.1zM985.2 1601h12.1v32h-12.1zM997.3 1585h11.7v12h-11.7zM997.3 1605h11.7v4h-11.7zM1009 1589h11.7v8h-11.7zM1009 1601h11.7v16h-11.7zM1020.7 1578h7.9v28h-7.9zM1020.7 1614h7.9v3h-7.9zM1028.6 1584h16v4h-16zM1028.6 1592h16v8h-16zM1028.6 1608h16v8h-16zM1028.6 1620h16v5h-16zM1044.6 1529h8.4v4h-8.4zM1044.6 1541h8.4v4h-8.4zM1044.6 1578h8.4v12h-8.4zM1044.6 1606h8.4v4h-8.4zM1044.6 1614h8.4v16h-8.4zM1053 1533h11.7v8h-11.7zM1053 1566h11.7v20h-11.7zM1053 1617h11.7v12h-11.7zM1053 1641h11.7v4h-11.7zM1053 1649h11.7v15h-11.7zM1064.7 1529h12.3v8h-12.3zM1064.7 1565h12.3v24h-12.3zM1064.7 1597h12.3v16h-12.3zM1064.7 1617h12.3v4h-12.3zM1064.7 1625h12.3v8h-12.3zM1064.7 1653h12.3v11h-12.3zM1077 1529h11.7v4h-11.7zM1077 1537h11.7v8h-11.7zM1077 1562h11.7v8h-11.7zM1088.7 1525h12.1v12h-12.1zM1088.7 1553h12.1v4h-12.1zM1088.7 1566h12.1v4h-12.1zM1088.7 1582h12.1v50h-12.1zM1100.8 1525h12.2v20h-12.2zM1100.8 1549h12.2v4h-12.2zM1100.8 1570h12.2v12h-12.2zM1100.8 1586h12.2v4h-12.2zM1100.8 1618h12.2v46h-12.2zM1113 1545h11.7v3h-11.7zM1124.7 1533h8.4v12h-8.4zM1124.7 1562h8.4v20h-8.4zM1124.7 1618h8.4v4h-8.4zM1133.1 1525h11.7v18h-11.7zM1133.1 1572h11.7v12h-11.7zM1133.1 1588h11.7v8h-11.7zM1133.1 1600h11.7v4h-11.7zM1133.1 1608h11.7v8h-11.7zM1144.8 1566h12.3v12h-12.3zM1144.8 1590h12.3v15h-12.3zM1156.9 1960h12.1v8h-12.1zM1157.1 1541h7.9v32h-7.9zM1157.1 1581h7.9v8h-7.9zM1160 1529h8.8v16h-8.8zM1160 1549h8.8v20h-8.8zM1160 1585h8.8v4h-8.8zM1168.8 1545h12.3v40h-12.3zM1168.8 1597h12.3v20h-12.3zM1168.8 1621h12.3v4h-12.3zM1169 1965h11.9v11h-11.9zM1181.1 1529h11.7v4h-11.7zM1181.1 1545h11.7v16h-11.7zM1181.1 1569h11.7v4h-11.7zM1181.1 1581h11.7v20h-11.7zM1181.1 1629h11.7v7h-11.7zM1192.8 1537h12.2v24h-12.2zM1192.8 1569h12.2v28h-12.2zM1193.4 1960h11.4v21h-11.4zM1204.8 2016h8.4v13h-8.4zM1205 1557h7.8v12h-7.8zM1205 1577h7.8v20h-7.8zM1205 1625h7.8v11h-7.8zM1205 1640h7.8v12h-7.8zM1212.8 1541h12.1v17h-12.1zM1212.8 1592h12.1v4h-12.1zM1212.8 1617h12.1v15h-12.1zM1212.8 1636h12.1v4h-12.1zM1212.8 1648h12.1v4h-12.1zM1213.2 1965h12.1v8h-12.1zM1224.9 1537h12.3v12h-12.3zM1225.3 1973h11.4v8h-11.4zM1237.2 1529h11.7v24h-11.7zM1237.2 1569h11.7v16h-11.7zM1237.2 1593h11.7v24h-11.7zM1237.2 1632h11.7v8h-11.7zM1248.9 1537h12.1v4h-12.1zM1248.9 1545h12.1v16h-12.1zM1248.9 1573h12.1v24h-12.1zM1248.9 1601h12.1v12h-12.1zM1248.9 1621h12.1v24h-12.1zM1248.9 1649h12.1v20h-12.1zM1261 1548h12v4h-12zM1261 1556h12v8h-12zM1261 1582h12v12h-12zM1261 1606h12v32h-12zM1261 1642h12v22h-12zM1273 1529h12.1v4h-12.1zM1273 1537h12.1v8h-12.1zM1273 1548h12.1v8h-12.1zM1273 1560h12.1v12h-12.1zM1273 1576h12.1v4h-12.1zM1273 1584h12.1v8h-12.1zM1273 1604h12.1v36h-12.1zM1273 1652h12.1v17h-12.1zM1285.1 1565h11.7v8h-11.7zM1285.1 1577h11.7v12h-11.7zM1285.1 1597h11.7v8h-11.7zM1285.1 1613h11.7v28h-11.7zM1285.1 1957h11.9v8h-11.9zM1296.8 1545h12.1v20h-12.1zM1296.8 1601h12.1v8h-12.1zM1296.8 1613h12.1v24h-12.1zM1296.8 1645h12.1v4h-12.1zM1308.9 1560h12.3v16h-12.3zM1308.9 1580h12.3v20h-12.3zM1317 1960h11v8h-11zM1321.2 1565h7.8v36h-7.8zM1328 1946h12v12h-12zM1329 1513h11.7v4h-11.7zM1329 1541h11.7v12h-11.7zM1329 1561h11.7v4h-11.7zM1329 1573h11.7v32h-11.7zM1340.9 1945h11.8v13h-11.8zM1352.7 1945h12.5v4h-12.5zM1353.1 1545h11.7v15h-11.7zM1353.1 1582h11.7v4h-11.7zM1353.1 1590h11.7v15h-11.7zM1364.8 1525h12.1v4h-12.1zM1365.2 1953h11.8v12h-11.8zM1376.9 1529h12.1v4h-12.1zM1376.9 1537h12.1v8h-12.1zM1377 1945h11.8v12h-11.8zM1388.8 1953h12.3v9h-12.3zM1389 1590h11v12h-11zM1400.9 1525h7.8v20h-7.8zM1400.9 1549h7.8v8h-7.8zM1400.9 1565h7.8v16h-7.8zM1400.9 1589h7.8v32h-7.8zM1400.9 1637h7.8v4h-7.8zM1400.9 1649h7.8v23h-7.8zM1401.1 2008h8.3v4h-8.3zM1408.7 1553h12.1v4h-12.1zM1408.7 1565h12.1v16h-12.1zM1408.7 1585h12.1v24h-12.1zM1409.4 1958h11.8v4h-11.8zM1420.8 1537h12.3v16h-12.3zM1420.8 1561h12.3v56h-12.3zM1433.1 1509h11.7v52h-11.7zM1433.1 1569h11.7v63h-11.7zM1444.8 1529h12.3v24h-12.3zM1444.8 1557h12.3v20h-12.3zM1444.8 1585h12.3v32h-12.3zM1444.8 1621h12.3v19h-12.3zM1457.1 1521h12v4h-12zM1457.1 1533h12v28h-12zM1457.1 1565h12v20h-12zM1457.1 1589h12v4h-12zM1457.1 1597h12v4h-12zM1457.3 1953h11.9v6h-11.9zM1469.1 1529h11.9v8h-11.9zM1469.1 1545h11.9v3h-11.9zM1469.1 1564h11.9v4h-11.9zM1469.1 1572h11.9v8h-11.9zM1469.1 1588h11.9v16h-11.9zM1469.2 1945h11.7v8h-11.7zM1481 1509h11.7v12h-11.7zM1481 1525h11.7v8h-11.7zM1481 1537h11.7v8h-11.7zM1481 1560h11.7v40h-11.7zM1492.7 1517h7.8v4h-7.8zM1492.7 1525h7.8v14h-7.8zM1492.7 1562h7.8v8h-7.8zM1492.8 1953h8v8h-8zM1500.8 1958h16.1v3h-16.1zM1517.1 1521h7.8v4h-7.8zM1517.1 1537h7.8v2h-7.8zM1517.1 1568h7.8v4h-7.8zM1517.1 1576h7.8v8h-7.8zM1524.9 1505h12.1v20h-12.1zM1537 1501h12v8h-12zM1537 1521h12v12h-12zM1537 1592h12v5h-12zM1549 1564h12.1v16h-12.1zM1549 1584h12.1v29h-12.1zM1549 1625h12.1v7h-12.1zM1549 1676h12.1v8h-12.1zM1549.5 1969h12v4h-12zM1561.1 1517h11.7v20h-11.7zM1561.1 1560h11.7v4h-11.7zM1561.1 1568h11.7v8h-11.7zM1561.1 1592h11.7v12h-11.7zM1561.1 1608h11.7v9h-11.7zM1561.5 1965h11.8v13h-11.8zM1572.8 1501h12.2v8h-12.2zM1572.8 1513h12.2v8h-12.2zM1572.8 1525h12.2v12h-12.2zM1572.8 1580h12.2v20h-12.2zM1572.8 1604h12.2v4h-12.2zM1572.8 1612h12.2v56h-12.2zM1573.3 1965h12.1v12h-12.1zM1585 1494h12.2v36h-12.2zM1585 1560h12.2v4h-12.2zM1585 1568h12.2v8h-12.2zM1585 1584h12.2v20h-12.2zM1597.2 1514h7.8v20h-7.8zM1597.2 1538h7.8v40h-7.8zM1597.2 1582h7.8v15h-7.8zM1597.2 1605h7.8v12h-7.8zM1597.2 1621h7.8v4h-7.8zM1597.2 1656h7.8v32h-7.8zM1605 1494h10v4h-10zM1605 1513h10v12h-10zM1605 1541h10v24h-10zM1605 1573h10v8h-10zM1605 1648h10v4h-10z"/>
<path fill="#0073ff" shape-rendering="crispEdges" d="M248.9 1620h11.3v4h-11.3zM261 2009h12.1v3h-12.1zM408.9 2028h12v4h-12zM549.2 2059h7.8v4h-7.8zM568.7 2032h12.3v4h-12.3zM593.1 1969h11.7v4h-11.7zM604.8 1958h12.2v4h-12.2zM628.7 2044h12.3v4h-12.3zM652.7 1944h8.4v8h-8.4zM652.7 2067h8.4v4h-8.4zM733 1565h8.2v7h-8.2zM777 1565h11.7v5h-11.7zM825.1 1561h11.9v3h-11.9zM848.7 1586h8.4v3h-8.4zM868.8 1586h12v3h-12zM1020.7 1545h7.9v4h-7.9zM1124.7 1545h8.4v4h-8.4zM1125 1982h8v4h-8zM1133 1969h12v4h-12zM1156.9 2020h12.1v1h-12.1zM1260.6 1977h12.6v4h-12.6zM1340.9 1965h11.8v8h-11.8zM1401.1 1969h8.3v4h-8.3zM1409.4 1965h11.8v4h-11.8zM1444.8 2004h12.5v4h-12.5zM1469.2 1965h11.7v3h-11.7zM1525.1 1970h11.9v3h-11.9z"/>
<path fill="#0022ff" shape-rendering="crispEdges" d="M248.9 1624h11.3v8h-11.3zM280.9 2016h11.8v4h-11.8zM304.8 2044h12.3v4h-12.3zM500.9 2028h12.1v4h-12.1zM557 1989h11.7v4h-11.7zM557 2005h11.7v7h-11.7zM568.7 2005h12.3v4h-12.3zM652.7 1940h8.4v4h-8.4zM652.7 2020h8.4v4h-8.4zM652.7 2032h8.4v4h-8.4zM652.7 2052h8.4v4h-8.4zM652.7 2071h8.4v4h-8.4zM672.9 2079h12.1v6h-12.1zM720.9 1556h12.1v1h-12.1zM800.9 1969h12v3h-12zM813 1556h12.1v1h-12.1zM813 1586h12.1v4h-12.1zM813 1594h12.1v3h-12.1zM825.1 1597h11.9v4h-11.9zM857.1 1589h11.7v4h-11.7zM880.8 1640h12v4h-12zM880.8 1652h12v4h-12zM880.8 1664h12v4h-12zM928.9 1553h8.2v1h-8.2zM985.2 1582h12.1v3h-12.1zM997.3 1582h11.7v3h-11.7zM1009 1582h11.7v3h-11.7zM1112.9 1960h12.1v4h-12.1zM1113 1566h11.7v4h-11.7zM1125 1960h8v4h-8zM1133 1957h12v4h-12zM1144.8 1553h12.3v4h-12.3zM1145 1961h11.9v4h-11.9zM1156.9 1997h12.1v3h-12.1zM1204.8 1969h8.4v4h-8.4zM1225.3 2021h11.4v11h-11.4zM1297 1960h12v12h-12zM1328 1965h12v4h-12zM1365.2 1969h11.8v4h-11.8zM1389 1545h11v4h-11zM1421.2 1958h11.8v4h-11.8zM1433 1962h11.8v3h-11.8zM1481 1545h11.7v8h-11.7zM1525.1 1962h11.9v4h-11.9zM1537 1543h12v2h-12zM1561.1 1545h11.7v4h-11.7zM1561.1 1553h11.7v4h-11.7z"/>
<path fill="#0033ff" shape-rendering="crispEdges" d="M248.9 1632h11.3v8h-11.3zM273.1 2009h7.8v3h-7.8zM341.1 1997h11.8v8h-11.8zM420.9 2020h11.5v4h-11.5zM525.1 2028h12v4h-12zM537.1 2028h12.1v4h-12.1zM557 1993h11.7v4h-11.7zM557 2001h11.7v4h-11.7zM568.7 2001h12.3v4h-12.3zM568.7 2028h12.3v4h-12.3zM581 2020h12.1v8h-12.1zM628.7 1952h12.3v4h-12.3zM641 2048h11.7v12h-11.7zM652.7 2024h8.4v4h-8.4zM672.9 2075h12.1v4h-12.1zM720.8 1933h12.2v6h-12.2zM753 1570h11.9v8h-11.9zM800.7 1589h12.3v8h-12.3zM800.9 1965h12v4h-12zM857.1 1593h11.7v4h-11.7zM928.9 1549h8.2v4h-8.2zM972.9 1684h12.3v4h-12.3zM1077 1549h11.7v8h-11.7zM1113 1570h11.7v8h-11.7zM1133 1961h12v4h-12zM1144.8 1549h12.3v4h-12.3zM1144.8 1562h12.3v4h-12.3zM1156.9 2013h12.1v3h-12.1zM1213.2 1977h12.1v4h-12.1zM1213.2 1985h12.1v3h-12.1zM1340.9 1962h11.8v3h-11.8zM1376.9 1545h12.1v8h-12.1zM1377 1958h11.8v7h-11.8zM1389 1553h11v3h-11zM1433 1958h11.8v4h-11.8zM1469.2 2000h11.7v8h-11.7zM1537 1539h12v4h-12zM1561.1 1557h11.7v3h-11.7zM1572.8 1541h12.2v4h-12.2z"/>
<path fill="#0094ff" shape-rendering="crispEdges" d="M237 2001h11.7v4h-11.7zM248.7 2005h12.3v4h-12.3zM260.2 1620h12.2v4h-12.2zM260.2 1628h12.2v4h-12.2zM261 2032h12.1v4h-12.1zM304.8 2016h12.3v4h-12.3zM328.8 2012h12.3v4h-12.3zM365 2016h11.7v4h-11.7zM376.7 2020h8.2v8h-8.2zM525.1 2032h12v4h-12zM672.9 2067h12.1v4h-12.1zM720.9 1557h12.1v5h-12.1zM777 1561h11.7v4h-11.7zM813 1582h12.1v4h-12.1zM917.1 1548h11.7v4h-11.7zM1028.6 1557h16v4h-16zM1028.6 1565h16v3h-16zM1077.1 1960h23.9v5h-23.9zM1124.7 1553h8.4v4h-8.4zM1376.9 1566h12.1v4h-12.1zM1421.2 1965h11.8v4h-11.8z"/>
<path fill="#00a4ff" shape-rendering="crispEdges" d="M260.2 1624h12.2v4h-12.2zM260.2 1632h12.2v6h-12.2zM292.7 2016h12.1v4h-12.1zM628.7 2048h12.3v4h-12.3zM641 1944h11.7v12h-11.7zM800.7 1557h12.3v4h-12.3zM917.1 1552h11.7v5h-11.7zM997.3 1545h11.7v3h-11.7zM1124.7 1557h8.4v4h-8.4zM1444.8 2008h12.5v1h-12.5zM1492.7 1546h7.8v4h-7.8zM1524.9 1539h12.1v8h-12.1zM1524.9 1551h12.1v9h-12.1z"/>
<path fill="#0002ff" shape-rendering="crispEdges" d="M280.9 2013h11.8v3h-11.8zM304.8 2009h12.3v4h-12.3zM365 2009h11.7v7h-11.7zM376.7 2016h8.2v4h-8.2zM384.9 2024h11.7v4h-11.7zM420.9 2024h11.5v8h-11.5zM456.8 1940h7.8v4h-7.8zM476.9 2020h12.3v4h-12.3zM568.7 2017h12.3v4h-12.3zM568.7 2025h12.3v3h-12.3zM617 2024h11.7v4h-11.7zM641 2067h11.7v4h-11.7zM652.7 1936h8.4v4h-8.4zM661.1 2059h11.8v8h-11.8zM672.9 2063h12.1v4h-12.1zM685 1936h12v2h-12zM697 1921h11.8v7h-11.8zM708.6 1561h12.3v4h-12.3zM753 1548h11.9v4h-11.9zM753 1556h11.9v2h-11.9zM777 1548h11.7v4h-11.7zM800.9 1972h12v8h-12zM813 1548h12.1v8h-12.1zM825.1 1601h11.9v4h-11.9zM880.8 1553h12v4h-12zM937.1 1541h11.7v4h-11.7zM937.1 1578h11.7v7h-11.7zM972.9 1652h12.3v8h-12.3zM972.9 1664h12.3v4h-12.3zM1020.7 1549h7.9v4h-7.9zM1088.7 1561h12.1v4h-12.1zM1112.9 1964h12.1v1h-12.1zM1144.8 1541h12.3v4h-12.3zM1156.9 1977h12.1v4h-12.1zM1169 2016h11.9v5h-11.9zM1212.8 1558h12.1v26h-12.1zM1213.2 1973h12.1v4h-12.1zM1213.2 2009h12.1v4h-12.1zM1213.2 2025h12.1v4h-12.1zM1248.8 1973h11.8v4h-11.8zM1273.2 1968h11.9v4h-11.9zM1297 1972h12v1h-12zM1317 1968h11v4h-11zM1340.9 1958h11.8v4h-11.8zM1352.7 1961h12.5v4h-12.5zM1409.4 2000h11.8v4h-11.8zM1492.7 1543h7.8v3h-7.8zM1492.7 1556h7.8v4h-7.8zM1516.9 1958h8.2v4h-8.2zM1516.9 1996h8.2v1h-8.2zM1524.9 1529h12.1v10h-12.1zM1524.9 1576h12.1v4h-12.1zM1573.3 1981h12.1v7h-12.1zM1585 1544h12.2v16h-12.2zM1585.4 1977h12v4h-12zM1605.7 1976h9.3v5h-9.3z"/>
<path fill="#0043ff" shape-rendering="crispEdges" d="M237 1993h11.7v8h-11.7zM341.1 2032h11.8v4h-11.8zM444.7 2020h12.1v8h-12.1zM464.6 2020h11.4v8h-11.4zM489.2 1845h11.7v5h-11.7zM489.2 2063h11.7v4h-11.7zM557 1997h11.7v4h-11.7zM581 2012h12.1v4h-12.1zM593.1 1952h11.7v6h-11.7zM628.7 2032h12.3v12h-12.3zM641 1936h11.7v8h-11.7zM641 2044h11.7v4h-11.7zM641 2063h11.7v4h-11.7zM652.7 1928h8.4v8h-8.4zM672.9 2055h12.1v8h-12.1zM685 1932h12v4h-12zM708.6 1565h12.3v3h-12.3zM733 1576h8.2v4h-8.2zM733 1943h7.8v2h-7.8zM741.2 1566h11.8v4h-11.8zM764.8 1953h11.7v3h-11.7zM837 1597h11.7v4h-11.7zM880.8 1586h12v3h-12zM880.8 1636h12v4h-12zM892.8 1557h12.2v4h-12.2zM917.1 1545h11.7v3h-11.7zM928.9 1541h8.2v8h-8.2zM961.1 1580h11.8v4h-11.8zM972.9 1688h12.3v4h-12.3zM985.2 1578h12.1v4h-12.1zM1020.7 1570h7.9v4h-7.9zM1053 1541h11.7v4h-11.7zM1077 1545h11.7v4h-11.7zM1077 1557h11.7v5h-11.7zM1100.8 1553h12.2v4h-12.2zM1100.8 1561h12.2v4h-12.2zM1113 1558h11.7v4h-11.7zM1144.8 1558h12.3v4h-12.3zM1156.9 1981h12.1v11h-12.1zM1213.2 1981h12.1v4h-12.1zM1365.2 1965h11.8v4h-11.8zM1401.1 1962h8.3v3h-8.3zM1492.7 1560h7.8v2h-7.8zM1524.9 1560h12.1v4h-12.1zM1549 1537h12.1v8h-12.1z"/>
<path fill="#0012ff" shape-rendering="crispEdges" d="M328.8 2009h12.3v3h-12.3zM384.9 2020h11.7v4h-11.7zM432.4 2024h12.3v4h-12.3zM456.8 1936h7.8v4h-7.8zM476.9 2024h12.3v4h-12.3zM568.7 2009h12.3v8h-12.3zM568.7 2021h12.3v4h-12.3zM581 2016h12.1v4h-12.1zM604.8 1956h12.2v2h-12.2zM604.8 2012h12.2v4h-12.2zM617 2020h11.7v4h-11.7zM641 2040h11.7v4h-11.7zM652.7 2056h8.4v3h-8.4zM708.8 1921h12v4h-12zM720.9 1548h12.1v8h-12.1zM741.2 1541h11.8v7h-11.8zM788.7 1961h12.2v4h-12.2zM800.9 1980h12v1h-12zM813 1590h12.1v4h-12.1zM880.8 1541h12v12h-12zM880.8 1644h12v8h-12zM880.8 1656h12v8h-12zM928.9 1583h8.2v5h-8.2zM937.1 1537h11.7v4h-11.7zM972.9 1578h12.3v7h-12.3zM997.3 1578h11.7v4h-11.7zM1009 1537h11.7v4h-11.7zM1009 1578h11.7v4h-11.7zM1088.7 1565h12.1v1h-12.1zM1101 1957h11.9v8h-11.9zM1125 1964h8v1h-8zM1144.8 1537h12.3v4h-12.3zM1144.8 1545h12.3v4h-12.3zM1144.8 1557h12.3v1h-12.3zM1156.9 1968h12.1v5h-12.1zM1204.8 1965h8.4v4h-8.4zM1204.8 1973h8.4v4h-8.4zM1273.2 1973h11.9v4h-11.9zM1328 1969h12v4h-12zM1376.9 1570h12.1v11h-12.1zM1377 1992h11.8v5h-11.8zM1389 1549h11v4h-11zM1401.1 1958h8.3v4h-8.3zM1409.4 2004h11.8v5h-11.8zM1421.2 1962h11.8v3h-11.8zM1481 1553h11.7v7h-11.7zM1492.7 1539h7.8v4h-7.8zM1516.9 1962h8.2v3h-8.2zM1516.9 1992h8.2v4h-8.2zM1517.1 1539h7.8v6h-7.8zM1517.1 1564h7.8v4h-7.8z"/>
<path fill="#47ffb8" shape-rendering="crispEdges" d="M341.1 2028h11.8v4h-11.8zM365 2028h11.7v4h-11.7zM513 2036h12.1v4h-12.1zM617 2044h11.7v4h-11.7zM685 1950h12v4h-12zM697 1954h11.8v4h-11.8zM708.8 1954h12v4h-12zM720.9 1562h12.1v4h-12.1zM985.2 1570h12.1v8h-12.1zM1297 1996h12v4h-12zM1309 1981h8v1h-8zM1457.3 1969h11.9v4h-11.9zM1469.2 1968h11.7v4h-11.7z"/>
<path fill="#06fff9" shape-rendering="crispEdges" d="M352.9 2032h12.1v4h-12.1zM489.2 2028h11.7v4h-11.7zM489.2 2055h11.7v8h-11.7zM537.1 2032h12.1v4h-12.1zM617 2040h11.7v4h-11.7zM661.1 1940h11.8v4h-11.8zM672.9 2071h12.1v4h-12.1zM697 1928h11.8v8h-11.8zM708.8 1925h12v4h-12zM720.9 1566h12.1v4h-12.1zM753 1558h11.9v4h-11.9zM753 1566h11.9v4h-11.9zM764.8 1956h11.7v5h-11.7zM788.7 1965h12.2v4h-12.2zM905 1582h12.1v4h-12.1zM937.1 1545h11.7v3h-11.7zM997.3 1570h11.7v4h-11.7zM1009 1545h11.7v5h-11.7zM1009 1570h11.7v8h-11.7zM1044.6 1545h8.4v4h-8.4zM1125 1986h8v4h-8zM1133.1 1547h11.7v3h-11.7zM1145 1990h11.9v4h-11.9zM1273.2 1981h11.9v7h-11.9zM1309 1973h8v4h-8zM1433 1965h11.8v8h-11.8zM1444.8 1969h12.5v4h-12.5zM1444.8 1997h12.5v3h-12.5zM1492.8 1965h8v3h-8zM1605.7 1981h9.3v7h-9.3z"/>
<path fill="#00e5ff" shape-rendering="crispEdges" d="M280.9 2044h11.8v4h-11.8zM317.1 2044h11.7v4h-11.7zM432.4 2032h12.3v4h-12.3zM456.8 2048h7.8v4h-7.8zM476.9 2059h12.3v4h-12.3zM581 2032h12.1v4h-12.1zM593.1 2028h11.7v4h-11.7zM604.8 2028h12.2v8h-12.2zM720.9 1570h12.1v4h-12.1zM741.2 1564h11.8v2h-11.8zM764.9 1565h12.1v5h-12.1zM880.8 1561h12v1h-12zM880.8 1582h12v4h-12zM1044.6 1549h8.4v8h-8.4zM1145 1982h11.9v8h-11.9zM1352.7 1968h12.5v5h-12.5zM1409.4 1997h11.8v3h-11.8zM1457.3 1997h11.9v3h-11.9zM1516.9 1988h8.2v4h-8.2zM1585.4 1981h12v7h-12z"/>
<path fill="#00d4ff" shape-rendering="crispEdges" d="M280.9 2020h11.8v8h-11.8zM444.7 2028h12.1v4h-12.1zM456.8 2020h7.8v4h-7.8zM557 2055h11.7v8h-11.7zM593.1 2052h11.7v11h-11.7zM628.7 2052h12.3v3h-12.3zM720.9 1574h12.1v4h-12.1zM928.9 1558h8.2v4h-8.2zM1020.7 1558h7.9v12h-7.9zM1044.6 1574h8.4v4h-8.4zM1125 1965h8v8h-8zM1480.9 1961h11.9v7h-11.9zM1500.8 1996h16.1v4h-16.1z"/>
<path fill="#0053ff" shape-rendering="crispEdges" d="M292.7 2012h12.1v4h-12.1zM432.4 2020h12.3v4h-12.3zM489.2 1841h11.7v4h-11.7zM489.2 2020h11.7v4h-11.7zM604.8 1952h12.2v4h-12.2zM604.8 2016h12.2v4h-12.2zM641 2060h11.7v3h-11.7zM685 1928h12v4h-12zM720.9 1578h12.1v4h-12.1zM733 1580h8.2v2h-8.2zM733 1939h7.8v4h-7.8zM741.2 1570h11.8v8h-11.8zM753 1578h11.9v2h-11.9zM764.9 1570h12.1v10h-12.1zM777 1552h11.7v4h-11.7zM837 1566h11.7v4h-11.7zM848.7 1589h8.4v8h-8.4zM892.8 1561h12.2v3h-12.2zM917.1 1541h11.7v4h-11.7zM917.1 1582h11.7v4h-11.7zM961.1 1584h11.8v1h-11.8zM1020.7 1574h7.9v4h-7.9zM1100.8 1557h12.2v4h-12.2zM1100.8 1565h12.2v1h-12.2zM1113 1554h11.7v4h-11.7zM1113 1562h11.7v4h-11.7zM1145 1957h11.9v4h-11.9zM1236.7 2016h12.1v12h-12.1zM1285.1 1969h11.9v4h-11.9zM1309 1965h8v8h-8zM1317 1972h11v1h-11zM1376.9 1553h12.1v1h-12.1zM1524.9 1564h12.1v12h-12.1zM1549.5 1978h12v10h-12zM1572.8 1537h12.2v4h-12.2z"/>
<path fill="#0000e1" shape-rendering="crispEdges" d="M248.7 1993h12.3v4h-12.3zM280.9 2009h11.8v4h-11.8zM641 1932h11.7v4h-11.7zM652.7 2036h8.4v8h-8.4zM661.1 1932h11.8v4h-11.8zM733 1553h8.2v4h-8.2zM1236.7 1973h12.1v4h-12.1zM1236.7 1981h12.1v4h-12.1zM1273.2 1960h11.9v4h-11.9zM1480.9 1953h11.9v4h-11.9z"/>
<path fill="#0063ff" shape-rendering="crispEdges" d="M432.4 2028h12.3v4h-12.3zM604.8 1962h12.2v11h-12.2zM604.8 2020h12.2v8h-12.2zM652.7 2063h8.4v4h-8.4zM733 1557h8.2v8h-8.2zM733 1572h8.2v4h-8.2zM800.7 1561h12.3v3h-12.3zM948.8 1578h12.3v4h-12.3zM1020.7 1541h7.9v4h-7.9zM1133 1965h12v4h-12zM1561.1 1549h11.7v4h-11.7z"/>
<path fill="#16ffe9" shape-rendering="crispEdges" d="M352.9 2016h12.1v16h-12.1zM420.9 2032h11.5v4h-11.5zM476.9 2028h12.3v4h-12.3zM476.9 2055h12.3v4h-12.3zM525.1 2063h12v4h-12zM537.1 2055h12.1v4h-12.1zM549.2 2020h7.8v8h-7.8zM593.1 2024h11.7v4h-11.7zM617 2036h11.7v4h-11.7zM661.1 1944h11.8v4h-11.8zM697 1936h11.8v2h-11.8zM708.8 1950h12v4h-12zM741.2 1548h11.8v8h-11.8zM741.2 1560h11.8v4h-11.8zM764.9 1557h12.1v8h-12.1zM788.7 1969h12.2v3h-12.2zM825.1 1589h11.9v4h-11.9zM905 1545h12.1v4h-12.1zM1125 1990h8v2h-8zM1133 1973h12v4h-12zM1133.1 1566h11.7v2h-11.7zM1145 1994h11.9v3h-11.9zM1444.8 1965h12.5v4h-12.5zM1572.8 1560h12.2v4h-12.2z"/>
<path fill="#26ffd9" shape-rendering="crispEdges" d="M384.9 2028h11.7v4h-11.7zM396.6 2032h12.3v4h-12.3zM513 2040h12.1v4h-12.1zM537.1 2059h12.1v4h-12.1zM549.2 2052h7.8v3h-7.8zM593.1 1958h11.7v7h-11.7zM593.1 2020h11.7v4h-11.7zM628.7 2059h12.3v4h-12.3zM661.1 1948h11.8v8h-11.8zM697 1938h11.8v4h-11.8zM708.8 1942h12v8h-12zM741.2 1556h11.8v4h-11.8zM825.1 1593h11.9v4h-11.9zM892.8 1591h12.2v6h-12.2zM905 1549h12.1v7h-12.1zM928.9 1554h8.2v4h-8.2zM948.8 1548h12.3v8h-12.3zM972.9 1556h12.3v6h-12.3zM1053 1562h11.7v4h-11.7zM1133.1 1543h11.7v4h-11.7zM1133.1 1562h11.7v4h-11.7zM1248.8 1986h11.8v2h-11.8zM1297 1973h12v4h-12zM1365.2 1977h11.8v4h-11.8zM1377 1988h11.8v4h-11.8zM1500.8 1961h16.1v7h-16.1zM1537 1973h12.5v4h-12.5zM1549 1560h12.1v4h-12.1zM1561.5 1986h11.8v2h-11.8z"/>
<path fill="#0000f1" shape-rendering="crispEdges" d="M304.8 2013h12.3v3h-12.3zM408.9 2020h12v8h-12zM476.9 2016h12.3v4h-12.3zM489.2 2024h11.7v4h-11.7zM513 2028h12.1v4h-12.1zM661.1 1936h11.8v4h-11.8zM753 1552h11.9v4h-11.9zM777 1556h11.7v1h-11.7zM972.9 1660h12.3v4h-12.3zM1009 1541h11.7v4h-11.7zM1020.7 1553h7.9v5h-7.9zM1053 1545h11.7v3h-11.7zM1213.2 2013h12.1v12h-12.1zM1236.7 2028h12.1v4h-12.1zM1285.1 1965h11.9v4h-11.9zM1352.7 1965h12.5v3h-12.5zM1444.8 1958h12.5v7h-12.5zM1561.1 1537h11.7v8h-11.7zM1585 1540h12.2v4h-12.2z"/>
<path fill="#00f5ff" shape-rendering="crispEdges" d="M273.1 2012h7.8v4h-7.8zM328.8 2028h12.3v8h-12.3zM341.1 2009h11.8v3h-11.8zM557 2016h11.7v4h-11.7zM697 1973h11.8v4h-11.8zM753 1562h11.9v4h-11.9zM800.7 1585h12.3v4h-12.3zM857.1 1586h11.7v3h-11.7zM880.8 1557h12v4h-12zM997.3 1574h11.7v4h-11.7zM1044.6 1557h8.4v1h-8.4zM1112.9 1977h12.1v4h-12.1zM1248.8 1977h11.8v5h-11.8zM1273.2 1977h11.9v4h-11.9zM1492.8 1961h8v4h-8zM1537 1977h12.5v1h-12.5z"/>
<path fill="#0084ff" shape-rendering="crispEdges" d="M365 2020h11.7v4h-11.7zM500.9 2032h12.1v4h-12.1zM513 2032h12.1v4h-12.1zM581 2028h12.1v4h-12.1zM617 2032h11.7v4h-11.7zM652.7 1952h8.4v4h-8.4zM733 1945h7.8v8h-7.8zM777 1557h11.7v4h-11.7zM825.1 1557h11.9v4h-11.9zM1028.6 1561h16v4h-16zM1124.7 1549h8.4v4h-8.4zM1401.1 1965h8.3v4h-8.3zM1409.4 1969h11.8v4h-11.8zM1421.2 1969h11.8v4h-11.8zM1469.2 1961h11.7v4h-11.7zM1525.1 1966h11.9v4h-11.9zM1549.5 1988h12v9h-12z"/>
<path fill="#0000d0" shape-rendering="crispEdges" d="M248.7 1997h12.3v4h-12.3zM641 1928h11.7v4h-11.7zM652.7 2028h8.4v4h-8.4zM661.1 1928h11.8v4h-11.8zM764.8 1945h11.7v8h-11.7zM777 1570h11.7v4h-11.7zM777 1578h11.7v4h-11.7zM1236.7 1977h12.1v4h-12.1zM1236.7 1985h12.1v3h-12.1zM1273.2 1964h11.9v4h-11.9zM1469.2 2008h11.7v3h-11.7zM1480.9 1957h11.9v4h-11.9zM1525.1 1997h11.9v4h-11.9z"/>
<path fill="#0000c0" shape-rendering="crispEdges" d="M672.9 1936h12.1v4h-12.1zM777 1574h11.7v4h-11.7zM868.8 1553h12v4h-12zM972.9 1537h12.3v4h-12.3zM1113 1582h11.7v3h-11.7zM1273.2 1972h11.9v1h-11.9z"/>
<path fill="#ffd500" shape-rendering="crispEdges" d="M273.1 2024h7.8v4h-7.8zM396.6 2036h12.3v4h-12.3zM513 2055h12.1v8h-12.1zM537.1 2052h12.1v3h-12.1zM672.9 1960h12.1v2h-12.1zM800.7 1564h12.3v4h-12.3zM825.1 1570h11.9v4h-11.9zM880.8 1562h12v4h-12zM1340.9 1977h11.8v4h-11.8zM1352.7 1977h12.5v4h-12.5zM1352.7 1985h12.5v3h-12.5zM1388.8 1988h12.3v4h-12.3zM1444.8 1992h12.5v4h-12.5zM1480.9 1988h11.9v4h-11.9zM1585.4 2000h12v4h-12z"/>
<path fill="#ffe500" shape-rendering="crispEdges" d="M237 2028h11.7v4h-11.7zM420.9 2036h11.5v8h-11.5zM549.2 2028h7.8v4h-7.8zM557 2020h11.7v4h-11.7zM685 1956h12v4h-12zM697 1962h11.8v8h-11.8zM800.7 1568h12.3v1h-12.3zM813 1564h12.1v4h-12.1zM892.8 1564h12.2v4h-12.2zM948.8 1570h12.3v4h-12.3zM1145 1973h11.9v4h-11.9zM1297 1981h12v1h-12zM1309 1982h8v6h-8zM1352.7 1973h12.5v4h-12.5zM1388.8 1972h12.3v1h-12.3zM1444.8 1973h12.5v4h-12.5zM1525.1 1996h11.9v1h-11.9z"/>
<path fill="#ff2200" shape-rendering="crispEdges" d="M537.1 2036h12.1v4h-12.1zM557 2036h11.7v4h-11.7zM800.7 1569h12.3v8h-12.3zM937.1 1548h11.7v4h-11.7zM937.1 1556h11.7v4h-11.7zM937.1 1564h11.7v2h-11.7zM1328 1977h12v8h-12zM1365.2 1989h11.8v3h-11.8zM1500.8 1992h16.1v4h-16.1zM1549 1548h12.1v8h-12.1zM1597.4 2008h8.3v1h-8.3z"/>
<path fill="#ff3300" shape-rendering="crispEdges" d="M557 2040h11.7v4h-11.7zM800.7 1577h12.3v4h-12.3zM813 1576h12.1v2h-12.1zM848.7 1578h8.4v4h-8.4zM857.1 1572h11.7v6h-11.7zM937.1 1552h11.7v4h-11.7zM937.1 1560h11.7v4h-11.7zM1365.2 1981h11.8v8h-11.8zM1401.1 1973h8.3v8h-8.3zM1457.3 1988h11.9v4h-11.9zM1585.4 1988h12v4h-12zM1597.4 2004h8.3v4h-8.3zM1605.7 1988h9.3v4h-9.3z"/>
<path fill="#f10000" shape-rendering="crispEdges" d="M280.9 2040h11.8v4h-11.8zM317.1 2028h11.7v4h-11.7zM432.4 2044h12.3v4h-12.3zM456.8 2036h7.8v4h-7.8zM464.6 2036h11.4v4h-11.4zM537.1 2040h12.1v4h-12.1zM617 2048h11.7v4h-11.7zM720.8 1953h12.2v3h-12.2zM800.7 1581h12.3v1h-12.3zM1388.8 1973h12.3v4h-12.3zM1480.9 1978h11.9v10h-11.9z"/>
<path fill="#f9ff06" shape-rendering="crispEdges" d="M396.6 2040h12.3v4h-12.3zM557 2024h11.7v4h-11.7zM697 1958h11.8v4h-11.8zM800.7 1582h12.3v3h-12.3zM848.7 1582h8.4v4h-8.4zM985.2 1560h12.1v2h-12.1zM1125 1977h8v4h-8zM1297 1990h12v2h-12zM1377 1965h11.8v8h-11.8zM1500.8 1968h16.1v4h-16.1zM1525.1 1973h11.9v5h-11.9zM1585.4 2004h12v5h-12z"/>
<path fill="#98ff67" shape-rendering="crispEdges" d="M317.1 2024h11.7v4h-11.7zM604.8 2036h12.2v4h-12.2zM697 1942h11.8v4h-11.8zM733 1961h7.8v4h-7.8zM813 1557h12.1v4h-12.1zM825.1 1564h11.9v6h-11.9zM837 1578h11.7v4h-11.7zM917.1 1557h11.7v7h-11.7zM937.1 1572h11.7v4h-11.7zM972.9 1570h12.3v8h-12.3zM985.2 1549h12.1v4h-12.1zM1133.1 1558h11.7v4h-11.7zM1285.1 1992h11.9v4h-11.9zM1340.9 1973h11.8v4h-11.8zM1572.8 1545h12.2v3h-12.2zM1605.7 2009h9.3v3h-9.3z"/>
<path fill="#88ff77" shape-rendering="crispEdges" d="M317.1 2020h11.7v4h-11.7zM328.8 2016h12.3v4h-12.3zM328.8 2024h12.3v4h-12.3zM384.9 2032h11.7v4h-11.7zM464.6 2032h11.4v4h-11.4zM557 2052h11.7v3h-11.7zM685 1946h12v4h-12zM813 1561h12.1v3h-12.1zM1145 1969h11.9v4h-11.9z"/>
<path fill="#ff1200" shape-rendering="crispEdges" d="M557 2032h11.7v4h-11.7zM568.7 2059h12.3v4h-12.3zM813 1568h12.1v4h-12.1zM917.1 1564h11.7v12h-11.7zM1328 1985h12v3h-12zM1340.9 1985h11.8v3h-11.8zM1516.9 1977h8.2v4h-8.2z"/>
<path fill="#ff4300" shape-rendering="crispEdges" d="M304.8 2040h12.3v4h-12.3zM341.1 2020h11.8v8h-11.8zM456.8 2040h7.8v4h-7.8zM813 1572h12.1v4h-12.1zM857.1 1568h11.7v4h-11.7zM857.1 1582h11.7v4h-11.7zM1409.4 1973h11.8v4h-11.8zM1597.4 2000h8.3v4h-8.3z"/>
<path fill="#d9ff26" shape-rendering="crispEdges" d="M273.1 2028h7.8v4h-7.8zM384.9 2036h11.7v4h-11.7zM432.4 2036h12.3v4h-12.3zM549.2 2048h7.8v4h-7.8zM593.1 2044h11.7v8h-11.7zM697 1970h11.8v3h-11.8zM708.8 1933h12v6h-12zM720.8 1960h12.2v1h-12.2zM813 1578h12.1v4h-12.1zM837 1582h11.7v4h-11.7zM961.1 1568h11.8v2h-11.8zM972.9 1562h12.3v4h-12.3zM1317 1981h11v1h-11zM1421.2 1977h11.8v1h-11.8zM1537 1986h12.5v2h-12.5z"/>
<path fill="#ff9400" shape-rendering="crispEdges" d="M261 2012h12.1v4h-12.1zM365 2032h11.7v4h-11.7zM672.9 1956h12.1v4h-12.1zM825.1 1574h11.9v4h-11.9zM848.7 1574h8.4v4h-8.4zM868.8 1582h12v4h-12zM892.8 1585h12.2v4h-12.2zM948.8 1560h12.3v2h-12.3zM985.2 1566h12.1v4h-12.1zM997.3 1568h11.7v2h-11.7zM1340.9 1988h11.8v4h-11.8zM1492.8 1968h8v4h-8zM1516.9 1981h8.2v7h-8.2z"/>
<path fill="#d00000" shape-rendering="crispEdges" d="M237 2012h11.7v4h-11.7zM292.7 2028h12.1v4h-12.1zM444.7 2036h12.1v4h-12.1zM444.7 2044h12.1v4h-12.1zM476.9 2048h12.3v4h-12.3zM489.2 2048h11.7v4h-11.7zM549.2 2044h7.8v4h-7.8zM617 2052h11.7v4h-11.7zM825.1 1578h11.9v4h-11.9zM868.8 1568h12v4h-12zM928.9 1574h8.2v4h-8.2zM948.8 1566h12.3v4h-12.3zM997.3 1556h11.7v4h-11.7zM1377 1977h11.8v4h-11.8zM1409.4 1981h11.8v4h-11.8zM1409.4 1989h11.8v3h-11.8zM1492.8 1977h8v11h-8zM1525.1 1982h11.9v10h-11.9zM1585.4 1992h12v8h-12z"/>
<path fill="#ff6300" shape-rendering="crispEdges" d="M825.1 1582h11.9v4h-11.9zM1409.4 1977h11.8v4h-11.8zM1421.2 1982h11.8v6h-11.8zM1457.3 1977h11.9v1h-11.9z"/>
<path fill="#e9ff16" shape-rendering="crispEdges" d="M384.9 2040h11.7v4h-11.7zM432.4 2040h12.3v4h-12.3zM464.6 2052h11.4v4h-11.4zM500.9 2036h12.1v4h-12.1zM581 2040h12.1v4h-12.1zM720.8 1956h12.2v4h-12.2zM825.1 1586h11.9v3h-11.9zM985.2 1556h12.1v4h-12.1zM1044.6 1558h8.4v4h-8.4zM1125 1973h8v4h-8zM1125 1981h8v1h-8zM1133 1981h12v1h-12zM1317 1977h11v4h-11zM1317 1992h11v4h-11zM1469.2 1997h11.7v3h-11.7zM1517.1 1545h7.8v3h-7.8zM1572.8 1548h12.2v12h-12.2z"/>
<path fill="#77ff88" shape-rendering="crispEdges" d="M328.8 2020h12.3v4h-12.3zM568.7 2040h12.3v4h-12.3zM593.1 2032h11.7v4h-11.7zM672.9 1948h12.1v4h-12.1zM685 1938h12v8h-12zM837 1586h11.7v3h-11.7zM937.1 1576h11.7v2h-11.7zM961.1 1578h11.8v2h-11.8zM985.2 1545h12.1v4h-12.1zM985.2 1553h12.1v3h-12.1zM1053 1556h11.7v6h-11.7zM1133.1 1550h11.7v4h-11.7zM1145 1965h11.9v4h-11.9zM1433 1977h11.8v1h-11.8zM1573.3 1996h12.1v1h-12.1z"/>
<path fill="#ff8400" shape-rendering="crispEdges" d="M444.7 2032h12.1v4h-12.1zM456.8 2032h7.8v4h-7.8zM848.7 1570h8.4v4h-8.4zM997.3 1564h11.7v4h-11.7zM1317 1982h11v4h-11zM1433 1982h11.8v6h-11.8z"/>
<path fill="#00c4ff" shape-rendering="crispEdges" d="M237 2005h11.7v4h-11.7zM341.1 2005h11.8v4h-11.8zM456.8 2024h7.8v4h-7.8zM464.6 2028h11.4v4h-11.4zM557 2012h11.7v4h-11.7zM593.1 1965h11.7v4h-11.7zM617 2028h11.7v4h-11.7zM720.8 1939h12.2v6h-12.2zM857.1 1557h11.7v4h-11.7zM972.9 1549h12.3v7h-12.3zM1044.6 1570h8.4v4h-8.4zM1112.9 1965h12.1v8h-12.1zM1124.7 1561h8.4v1h-8.4zM1285.1 1973h11.9v4h-11.9zM1376.9 1554h12.1v12h-12.1zM1444.8 2000h12.5v4h-12.5zM1457.3 1959h11.9v4h-11.9zM1492.7 1554h7.8v2h-7.8zM1516.9 1969h8.2v4h-8.2zM1537 1552h12v8h-12z"/>
<path fill="#00b4ff" shape-rendering="crispEdges" d="M248.7 2001h12.3v4h-12.3zM317.1 2016h11.7v4h-11.7zM352.9 2009h12.1v7h-12.1zM365 2024h11.7v4h-11.7zM396.6 2028h12.3v4h-12.3zM549.2 2055h7.8v4h-7.8zM661.1 2067h11.8v8h-11.8zM857.1 1561h11.7v3h-11.7zM972.9 1545h12.3v4h-12.3zM1044.6 1566h8.4v4h-8.4zM1156.9 1973h12.1v4h-12.1zM1156.9 2016h12.1v4h-12.1zM1317 1973h11v4h-11zM1457.3 1963h11.9v2h-11.9zM1492.7 1550h7.8v4h-7.8zM1516.9 1965h8.2v4h-8.2zM1524.9 1547h12.1v4h-12.1zM1537 1548h12v4h-12z"/>
<path fill="#c8ff37" shape-rendering="crispEdges" d="M280.9 2028h11.8v4h-11.8zM408.9 2032h12v4h-12zM525.1 2040h12v4h-12zM708.8 1929h12v4h-12zM720.8 1945h12.2v8h-12.2zM857.1 1564h11.7v4h-11.7zM961.1 1564h11.8v4h-11.8zM1133 1982h12v10h-12zM1133.1 1554h11.7v4h-11.7zM1145 1981h11.9v1h-11.9zM1328 1988h12v4h-12zM1421.2 1973h11.8v4h-11.8zM1480.9 1972h11.9v1h-11.9zM1561.5 1988h11.8v4h-11.8z"/>
<path fill="#e10000" shape-rendering="crispEdges" d="M248.7 2016h12.3v4h-12.3zM376.7 2036h8.2v8h-8.2zM464.6 2040h11.4v12h-11.4zM513 2044h12.1v4h-12.1zM513 2052h12.1v3h-12.1zM537.1 2044h12.1v4h-12.1zM617 2056h11.7v7h-11.7zM857.1 1578h11.7v4h-11.7zM928.9 1570h8.2v4h-8.2zM937.1 1570h11.7v2h-11.7zM997.3 1560h11.7v4h-11.7zM1388.8 1977h12.3v4h-12.3zM1444.8 1986h12.5v4h-12.5zM1492.8 1973h8v4h-8zM1525.1 1978h11.9v4h-11.9zM1605.7 2000h9.3v8h-9.3z"/>
<path fill="#0000b0" shape-rendering="crispEdges" d="M652.7 2044h8.4v8h-8.4zM672.9 1932h12.1v4h-12.1zM868.8 1541h12v8h-12z"/>
<path fill="#67ff98" shape-rendering="crispEdges" d="M248.7 2009h12.3v3h-12.3zM273.1 2016h7.8v4h-7.8zM568.7 2036h12.3v4h-12.3zM672.9 1940h12.1v8h-12.1zM697 1950h11.8v4h-11.8zM868.8 1557h12v7h-12zM1053 1552h11.7v4h-11.7zM1285.1 1981h11.9v1h-11.9zM1433 1973h11.8v4h-11.8zM1549 1545h12.1v3h-12.1z"/>
<path fill="#ffc400" shape-rendering="crispEdges" d="M273.1 2020h7.8v4h-7.8zM456.8 2044h7.8v4h-7.8zM476.9 2032h12.3v4h-12.3zM557 2048h11.7v4h-11.7zM868.8 1564h12v4h-12zM1009 1554h11.7v2h-11.7zM1317 1986h11v6h-11zM1492.8 1988h8v4h-8z"/>
<path fill="#800000" shape-rendering="crispEdges" d="M317.1 2036h11.7v8h-11.7zM489.2 2040h11.7v8h-11.7zM525.1 2048h12v4h-12zM549.2 2032h7.8v12h-7.8zM868.8 1572h12v4h-12zM905 1556h12.1v4h-12.1zM1409.4 1985h11.8v4h-11.8zM1605.7 1996h9.3v4h-9.3zM1605.7 2008h9.3v1h-9.3z"/>
<path fill="#900000" shape-rendering="crispEdges" d="M237 2016h11.7v12h-11.7zM280.9 2032h11.8v4h-11.8zM304.8 2032h12.3v4h-12.3zM476.9 2040h12.3v4h-12.3zM513 2048h12.1v4h-12.1zM557 2044h11.7v4h-11.7zM568.7 2048h12.3v7h-12.3zM868.8 1576h12v4h-12zM905 1560h12.1v16h-12.1zM1444.8 1978h12.5v4h-12.5z"/>
<path fill="#b00000" shape-rendering="crispEdges" d="M261 2016h12.1v4h-12.1zM261 2028h12.1v4h-12.1zM525.1 2052h12v4h-12zM868.8 1580h12v2h-12zM880.8 1574h12v8h-12zM892.8 1584h12.2v1h-12.2zM905 1576h12.1v2h-12.1zM948.8 1562h12.3v4h-12.3zM1388.8 1981h12.3v7h-12.3zM1401.1 1989h8.3v3h-8.3zM1457.3 1978h11.9v4h-11.9zM1469.2 1973h11.7v4h-11.7zM1500.8 1977h16.1v15h-16.1z"/>
<path fill="#c00000" shape-rendering="crispEdges" d="M261 2020h12.1v8h-12.1zM444.7 2040h12.1v4h-12.1zM476.9 2036h12.3v4h-12.3zM476.9 2044h12.3v4h-12.3zM489.2 2036h11.7v4h-11.7zM525.1 2056h12v7h-12zM880.8 1566h12v8h-12zM928.9 1562h8.2v4h-8.2zM937.1 1566h11.7v4h-11.7zM1009 1556h11.7v8h-11.7zM1377 1973h11.8v4h-11.8zM1401.1 1981h8.3v8h-8.3zM1444.8 1982h12.5v4h-12.5z"/>
<path fill="#a00000" shape-rendering="crispEdges" d="M248.7 2020h12.3v8h-12.3zM292.7 2032h12.1v4h-12.1zM304.8 2028h12.3v4h-12.3zM317.1 2032h11.7v4h-11.7zM892.8 1568h12.2v16h-12.2zM1444.8 1990h12.5v2h-12.5zM1457.3 1982h11.9v6h-11.9zM1469.2 1977h11.7v20h-11.7zM1500.8 1973h16.1v4h-16.1zM1597.4 1997h8.3v3h-8.3zM1605.7 1992h9.3v4h-9.3z"/>
<path fill="#ffb400" shape-rendering="crispEdges" d="M341.1 2012h11.8v4h-11.8zM376.7 2032h8.2v4h-8.2zM581 2044h12.1v4h-12.1zM892.8 1589h12.2v2h-12.2zM985.2 1562h12.1v4h-12.1zM1009 1550h11.7v4h-11.7zM1377 1985h11.8v3h-11.8zM1457.3 1992h11.9v5h-11.9zM1480.9 1973h11.9v5h-11.9zM1517.1 1548h7.8v4h-7.8zM1517.1 1556h7.8v4h-7.8zM1549 1556h12.1v4h-12.1z"/>
<path fill="#ff0200" shape-rendering="crispEdges" d="M248.7 2012h12.3v4h-12.3zM280.9 2036h11.8v4h-11.8zM432.4 2048h12.3v4h-12.3zM444.7 2048h12.1v4h-12.1zM500.9 2052h12.1v11h-12.1zM525.1 2044h12v4h-12zM537.1 2048h12.1v4h-12.1zM557 2028h11.7v4h-11.7zM568.7 2055h12.3v4h-12.3zM905 1578h12.1v4h-12.1zM917.1 1576h11.7v2h-11.7zM928.9 1566h8.2v4h-8.2zM1340.9 1981h11.8v4h-11.8zM1516.9 1973h8.2v4h-8.2z"/>
<path fill="#a8ff57" shape-rendering="crispEdges" d="M376.7 2028h8.2v4h-8.2zM489.2 2052h11.7v3h-11.7zM604.8 2040h12.2v8h-12.2zM697 1946h11.8v4h-11.8zM917.1 1578h11.7v4h-11.7zM997.3 1552h11.7v4h-11.7zM1388.8 1966h12.3v2h-12.3zM1537 1978h12.5v4h-12.5z"/>
<path fill="#b8ff47" shape-rendering="crispEdges" d="M456.8 2028h7.8v4h-7.8zM733 1956h7.8v4h-7.8zM928.9 1578h8.2v5h-8.2zM972.9 1566h12.3v4h-12.3zM997.3 1548h11.7v4h-11.7zM1145 1977h11.9v4h-11.9zM1309 1977h8v4h-8zM1328 1973h12v4h-12zM1388.8 1962h12.3v4h-12.3zM1480.9 1968h11.9v4h-11.9zM1500.8 1972h16.1v1h-16.1zM1517.1 1560h7.8v4h-7.8zM1537 1982h12.5v4h-12.5zM1573.3 1988h12.1v4h-12.1z"/>
<path fill="#ffa400" shape-rendering="crispEdges" d="M248.7 2028h12.3v4h-12.3zM568.7 2044h12.3v4h-12.3zM581 2048h12.1v4h-12.1zM708.8 1939h12v3h-12zM948.8 1556h12.3v4h-12.3zM1285.1 1982h11.9v8h-11.9zM1352.7 1981h12.5v4h-12.5zM1377 1981h11.8v4h-11.8zM1409.4 1992h11.8v5h-11.8zM1492.8 1972h8v1h-8zM1517.1 1552h7.8v4h-7.8z"/>
<path fill="#fff500" shape-rendering="crispEdges" d="M292.7 2020h12.1v4h-12.1zM304.8 2020h12.3v8h-12.3zM500.9 2040h12.1v4h-12.1zM581 2036h12.1v4h-12.1zM617 2063h11.7v4h-11.7zM733 1960h7.8v1h-7.8zM948.8 1574h12.3v4h-12.3zM1044.6 1562h8.4v4h-8.4zM1133 1977h12v4h-12zM1297 1977h12v4h-12zM1297 1982h12v8h-12zM1388.8 1968h12.3v4h-12.3zM1444.8 1977h12.5v1h-12.5zM1525.1 1992h11.9v4h-11.9z"/>
<path fill="#37ffc8" shape-rendering="crispEdges" d="M292.7 2040h12.1v4h-12.1zM628.7 2055h12.3v4h-12.3zM961.1 1570h11.8v4h-11.8zM1248.8 1982h11.8v4h-11.8zM1365.2 1973h11.8v4h-11.8zM1457.3 1965h11.9v4h-11.9zM1561.5 1978h11.8v8h-11.8z"/>
<path fill="#57ffa8" shape-rendering="crispEdges" d="M237 2009h11.7v3h-11.7zM292.7 2024h12.1v4h-12.1zM292.7 2036h12.1v4h-12.1zM525.1 2036h12v4h-12zM685 1954h12v2h-12zM708.8 1958h12v1h-12zM733 1953h7.8v3h-7.8zM961.1 1574h11.8v4h-11.8zM1053 1548h11.7v4h-11.7zM1112.9 1973h12.1v4h-12.1zM1285.1 1977h11.9v4h-11.9zM1340.9 1992h11.8v5h-11.8zM1469.2 1972h11.7v1h-11.7zM1573.3 1992h12.1v4h-12.1z"/>
<path fill="#ff7300" shape-rendering="crispEdges" d="M408.9 2036h12v8h-12zM476.9 2052h12.3v3h-12.3zM489.2 2032h11.7v4h-11.7zM500.9 2044h12.1v8h-12.1zM593.1 2036h11.7v8h-11.7zM672.9 1952h12.1v4h-12.1zM1009 1564h11.7v6h-11.7zM1285.1 1990h11.9v2h-11.9zM1421.2 1978h11.8v4h-11.8zM1433 1978h11.8v4h-11.8zM1444.8 1996h12.5v1h-12.5zM1457.3 1973h11.9v4h-11.9z"/>
<path fill="#ff5300" shape-rendering="crispEdges" d="M304.8 2036h12.3v4h-12.3zM341.1 2016h11.8v4h-11.8z"/>
<rect x="233" y="1452" width="1386" height="4" fill="#cdcdcd"/>
<rect x="233" y="1456" width="1386" height="3" fill="#3a3a3a"/>
<rect x="233" y="1452" width="7" height="1036" fill="#959595"/>
<rect x="1615" y="1452" width="4" height="1036" fill="#5e5e5e"/>
<rect x="1612" y="1459" width="3" height="1022" fill="#d0d0d0"/>
<rect x="233" y="2481" width="1386" height="3" fill="#c8c8c8"/>
<rect x="233" y="2484" width="1386" height="4" fill="#5a5a5a"/>
<rect x="575" y="1459" width="4" height="12" fill="#555"/>
<rect x="575" y="2469" width="4" height="12" fill="#555"/>
<rect x="919" y="1459" width="4" height="12" fill="#555"/>
<rect x="919" y="2469" width="4" height="12" fill="#555"/>
<rect x="1264" y="1459" width="4" height="12" fill="#555"/>
<rect x="1264" y="2469" width="4" height="12" fill="#555"/>
<rect x="240" y="1459" width="3" height="12" fill="#333"/>
<rect x="240" y="2470" width="3" height="11" fill="#333"/>
<rect x="240" y="1715" width="12" height="4" fill="#555"/>
<rect x="1603" y="1715" width="12" height="4" fill="#555"/>
<rect x="240" y="1972" width="12" height="4" fill="#555"/>
<rect x="1603" y="1972" width="12" height="4" fill="#555"/>
<rect x="240" y="2228" width="12" height="4" fill="#555"/>
<rect x="1603" y="2228" width="12" height="4" fill="#555"/>
<text x="724" y="1427" font-family="'Liberation Serif', 'Times New Roman', serif" font-size="74" font-weight="bold" fill="#1e1e1e" text-anchor="start" textLength="342" lengthAdjust="spacingAndGlyphs" stroke="#fff" stroke-width="1.2" >LWC(g/m</text>
<text x="1067" y="1392" font-family="'Liberation Serif', 'Times New Roman', serif" font-size="62" font-weight="bold" fill="#1e1e1e" text-anchor="start" textLength="30" lengthAdjust="spacingAndGlyphs" stroke="#fff" stroke-width="1.2" >3</text>
<text x="1095" y="1427" font-family="'Liberation Serif', 'Times New Roman', serif" font-size="74" font-weight="bold" fill="#1e1e1e" text-anchor="start" textLength="25" lengthAdjust="spacingAndGlyphs" stroke="#fff" stroke-width="1.2" >)</text>
<text x="209" y="1487" font-family="'Liberation Sans', Arial, sans-serif" font-size="70" font-weight="bold" fill="#1e1e1e" text-anchor="end" stroke="#fff" stroke-width="1.6" >6</text>
<text x="209" y="1748" font-family="'Liberation Sans', Arial, sans-serif" font-size="70" font-weight="bold" fill="#1e1e1e" text-anchor="end" stroke="#fff" stroke-width="1.6" >4.5</text>
<text x="209" y="2003" font-family="'Liberation Sans', Arial, sans-serif" font-size="70" font-weight="bold" fill="#1e1e1e" text-anchor="end" stroke="#fff" stroke-width="1.6" >3</text>
<text x="209" y="2261" font-family="'Liberation Sans', Arial, sans-serif" font-size="70" font-weight="bold" fill="#1e1e1e" text-anchor="end" stroke="#fff" stroke-width="1.6" >1.5</text>
<text x="241" y="2584" font-family="'Liberation Sans', Arial, sans-serif" font-size="70" font-weight="bold" fill="#1e1e1e" text-anchor="middle" textLength="138" lengthAdjust="spacingAndGlyphs" stroke="#fff" stroke-width="1.6" >5:00</text>
<text x="573" y="2584" font-family="'Liberation Sans', Arial, sans-serif" font-size="70" font-weight="bold" fill="#1e1e1e" text-anchor="middle" textLength="138" lengthAdjust="spacingAndGlyphs" stroke="#fff" stroke-width="1.6" >5:30</text>
<text x="917" y="2584" font-family="'Liberation Sans', Arial, sans-serif" font-size="70" font-weight="bold" fill="#1e1e1e" text-anchor="middle" textLength="138" lengthAdjust="spacingAndGlyphs" stroke="#fff" stroke-width="1.6" >6:00</text>
<text x="1265" y="2584" font-family="'Liberation Sans', Arial, sans-serif" font-size="70" font-weight="bold" fill="#1e1e1e" text-anchor="middle" textLength="138" lengthAdjust="spacingAndGlyphs" stroke="#fff" stroke-width="1.6" >6:30</text>
<text x="1607" y="2584" font-family="'Liberation Sans', Arial, sans-serif" font-size="70" font-weight="bold" fill="#1e1e1e" text-anchor="middle" textLength="138" lengthAdjust="spacingAndGlyphs" stroke="#fff" stroke-width="1.6" >7:00</text>
<text x="925" y="2679" font-family="'Liberation Serif', 'Times New Roman', serif" font-size="72" font-weight="bold" fill="#1e1e1e" text-anchor="middle" textLength="472" lengthAdjust="spacingAndGlyphs" stroke="#fff" stroke-width="1.2" >Time(UTC+8)</text>
<g transform="translate(79,1970) rotate(-90)">
<text x="0" y="0" font-family="'Liberation Serif', 'Times New Roman', serif" font-size="74" font-weight="bold" fill="#1e1e1e" text-anchor="middle" textLength="402" lengthAdjust="spacingAndGlyphs" stroke="#fff" stroke-width="1.2" >Height (km)</text>
</g>
<text x="300" y="2342" font-family="'Liberation Serif', 'Times New Roman', serif" font-size="116" font-weight="normal" fill="#1e1e1e" text-anchor="start" textLength="136" lengthAdjust="spacingAndGlyphs" stroke="#fff" stroke-width="1.8" >(b)</text>
<defs><linearGradient id="cbb" x1="0" y1="0" x2="0" y2="1"><stop offset="0.0000" stop-color="#800000"/><stop offset="0.0312" stop-color="#9f0000"/><stop offset="0.0625" stop-color="#bf0000"/><stop offset="0.0938" stop-color="#df0000"/><stop offset="0.1250" stop-color="#ff0000"/><stop offset="0.1562" stop-color="#ff2000"/><stop offset="0.1875" stop-color="#ff4000"/><stop offset="0.2188" stop-color="#ff6000"/><stop offset="0.2500" stop-color="#ff8000"/><stop offset="0.2812" stop-color="#ff9f00"/><stop offset="0.3125" stop-color="#ffbf00"/><stop offset="0.3438" stop-color="#ffdf00"/><stop offset="0.3750" stop-color="#ffff00"/><stop offset="0.4062" stop-color="#dfff20"/><stop offset="0.4375" stop-color="#bfff40"/><stop offset="0.4688" stop-color="#9fff60"/><stop offset="0.5000" stop-color="#80ff80"/><stop offset="0.5312" stop-color="#60ff9f"/><stop offset="0.5625" stop-color="#40ffbf"/><stop offset="0.5938" stop-color="#20ffdf"/><stop offset="0.6250" stop-color="#00ffff"/><stop offset="0.6562" stop-color="#00dfff"/><stop offset="0.6875" stop-color="#00bfff"/><stop offset="0.7188" stop-color="#009fff"/><stop offset="0.7500" stop-color="#0080ff"/><stop offset="0.7812" stop-color="#0060ff"/><stop offset="0.8125" stop-color="#0040ff"/><stop offset="0.8438" stop-color="#0020ff"/><stop offset="0.8750" stop-color="#0000ff"/><stop offset="0.9062" stop-color="#0000df"/><stop offset="0.9375" stop-color="#0000bf"/><stop offset="0.9688" stop-color="#00009f"/><stop offset="1.0000" stop-color="#000080"/></linearGradient></defs>
<rect x="1724" y="1459" width="74" height="1026" fill="url(#cbb)"/>
<rect x="1723" y="1457" width="76" height="1029" fill="none" stroke="#2a2a2a" stroke-width="4"/>
<rect x="1718" y="1455" width="3" height="1033" fill="#9a9a9a"/>
<rect x="1721" y="1452" width="80" height="3" fill="#b0b0b0"/>
<rect x="1786" y="1714" width="10" height="4" fill="#333"/>
<rect x="1786" y="1970" width="10" height="4" fill="#333"/>
<rect x="1786" y="2227" width="10" height="4" fill="#333"/>
<text x="1815" y="1484" font-family="'Liberation Sans', Arial, sans-serif" font-size="70" font-weight="bold" fill="#1e1e1e" text-anchor="start" stroke="#fff" stroke-width="1.6" >2</text>
<text x="1816" y="1741" font-family="'Liberation Sans', Arial, sans-serif" font-size="70" font-weight="bold" fill="#1e1e1e" text-anchor="start" textLength="90" lengthAdjust="spacingAndGlyphs" stroke="#fff" stroke-width="1.6" >1.5</text>
<text x="1815" y="1997" font-family="'Liberation Sans', Arial, sans-serif" font-size="70" font-weight="bold" fill="#1e1e1e" text-anchor="start" stroke="#fff" stroke-width="1.6" >1</text>
<text x="1816" y="2252" font-family="'Liberation Sans', Arial, sans-serif" font-size="70" font-weight="bold" fill="#1e1e1e" text-anchor="start" textLength="90" lengthAdjust="spacingAndGlyphs" stroke="#fff" stroke-width="1.6" >0.5</text>
<text x="1816" y="2509" font-family="'Liberation Sans', Arial, sans-serif" font-size="70" font-weight="bold" fill="#1e1e1e" text-anchor="start" stroke="#fff" stroke-width="1.6" >0</text>
<rect x="297" y="2789" width="1552" height="4" fill="#c8c8c8"/>
<rect x="297" y="2793" width="1552" height="4" fill="#5a5a5a"/>
<rect x="297" y="3837" width="1552" height="4" fill="#5a5a5a"/>
<rect x="297" y="3841" width="1552" height="4" fill="#c8c8c8"/>
<rect x="297" y="2793" width="4" height="1048" fill="#262626"/>
<rect x="1845" y="2793" width="4" height="1048" fill="#7a7a7a"/>
<rect x="1849" y="2793" width="4" height="1048" fill="#b0b0b0"/>
<rect x="298" y="3663.6666666666665" width="14" height="4" fill="#333"/>
<rect x="1834" y="3663.6666666666665" width="14" height="4" fill="#333"/>
<rect x="298" y="3489.3333333333335" width="14" height="4" fill="#333"/>
<rect x="1834" y="3489.3333333333335" width="14" height="4" fill="#333"/>
<rect x="298" y="3315.0" width="14" height="4" fill="#333"/>
<rect x="1834" y="3315.0" width="14" height="4" fill="#333"/>
<rect x="298" y="3140.6666666666665" width="14" height="4" fill="#333"/>
<rect x="1834" y="3140.6666666666665" width="14" height="4" fill="#333"/>
<rect x="298" y="2966.3333333333335" width="14" height="4" fill="#333"/>
<rect x="1834" y="2966.3333333333335" width="14" height="4" fill="#333"/>
<rect x="674" y="3826" width="4" height="14" fill="#333"/>
<rect x="674" y="2794" width="4" height="14" fill="#333"/>
<rect x="1064" y="3826" width="4" height="14" fill="#333"/>
<rect x="1064" y="2794" width="4" height="14" fill="#333"/>
<rect x="1454" y="3826" width="4" height="14" fill="#333"/>
<rect x="1454" y="2794" width="4" height="14" fill="#333"/>
<text x="273" y="3863.0" font-family="'Liberation Serif', 'Times New Roman', serif" font-size="71" font-weight="bold" fill="#1e1e1e" text-anchor="end" stroke="#fff" stroke-width="1.2" >0</text>
<text x="273" y="3688.6666666666665" font-family="'Liberation Serif', 'Times New Roman', serif" font-size="71" font-weight="bold" fill="#1e1e1e" text-anchor="end" stroke="#fff" stroke-width="1.2" >200</text>
<text x="273" y="3514.3333333333335" font-family="'Liberation Serif', 'Times New Roman', serif" font-size="71" font-weight="bold" fill="#1e1e1e" text-anchor="end" stroke="#fff" stroke-width="1.2" >400</text>
<text x="273" y="3340.0" font-family="'Liberation Serif', 'Times New Roman', serif" font-size="71" font-weight="bold" fill="#1e1e1e" text-anchor="end" stroke="#fff" stroke-width="1.2" >600</text>
<text x="273" y="3165.6666666666665" font-family="'Liberation Serif', 'Times New Roman', serif" font-size="71" font-weight="bold" fill="#1e1e1e" text-anchor="end" stroke="#fff" stroke-width="1.2" >800</text>
<text x="273" y="2991.3333333333335" font-family="'Liberation Serif', 'Times New Roman', serif" font-size="71" font-weight="bold" fill="#1e1e1e" text-anchor="end" stroke="#fff" stroke-width="1.2" >1000</text>
<text x="273" y="2817.0" font-family="'Liberation Serif', 'Times New Roman', serif" font-size="71" font-weight="bold" fill="#1e1e1e" text-anchor="end" stroke="#fff" stroke-width="1.2" >1200</text>
<text x="298" y="3928" font-family="'Liberation Serif', 'Times New Roman', serif" font-size="71" font-weight="bold" fill="#1e1e1e" text-anchor="middle" textLength="134" lengthAdjust="spacingAndGlyphs" stroke="#fff" stroke-width="1.2" >5:00</text>
<text x="675" y="3928" font-family="'Liberation Serif', 'Times New Roman', serif" font-size="71" font-weight="bold" fill="#1e1e1e" text-anchor="middle" textLength="134" lengthAdjust="spacingAndGlyphs" stroke="#fff" stroke-width="1.2" >5:30</text>
<text x="1065" y="3928" font-family="'Liberation Serif', 'Times New Roman', serif" font-size="71" font-weight="bold" fill="#1e1e1e" text-anchor="middle" textLength="134" lengthAdjust="spacingAndGlyphs" stroke="#fff" stroke-width="1.2" >6:00</text>
<text x="1454" y="3928" font-family="'Liberation Serif', 'Times New Roman', serif" font-size="71" font-weight="bold" fill="#1e1e1e" text-anchor="middle" textLength="134" lengthAdjust="spacingAndGlyphs" stroke="#fff" stroke-width="1.2" >6:30</text>
<text x="1846" y="3928" font-family="'Liberation Serif', 'Times New Roman', serif" font-size="71" font-weight="bold" fill="#1e1e1e" text-anchor="middle" textLength="134" lengthAdjust="spacingAndGlyphs" stroke="#fff" stroke-width="1.2" >7:00</text>
<text x="1069" y="4016" font-family="'Liberation Serif', 'Times New Roman', serif" font-size="72" font-weight="bold" fill="#1e1e1e" text-anchor="middle" textLength="455" lengthAdjust="spacingAndGlyphs" stroke="#fff" stroke-width="1.2" >Time(UTC+8)</text>
<text x="1069" y="2760" font-family="'Liberation Serif', 'Times New Roman', serif" font-size="70" font-weight="bold" fill="#1e1e1e" text-anchor="middle" textLength="236" lengthAdjust="spacingAndGlyphs" stroke="#fff" stroke-width="1.2" >Stratus</text>
<text x="367" y="2941" font-family="'Liberation Serif', 'Times New Roman', serif" font-size="116" font-weight="normal" fill="#1e1e1e" text-anchor="start" textLength="124" lengthAdjust="spacingAndGlyphs" stroke="#fff" stroke-width="1.8" >(c)</text>
<g transform="translate(104,3509) rotate(-90)">
<text x="0" y="0" font-family="'Liberation Serif', 'Times New Roman', serif" font-size="72" font-weight="bold" fill="#1e1e1e" text-anchor="start" textLength="315" lengthAdjust="spacingAndGlyphs" stroke="#fff" stroke-width="1.2" >LWP(g/m</text>
<text x="331" y="-37" font-family="'Liberation Serif', 'Times New Roman', serif" font-size="64" font-weight="normal" fill="#1e1e1e" text-anchor="start" textLength="29" lengthAdjust="spacingAndGlyphs" >2</text>
<text x="364" y="0" font-family="'Liberation Serif', 'Times New Roman', serif" font-size="72" font-weight="bold" fill="#1e1e1e" text-anchor="start" textLength="21" lengthAdjust="spacingAndGlyphs" stroke="#fff" stroke-width="1.2" >)</text>
</g>
<polyline points="298,3588.3 337,3552.4 364,3602.9 389,3661.6 415,3658.3 441.5,3730 480.5,3715.3 506.5,3580.1 532.5,3521.5 558.5,3453.1 585,3466.1 624,3552.4 650,3570.4 676,3648.5 702,3669.7 728,3702.3 754.5,3655 793.5,3635.5 819.5,3599.7 845.5,3541 872,3589.9 898,3642 937,3707.2 963,3651.8 989,3578.5 1015,3541 1041,3587.5 1080.5,3650.2 1106.5,3633.9 1132.5,3612.7 1158.5,3653.4 1184.5,3746.3 1224,3695.8 1250,3757.7 1276,3757.7 1302,3720.2 1328,3721.8 1367,3716.9 1393,3703.9 1419,3694.6 1444,3702.7 1470,3697.1 1509.5,3650.2 1535.5,3639 1562,3586.6 1587,3670.8 1613.5,3586.6 1653,3676.5 1678,3687.7 1705,3466.7 1730,3652.1 1757,3640.9 1796,3698.9 1822.5,3564.1" fill="none" stroke="#ff0000" stroke-width="2.7" stroke-linejoin="round"/>
<g fill="#ff0000"><circle cx="298" cy="3588.3" r="6.2"/><circle cx="337" cy="3552.4" r="6.2"/><circle cx="364" cy="3602.9" r="6.2"/><circle cx="389" cy="3661.6" r="6.2"/><circle cx="415" cy="3658.3" r="6.2"/><circle cx="441.5" cy="3730" r="6.2"/><circle cx="480.5" cy="3715.3" r="6.2"/><circle cx="506.5" cy="3580.1" r="6.2"/><circle cx="532.5" cy="3521.5" r="6.2"/><circle cx="558.5" cy="3453.1" r="6.2"/><circle cx="585" cy="3466.1" r="6.2"/><circle cx="624" cy="3552.4" r="6.2"/><circle cx="650" cy="3570.4" r="6.2"/><circle cx="676" cy="3648.5" r="6.2"/><circle cx="702" cy="3669.7" r="6.2"/><circle cx="728" cy="3702.3" r="6.2"/><circle cx="754.5" cy="3655" r="6.2"/><circle cx="793.5" cy="3635.5" r="6.2"/><circle cx="819.5" cy="3599.7" r="6.2"/><circle cx="845.5" cy="3541" r="6.2"/><circle cx="872" cy="3589.9" r="6.2"/><circle cx="898" cy="3642" r="6.2"/><circle cx="937" cy="3707.2" r="6.2"/><circle cx="963" cy="3651.8" r="6.2"/><circle cx="989" cy="3578.5" r="6.2"/><circle cx="1015" cy="3541" r="6.2"/><circle cx="1041" cy="3587.5" r="6.2"/><circle cx="1080.5" cy="3650.2" r="6.2"/><circle cx="1106.5" cy="3633.9" r="6.2"/><circle cx="1132.5" cy="3612.7" r="6.2"/><circle cx="1158.5" cy="3653.4" r="6.2"/><circle cx="1184.5" cy="3746.3" r="6.2"/><circle cx="1224" cy="3695.8" r="6.2"/><circle cx="1250" cy="3757.7" r="6.2"/><circle cx="1276" cy="3757.7" r="6.2"/><circle cx="1302" cy="3720.2" r="6.2"/><circle cx="1328" cy="3721.8" r="6.2"/><circle cx="1367" cy="3716.9" r="6.2"/><circle cx="1393" cy="3703.9" r="6.2"/><circle cx="1419" cy="3694.6" r="6.2"/><circle cx="1444" cy="3702.7" r="6.2"/><circle cx="1470" cy="3697.1" r="6.2"/><circle cx="1509.5" cy="3650.2" r="6.2"/><circle cx="1535.5" cy="3639" r="6.2"/><circle cx="1562" cy="3586.6" r="6.2"/><circle cx="1587" cy="3670.8" r="6.2"/><circle cx="1613.5" cy="3586.6" r="6.2"/><circle cx="1653" cy="3676.5" r="6.2"/><circle cx="1678" cy="3687.7" r="6.2"/><circle cx="1705" cy="3466.7" r="6.2"/><circle cx="1730" cy="3652.1" r="6.2"/><circle cx="1757" cy="3640.9" r="6.2"/><circle cx="1796" cy="3698.9" r="6.2"/><circle cx="1822.5" cy="3564.1" r="6.2"/></g>
<polyline points="298,3579.5 337,3669.7 364,3607.8 389,3738.1 415,3754.4 441.5,3708.8 480.5,3756 506.5,3700.7 532.5,3656.7 558.5,3534.5 585,3646.9 624,3620.8 650,3511.1 676,3690.9 702,3682.7 728,3733.2 754.5,3738.1 793.5,3692.5 819.5,3650.2 845.5,3653.4 872,3767.4 898,3772.3 937,3640.4 963,3733.2 989,3614.3 1015,3576.9 1041,3451.5 1080.5,3565.5 1106.5,3747.9 1132.5,3666.4 1158.5,3624.1 1184.5,3821.2 1224,3832.6 1250,3813 1276,3757.7 1302,3596.4 1328,3764.2 1367,3837.5 1393,3795.1 1419,3810.5 1444,3822.5 1470,3695.2 1509.5,3695.2 1535.5,3665.2 1562,3713.9 1587,3637.1 1613.5,3586.6 1653,3566 1678,3542.7 1705,3588.4 1730,3526.6 1757,3742 1796,3659.6 1822.5,3730.8" fill="none" stroke="#0000ff" stroke-width="2.7" stroke-linejoin="round"/>
<g fill="#0000ff"><circle cx="298" cy="3579.5" r="6.2"/><circle cx="337" cy="3669.7" r="6.2"/><circle cx="364" cy="3607.8" r="6.2"/><circle cx="389" cy="3738.1" r="6.2"/><circle cx="415" cy="3754.4" r="6.2"/><circle cx="441.5" cy="3708.8" r="6.2"/><circle cx="480.5" cy="3756" r="6.2"/><circle cx="506.5" cy="3700.7" r="6.2"/><circle cx="532.5" cy="3656.7" r="6.2"/><circle cx="558.5" cy="3534.5" r="6.2"/><circle cx="585" cy="3646.9" r="6.2"/><circle cx="624" cy="3620.8" r="6.2"/><circle cx="650" cy="3511.1" r="6.2"/><circle cx="676" cy="3690.9" r="6.2"/><circle cx="702" cy="3682.7" r="6.2"/><circle cx="728" cy="3733.2" r="6.2"/><circle cx="754.5" cy="3738.1" r="6.2"/><circle cx="793.5" cy="3692.5" r="6.2"/><circle cx="819.5" cy="3650.2" r="6.2"/><circle cx="845.5" cy="3653.4" r="6.2"/><circle cx="872" cy="3767.4" r="6.2"/><circle cx="898" cy="3772.3" r="6.2"/><circle cx="937" cy="3640.4" r="6.2"/><circle cx="963" cy="3733.2" r="6.2"/><circle cx="989" cy="3614.3" r="6.2"/><circle cx="1015" cy="3576.9" r="6.2"/><circle cx="1041" cy="3451.5" r="6.2"/><circle cx="1080.5" cy="3565.5" r="6.2"/><circle cx="1106.5" cy="3747.9" r="6.2"/><circle cx="1132.5" cy="3666.4" r="6.2"/><circle cx="1158.5" cy="3624.1" r="6.2"/><circle cx="1184.5" cy="3821.2" r="6.2"/><circle cx="1224" cy="3832.6" r="6.2"/><circle cx="1250" cy="3813" r="6.2"/><circle cx="1276" cy="3757.7" r="6.2"/><circle cx="1302" cy="3596.4" r="6.2"/><circle cx="1328" cy="3764.2" r="6.2"/><circle cx="1367" cy="3837.5" r="6.2"/><circle cx="1393" cy="3795.1" r="6.2"/><circle cx="1419" cy="3810.5" r="6.2"/><circle cx="1444" cy="3822.5" r="6.2"/><circle cx="1470" cy="3695.2" r="6.2"/><circle cx="1509.5" cy="3695.2" r="6.2"/><circle cx="1535.5" cy="3665.2" r="6.2"/><circle cx="1562" cy="3713.9" r="6.2"/><circle cx="1587" cy="3637.1" r="6.2"/><circle cx="1613.5" cy="3586.6" r="6.2"/><circle cx="1653" cy="3566" r="6.2"/><circle cx="1678" cy="3542.7" r="6.2"/><circle cx="1705" cy="3588.4" r="6.2"/><circle cx="1730" cy="3526.6" r="6.2"/><circle cx="1757" cy="3742" r="6.2"/><circle cx="1796" cy="3659.6" r="6.2"/><circle cx="1822.5" cy="3730.8" r="6.2"/></g>
<polyline points="298,3374.3 337,3749.5 364,3459.6 389,3703.9 415,3695.8 441.5,3754.4 480.5,3651.8 506.5,3749.5 532.5,3645.3 558.5,3760.9 585,3790.2 624,3813 650,3725.1 676,3739.7 702,3757.7 728,3547.6 754.5,2852 793.5,3397.7 819.5,3803.3 845.5,3821.2 872,3824.4 898,3827.7 937,3826 963,3834.2 989,3826 1015,3783.7 1041,3713.7 1080.5,3775.6 1106.5,3817.9 1132.5,3791.9 1158.5,3751.1 1184.5,3821.2 1224,3809.8 1250,3816.3 1276,3822.8 1302,3804.9 1328,3814.7 1367,3831 1393,3817.9 1419,3808.8 1444,3807.6 1470,3820.7 1509.5,3818.8 1535.5,3792.6 1562,3813.2 1587,3813.2 1613.5,3822.5 1653,3816.9 1678,3809.4 1705,3803.8 1730,3792.6 1757,3811.3 1796,3772 1822.5,3824.4" fill="none" stroke="#00ff00" stroke-width="2.7" stroke-linejoin="round"/>
<g fill="#00ff00"><circle cx="298" cy="3374.3" r="6.2"/><circle cx="337" cy="3749.5" r="6.2"/><circle cx="364" cy="3459.6" r="6.2"/><circle cx="389" cy="3703.9" r="6.2"/><circle cx="415" cy="3695.8" r="6.2"/><circle cx="441.5" cy="3754.4" r="6.2"/><circle cx="480.5" cy="3651.8" r="6.2"/><circle cx="506.5" cy="3749.5" r="6.2"/><circle cx="532.5" cy="3645.3" r="6.2"/><circle cx="558.5" cy="3760.9" r="6.2"/><circle cx="585" cy="3790.2" r="6.2"/><circle cx="624" cy="3813" r="6.2"/><circle cx="650" cy="3725.1" r="6.2"/><circle cx="676" cy="3739.7" r="6.2"/><circle cx="702" cy="3757.7" r="6.2"/><circle cx="728" cy="3547.6" r="6.2"/><circle cx="754.5" cy="2852" r="6.2"/><circle cx="793.5" cy="3397.7" r="6.2"/><circle cx="819.5" cy="3803.3" r="6.2"/><circle cx="845.5" cy="3821.2" r="6.2"/><circle cx="872" cy="3824.4" r="6.2"/><circle cx="898" cy="3827.7" r="6.2"/><circle cx="937" cy="3826" r="6.2"/><circle cx="963" cy="3834.2" r="6.2"/><circle cx="989" cy="3826" r="6.2"/><circle cx="1015" cy="3783.7" r="6.2"/><circle cx="1041" cy="3713.7" r="6.2"/><circle cx="1080.5" cy="3775.6" r="6.2"/><circle cx="1106.5" cy="3817.9" r="6.2"/><circle cx="1132.5" cy="3791.9" r="6.2"/><circle cx="1158.5" cy="3751.1" r="6.2"/><circle cx="1184.5" cy="3821.2" r="6.2"/><circle cx="1224" cy="3809.8" r="6.2"/><circle cx="1250" cy="3816.3" r="6.2"/><circle cx="1276" cy="3822.8" r="6.2"/><circle cx="1302" cy="3804.9" r="6.2"/><circle cx="1328" cy="3814.7" r="6.2"/><circle cx="1367" cy="3831" r="6.2"/><circle cx="1393" cy="3817.9" r="6.2"/><circle cx="1419" cy="3808.8" r="6.2"/><circle cx="1444" cy="3807.6" r="6.2"/><circle cx="1470" cy="3820.7" r="6.2"/><circle cx="1509.5" cy="3818.8" r="6.2"/><circle cx="1535.5" cy="3792.6" r="6.2"/><circle cx="1562" cy="3813.2" r="6.2"/><circle cx="1587" cy="3813.2" r="6.2"/><circle cx="1613.5" cy="3822.5" r="6.2"/><circle cx="1653" cy="3816.9" r="6.2"/><circle cx="1678" cy="3809.4" r="6.2"/><circle cx="1705" cy="3803.8" r="6.2"/><circle cx="1730" cy="3792.6" r="6.2"/><circle cx="1757" cy="3811.3" r="6.2"/><circle cx="1796" cy="3772" r="6.2"/><circle cx="1822.5" cy="3824.4" r="6.2"/></g>
<rect x="945" y="2869" width="148" height="3.6" fill="#ff3333"/>
<rect x="945" y="2872.6" width="148" height="3.6" fill="#ffb0b0"/>
<rect x="1013" y="2865" width="12" height="15" fill="#ff0000"/>
<rect x="945" y="2949" width="148" height="7.6" fill="#8080ff"/>
<rect x="1013" y="2945" width="12" height="15" fill="#0000ff"/>
<rect x="945" y="3033" width="148" height="3.8" fill="#00ff00"/>
<rect x="1013" y="3029" width="12" height="12" fill="#00ff00"/>
<text x="1099" y="2895" font-family="'Liberation Serif', 'Times New Roman', serif" font-size="68" font-weight="bold" fill="#1e1e1e" text-anchor="start" textLength="684" lengthAdjust="spacingAndGlyphs" stroke="#fff" stroke-width="1.2" >microwave radiometer</text>
<text x="1099" y="2975" font-family="'Liberation Serif', 'Times New Roman', serif" font-size="68" font-weight="bold" fill="#1e1e1e" text-anchor="start" textLength="566" lengthAdjust="spacingAndGlyphs" stroke="#fff" stroke-width="1.2" >combined retrieval</text>
<text x="1097" y="3056" font-family="'Liberation Serif', 'Times New Roman', serif" font-size="68" font-weight="bold" fill="#1e1e1e" text-anchor="start" textLength="262" lengthAdjust="spacingAndGlyphs" stroke="#fff" stroke-width="1.2" >MMWR</text>
</svg></body></html>
